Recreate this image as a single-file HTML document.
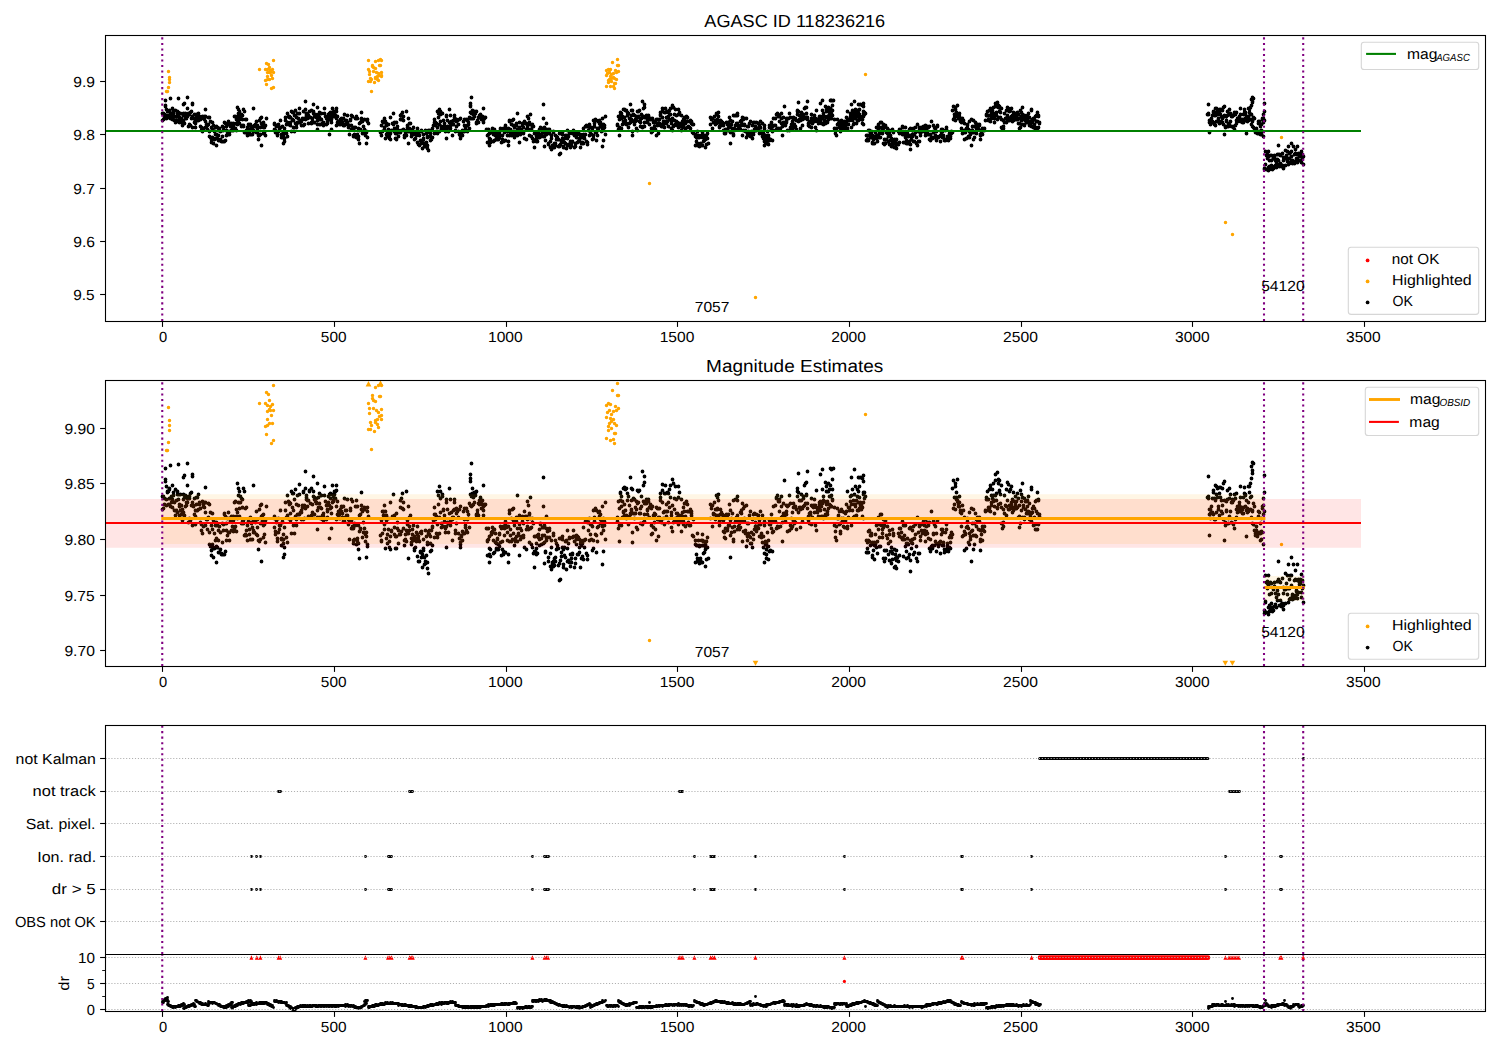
<!DOCTYPE html>
<html lang="en"><head><meta charset="utf-8"><title>AGASC ID 118236216</title>
<style>html,body{margin:0;padding:0;background:#fff;width:1500px;height:1050px;overflow:hidden}svg{display:block;position:absolute;left:0;top:0;font-family:"Liberation Sans",sans-serif}</style></head>
<body>
<svg width="1500" height="1050" viewBox="0 0 1500 1050" font-family="'Liberation Sans', sans-serif" fill="#000" shape-rendering="auto" text-rendering="geometricPrecision">
<defs>
<clipPath id="c1"><rect x="105.5" y="35.5" width="1380.0" height="286.0"/></clipPath>
<clipPath id="c2"><rect x="105.5" y="380.5" width="1380.0" height="286.0"/></clipPath>
<clipPath id="c3"><rect x="105.5" y="725.5" width="1380.0" height="286.0"/></clipPath>
</defs>
<rect width="1500" height="1050" fill="#fff"/>
<g id="ax1">
<path d="M162.5 113.5h.01M162.5 120.5h.01M163.5 113.5h.01M163.5 119.5h.01M164.5 117.5h.01M164.5 114.5h.01M165.5 105.5h.01M165.5 100.5h.01M165.5 106.5h.01M166.5 118.5h.01M166.5 109.5h.01M166.5 115.5h.01M167.5 111.5h.01M168.5 111.5h.01M168.5 117.5h.01M169.5 110.5h.01M169.5 115.5h.01M170.5 98.5h.01M170.5 114.5h.01M170.5 118.5h.01M171.5 113.5h.01M171.5 116.5h.01M172.5 119.5h.01M172.5 108.5h.01M172.5 115.5h.01M173.5 111.5h.01M173.5 113.5h.01M174.5 120.5h.01M174.5 116.5h.01M175.5 110.5h.01M175.5 122.5h.01M176.5 116.5h.01M176.5 120.5h.01M177.5 111.5h.01M177.5 121.5h.01M177.5 113.5h.01M178.5 112.5h.01M178.5 98.5h.01M178.5 115.5h.01M179.5 117.5h.01M179.5 118.5h.01M179.5 122.5h.01M180.5 113.5h.01M180.5 120.5h.01M181.5 122.5h.01M181.5 118.5h.01M182.5 120.5h.01M182.5 125.5h.01M183.5 104.5h.01M183.5 121.5h.01M183.5 115.5h.01M183.5 113.5h.01M184.5 114.5h.01M184.5 123.5h.01M184.5 103.5h.01M185.5 118.5h.01M185.5 113.5h.01M186.5 116.5h.01M186.5 118.5h.01M187.5 116.5h.01M187.5 108.5h.01M187.5 97.5h.01M187.5 114.5h.01M188.5 113.5h.01M188.5 126.5h.01M189.5 114.5h.01M189.5 124.5h.01M190.5 125.5h.01M190.5 112.5h.01M191.5 111.5h.01M191.5 118.5h.01M192.5 104.5h.01M192.5 127.5h.01M192.5 103.5h.01M192.5 116.5h.01M193.5 118.5h.01M194.5 122.5h.01M194.5 114.5h.01M195.5 123.5h.01M195.5 120.5h.01M195.5 127.5h.01M196.5 117.5h.01M196.5 114.5h.01M197.5 114.5h.01M197.5 120.5h.01M198.5 113.5h.01M198.5 120.5h.01M199.5 118.5h.01M199.5 116.5h.01M200.5 126.5h.01M200.5 119.5h.01M201.5 130.5h.01M201.5 127.5h.01M202.5 131.5h.01M202.5 116.5h.01M203.5 128.5h.01M203.5 117.5h.01M203.5 118.5h.01M204.5 119.5h.01M204.5 116.5h.01M205.5 127.5h.01M205.5 109.5h.01M205.5 121.5h.01M205.5 116.5h.01M206.5 124.5h.01M207.5 124.5h.01M207.5 125.5h.01M207.5 129.5h.01M208.5 117.5h.01M208.5 124.5h.01M209.5 117.5h.01M209.5 136.5h.01M209.5 131.5h.01M210.5 121.5h.01M210.5 137.5h.01M211.5 139.5h.01M211.5 142.5h.01M211.5 127.5h.01M212.5 122.5h.01M212.5 129.5h.01M212.5 137.5h.01M213.5 143.5h.01M213.5 125.5h.01M213.5 138.5h.01M214.5 131.5h.01M214.5 139.5h.01M215.5 127.5h.01M215.5 134.5h.01M216.5 138.5h.01M216.5 145.5h.01M216.5 126.5h.01M216.5 134.5h.01M217.5 127.5h.01M217.5 138.5h.01M218.5 135.5h.01M218.5 140.5h.01M218.5 130.5h.01M219.5 140.5h.01M219.5 128.5h.01M220.5 139.5h.01M220.5 131.5h.01M221.5 141.5h.01M222.5 136.5h.01M222.5 126.5h.01M223.5 130.5h.01M223.5 141.5h.01M223.5 127.5h.01M224.5 122.5h.01M224.5 141.5h.01M225.5 140.5h.01M225.5 123.5h.01M226.5 126.5h.01M226.5 135.5h.01M226.5 130.5h.01M227.5 132.5h.01M227.5 124.5h.01M228.5 131.5h.01M228.5 121.5h.01M229.5 124.5h.01M229.5 134.5h.01M229.5 131.5h.01M230.5 125.5h.01M230.5 126.5h.01M231.5 130.5h.01M231.5 123.5h.01M232.5 128.5h.01M232.5 125.5h.01M233.5 125.5h.01M233.5 123.5h.01M233.5 130.5h.01M234.5 116.5h.01M234.5 129.5h.01M235.5 116.5h.01M235.5 128.5h.01M236.5 123.5h.01M236.5 130.5h.01M236.5 119.5h.01M237.5 124.5h.01M237.5 107.5h.01M237.5 121.5h.01M238.5 116.5h.01M238.5 109.5h.01M238.5 113.5h.01M239.5 123.5h.01M239.5 111.5h.01M239.5 119.5h.01M240.5 114.5h.01M240.5 116.5h.01M241.5 126.5h.01M241.5 114.5h.01M242.5 125.5h.01M242.5 119.5h.01M242.5 115.5h.01M243.5 109.5h.01M243.5 126.5h.01M243.5 125.5h.01M244.5 132.5h.01M244.5 111.5h.01M245.5 119.5h.01M245.5 132.5h.01M246.5 119.5h.01M246.5 132.5h.01M246.5 130.5h.01M247.5 135.5h.01M247.5 127.5h.01M248.5 125.5h.01M248.5 124.5h.01M249.5 124.5h.01M249.5 132.5h.01M249.5 129.5h.01M250.5 124.5h.01M250.5 134.5h.01M251.5 126.5h.01M252.5 128.5h.01M252.5 134.5h.01M253.5 130.5h.01M253.5 108.5h.01M253.5 126.5h.01M253.5 131.5h.01M254.5 131.5h.01M254.5 125.5h.01M255.5 126.5h.01M255.5 124.5h.01M256.5 132.5h.01M256.5 121.5h.01M257.5 132.5h.01M257.5 128.5h.01M257.5 125.5h.01M258.5 135.5h.01M258.5 139.5h.01M259.5 135.5h.01M259.5 120.5h.01M260.5 127.5h.01M260.5 134.5h.01M260.5 118.5h.01M261.5 145.5h.01M261.5 123.5h.01M261.5 117.5h.01M262.5 123.5h.01M262.5 125.5h.01M263.5 127.5h.01M263.5 133.5h.01M263.5 122.5h.01M264.5 132.5h.01M264.5 127.5h.01M265.5 135.5h.01M265.5 125.5h.01M266.5 118.5h.01M274.5 123.5h.01M274.5 129.5h.01M274.5 124.5h.01M275.5 130.5h.01M275.5 132.5h.01M276.5 125.5h.01M276.5 126.5h.01M277.5 135.5h.01M277.5 134.5h.01M278.5 131.5h.01M278.5 124.5h.01M279.5 129.5h.01M279.5 127.5h.01M280.5 127.5h.01M280.5 120.5h.01M281.5 137.5h.01M281.5 134.5h.01M282.5 126.5h.01M283.5 136.5h.01M283.5 143.5h.01M283.5 132.5h.01M283.5 134.5h.01M284.5 128.5h.01M284.5 141.5h.01M284.5 138.5h.01M285.5 117.5h.01M285.5 120.5h.01M286.5 133.5h.01M286.5 124.5h.01M287.5 136.5h.01M287.5 122.5h.01M287.5 113.5h.01M288.5 124.5h.01M288.5 116.5h.01M289.5 116.5h.01M289.5 117.5h.01M290.5 117.5h.01M290.5 122.5h.01M290.5 125.5h.01M291.5 131.5h.01M291.5 111.5h.01M292.5 112.5h.01M292.5 119.5h.01M293.5 120.5h.01M293.5 112.5h.01M293.5 127.5h.01M294.5 115.5h.01M294.5 131.5h.01M295.5 123.5h.01M295.5 110.5h.01M296.5 127.5h.01M296.5 117.5h.01M296.5 124.5h.01M297.5 122.5h.01M297.5 113.5h.01M298.5 118.5h.01M298.5 122.5h.01M299.5 108.5h.01M299.5 113.5h.01M299.5 122.5h.01M300.5 121.5h.01M301.5 120.5h.01M301.5 121.5h.01M301.5 125.5h.01M302.5 118.5h.01M302.5 119.5h.01M303.5 125.5h.01M303.5 111.5h.01M304.5 118.5h.01M304.5 124.5h.01M305.5 119.5h.01M305.5 101.5h.01M305.5 109.5h.01M306.5 113.5h.01M306.5 114.5h.01M306.5 115.5h.01M307.5 118.5h.01M307.5 116.5h.01M308.5 123.5h.01M308.5 115.5h.01M309.5 111.5h.01M310.5 117.5h.01M311.5 122.5h.01M311.5 110.5h.01M311.5 123.5h.01M312.5 118.5h.01M312.5 121.5h.01M313.5 113.5h.01M313.5 104.5h.01M313.5 111.5h.01M314.5 122.5h.01M314.5 114.5h.01M314.5 115.5h.01M315.5 114.5h.01M315.5 116.5h.01M316.5 117.5h.01M316.5 115.5h.01M317.5 129.5h.01M317.5 124.5h.01M317.5 107.5h.01M317.5 120.5h.01M318.5 119.5h.01M318.5 114.5h.01M319.5 112.5h.01M319.5 124.5h.01M319.5 117.5h.01M320.5 124.5h.01M320.5 119.5h.01M321.5 113.5h.01M321.5 119.5h.01M322.5 124.5h.01M322.5 123.5h.01M323.5 123.5h.01M323.5 125.5h.01M323.5 122.5h.01M324.5 108.5h.01M324.5 124.5h.01M324.5 113.5h.01M325.5 116.5h.01M326.5 118.5h.01M326.5 124.5h.01M327.5 123.5h.01M327.5 120.5h.01M327.5 121.5h.01M328.5 114.5h.01M328.5 116.5h.01M329.5 118.5h.01M329.5 134.5h.01M329.5 113.5h.01M330.5 119.5h.01M330.5 115.5h.01M330.5 112.5h.01M331.5 119.5h.01M331.5 129.5h.01M331.5 122.5h.01M332.5 116.5h.01M332.5 108.5h.01M332.5 112.5h.01M333.5 114.5h.01M333.5 116.5h.01M333.5 115.5h.01M334.5 112.5h.01M334.5 111.5h.01M335.5 111.5h.01M335.5 115.5h.01M336.5 111.5h.01M336.5 108.5h.01M336.5 118.5h.01M336.5 125.5h.01M337.5 122.5h.01M337.5 116.5h.01M338.5 123.5h.01M338.5 121.5h.01M339.5 122.5h.01M339.5 124.5h.01M340.5 124.5h.01M340.5 119.5h.01M341.5 120.5h.01M341.5 119.5h.01M341.5 118.5h.01M342.5 123.5h.01M342.5 122.5h.01M343.5 125.5h.01M343.5 124.5h.01M343.5 118.5h.01M344.5 114.5h.01M344.5 125.5h.01M345.5 124.5h.01M345.5 120.5h.01M346.5 123.5h.01M346.5 120.5h.01M347.5 115.5h.01M347.5 122.5h.01M347.5 123.5h.01M348.5 125.5h.01M348.5 127.5h.01M349.5 134.5h.01M349.5 125.5h.01M350.5 120.5h.01M350.5 119.5h.01M351.5 129.5h.01M351.5 125.5h.01M351.5 115.5h.01M352.5 116.5h.01M352.5 128.5h.01M353.5 129.5h.01M353.5 135.5h.01M353.5 136.5h.01M354.5 127.5h.01M354.5 134.5h.01M355.5 118.5h.01M355.5 127.5h.01M356.5 137.5h.01M356.5 116.5h.01M357.5 134.5h.01M357.5 118.5h.01M357.5 135.5h.01M358.5 139.5h.01M358.5 128.5h.01M358.5 136.5h.01M359.5 123.5h.01M359.5 143.5h.01M359.5 130.5h.01M360.5 122.5h.01M360.5 129.5h.01M361.5 112.5h.01M361.5 118.5h.01M361.5 119.5h.01M362.5 133.5h.01M362.5 121.5h.01M363.5 131.5h.01M363.5 126.5h.01M364.5 119.5h.01M364.5 129.5h.01M365.5 132.5h.01M365.5 135.5h.01M366.5 131.5h.01M366.5 143.5h.01M366.5 132.5h.01M367.5 137.5h.01M367.5 121.5h.01M367.5 119.5h.01M368.5 123.5h.01M380.5 132.5h.01M381.5 125.5h.01M381.5 135.5h.01M382.5 121.5h.01M382.5 131.5h.01M383.5 122.5h.01M383.5 121.5h.01M384.5 127.5h.01M384.5 129.5h.01M384.5 118.5h.01M385.5 138.5h.01M385.5 121.5h.01M386.5 125.5h.01M386.5 123.5h.01M386.5 134.5h.01M387.5 136.5h.01M387.5 132.5h.01M388.5 124.5h.01M388.5 129.5h.01M389.5 138.5h.01M389.5 135.5h.01M390.5 133.5h.01M390.5 117.5h.01M390.5 139.5h.01M391.5 130.5h.01M392.5 123.5h.01M393.5 113.5h.01M393.5 124.5h.01M394.5 128.5h.01M394.5 131.5h.01M394.5 122.5h.01M395.5 133.5h.01M395.5 138.5h.01M396.5 139.5h.01M396.5 133.5h.01M396.5 122.5h.01M397.5 129.5h.01M397.5 126.5h.01M398.5 130.5h.01M398.5 136.5h.01M399.5 132.5h.01M400.5 132.5h.01M400.5 115.5h.01M400.5 119.5h.01M401.5 130.5h.01M401.5 114.5h.01M402.5 119.5h.01M402.5 112.5h.01M403.5 116.5h.01M403.5 129.5h.01M403.5 120.5h.01M404.5 137.5h.01M404.5 135.5h.01M405.5 132.5h.01M405.5 134.5h.01M406.5 135.5h.01M406.5 111.5h.01M406.5 130.5h.01M407.5 127.5h.01M407.5 131.5h.01M407.5 125.5h.01M408.5 118.5h.01M408.5 143.5h.01M408.5 131.5h.01M409.5 123.5h.01M409.5 130.5h.01M409.5 128.5h.01M410.5 123.5h.01M411.5 136.5h.01M411.5 133.5h.01M412.5 129.5h.01M412.5 132.5h.01M413.5 127.5h.01M413.5 134.5h.01M414.5 132.5h.01M414.5 139.5h.01M415.5 138.5h.01M415.5 134.5h.01M416.5 135.5h.01M416.5 131.5h.01M417.5 132.5h.01M417.5 128.5h.01M417.5 142.5h.01M418.5 133.5h.01M418.5 144.5h.01M418.5 134.5h.01M419.5 135.5h.01M419.5 145.5h.01M420.5 140.5h.01M420.5 131.5h.01M421.5 131.5h.01M421.5 143.5h.01M421.5 130.5h.01M422.5 148.5h.01M422.5 141.5h.01M423.5 134.5h.01M423.5 139.5h.01M423.5 138.5h.01M424.5 146.5h.01M424.5 143.5h.01M425.5 144.5h.01M425.5 146.5h.01M425.5 130.5h.01M426.5 133.5h.01M426.5 142.5h.01M427.5 145.5h.01M427.5 148.5h.01M427.5 137.5h.01M427.5 136.5h.01M428.5 131.5h.01M428.5 150.5h.01M428.5 130.5h.01M429.5 132.5h.01M429.5 130.5h.01M430.5 140.5h.01M430.5 136.5h.01M430.5 133.5h.01M431.5 139.5h.01M431.5 130.5h.01M432.5 128.5h.01M432.5 137.5h.01M433.5 125.5h.01M434.5 122.5h.01M434.5 119.5h.01M434.5 133.5h.01M435.5 122.5h.01M435.5 125.5h.01M436.5 123.5h.01M436.5 131.5h.01M437.5 127.5h.01M437.5 111.5h.01M437.5 132.5h.01M437.5 133.5h.01M438.5 113.5h.01M438.5 117.5h.01M439.5 124.5h.01M439.5 109.5h.01M439.5 131.5h.01M440.5 114.5h.01M440.5 121.5h.01M440.5 111.5h.01M441.5 126.5h.01M441.5 128.5h.01M442.5 113.5h.01M443.5 128.5h.01M443.5 120.5h.01M444.5 126.5h.01M444.5 123.5h.01M445.5 129.5h.01M445.5 131.5h.01M446.5 116.5h.01M446.5 138.5h.01M446.5 115.5h.01M446.5 128.5h.01M447.5 120.5h.01M447.5 126.5h.01M448.5 131.5h.01M448.5 127.5h.01M449.5 109.5h.01M449.5 122.5h.01M449.5 126.5h.01M450.5 128.5h.01M450.5 125.5h.01M450.5 115.5h.01M451.5 121.5h.01M452.5 124.5h.01M452.5 135.5h.01M453.5 120.5h.01M453.5 124.5h.01M454.5 117.5h.01M454.5 120.5h.01M454.5 115.5h.01M455.5 130.5h.01M455.5 131.5h.01M456.5 126.5h.01M456.5 119.5h.01M456.5 121.5h.01M457.5 120.5h.01M458.5 124.5h.01M458.5 131.5h.01M459.5 119.5h.01M459.5 134.5h.01M460.5 138.5h.01M460.5 118.5h.01M460.5 136.5h.01M461.5 133.5h.01M461.5 132.5h.01M462.5 130.5h.01M462.5 135.5h.01M463.5 121.5h.01M463.5 131.5h.01M464.5 119.5h.01M464.5 125.5h.01M464.5 131.5h.01M465.5 129.5h.01M465.5 127.5h.01M466.5 119.5h.01M466.5 130.5h.01M467.5 120.5h.01M467.5 125.5h.01M467.5 131.5h.01M468.5 122.5h.01M468.5 124.5h.01M469.5 128.5h.01M469.5 117.5h.01M470.5 118.5h.01M470.5 103.5h.01M470.5 105.5h.01M470.5 106.5h.01M470.5 112.5h.01M471.5 118.5h.01M471.5 97.5h.01M471.5 113.5h.01M472.5 110.5h.01M472.5 112.5h.01M472.5 118.5h.01M473.5 114.5h.01M473.5 118.5h.01M473.5 112.5h.01M474.5 111.5h.01M474.5 116.5h.01M475.5 113.5h.01M475.5 112.5h.01M476.5 111.5h.01M476.5 122.5h.01M476.5 123.5h.01M477.5 120.5h.01M477.5 122.5h.01M478.5 122.5h.01M478.5 117.5h.01M479.5 115.5h.01M479.5 117.5h.01M480.5 116.5h.01M480.5 114.5h.01M481.5 117.5h.01M481.5 119.5h.01M482.5 117.5h.01M482.5 116.5h.01M483.5 122.5h.01M483.5 108.5h.01M483.5 120.5h.01M483.5 118.5h.01M484.5 118.5h.01M484.5 117.5h.01M485.5 117.5h.01M486.5 129.5h.01M487.5 135.5h.01M487.5 142.5h.01M488.5 129.5h.01M488.5 134.5h.01M489.5 141.5h.01M489.5 145.5h.01M489.5 133.5h.01M489.5 138.5h.01M490.5 142.5h.01M490.5 139.5h.01M491.5 131.5h.01M491.5 132.5h.01M492.5 131.5h.01M492.5 128.5h.01M492.5 130.5h.01M493.5 134.5h.01M493.5 141.5h.01M494.5 129.5h.01M494.5 140.5h.01M495.5 135.5h.01M495.5 131.5h.01M496.5 139.5h.01M496.5 136.5h.01M496.5 138.5h.01M497.5 133.5h.01M497.5 134.5h.01M498.5 139.5h.01M498.5 136.5h.01M499.5 132.5h.01M499.5 137.5h.01M499.5 131.5h.01M500.5 128.5h.01M500.5 135.5h.01M501.5 129.5h.01M501.5 142.5h.01M502.5 139.5h.01M502.5 135.5h.01M503.5 141.5h.01M503.5 140.5h.01M503.5 128.5h.01M504.5 129.5h.01M504.5 132.5h.01M505.5 140.5h.01M505.5 125.5h.01M505.5 127.5h.01M506.5 128.5h.01M507.5 135.5h.01M507.5 131.5h.01M508.5 145.5h.01M508.5 128.5h.01M508.5 141.5h.01M509.5 121.5h.01M509.5 135.5h.01M509.5 120.5h.01M510.5 129.5h.01M510.5 132.5h.01M511.5 135.5h.01M511.5 124.5h.01M512.5 120.5h.01M512.5 134.5h.01M513.5 131.5h.01M513.5 125.5h.01M513.5 119.5h.01M514.5 137.5h.01M514.5 127.5h.01M515.5 135.5h.01M515.5 133.5h.01M516.5 125.5h.01M516.5 123.5h.01M516.5 133.5h.01M517.5 135.5h.01M517.5 113.5h.01M517.5 129.5h.01M518.5 132.5h.01M518.5 131.5h.01M519.5 127.5h.01M519.5 142.5h.01M519.5 122.5h.01M520.5 134.5h.01M520.5 129.5h.01M521.5 130.5h.01M521.5 133.5h.01M522.5 125.5h.01M522.5 123.5h.01M523.5 127.5h.01M523.5 132.5h.01M523.5 133.5h.01M524.5 138.5h.01M524.5 121.5h.01M525.5 123.5h.01M526.5 139.5h.01M526.5 123.5h.01M526.5 129.5h.01M527.5 128.5h.01M527.5 116.5h.01M527.5 125.5h.01M528.5 129.5h.01M528.5 118.5h.01M529.5 122.5h.01M529.5 135.5h.01M530.5 124.5h.01M530.5 114.5h.01M530.5 129.5h.01M531.5 136.5h.01M531.5 129.5h.01M532.5 126.5h.01M532.5 124.5h.01M532.5 138.5h.01M533.5 126.5h.01M533.5 141.5h.01M534.5 147.5h.01M534.5 140.5h.01M534.5 133.5h.01M535.5 140.5h.01M535.5 133.5h.01M536.5 136.5h.01M536.5 141.5h.01M536.5 138.5h.01M537.5 132.5h.01M537.5 141.5h.01M538.5 132.5h.01M538.5 133.5h.01M539.5 134.5h.01M539.5 137.5h.01M539.5 129.5h.01M540.5 127.5h.01M541.5 134.5h.01M541.5 136.5h.01M542.5 132.5h.01M542.5 128.5h.01M543.5 136.5h.01M543.5 104.5h.01M543.5 118.5h.01M543.5 129.5h.01M544.5 127.5h.01M544.5 132.5h.01M544.5 146.5h.01M544.5 136.5h.01M545.5 140.5h.01M546.5 134.5h.01M546.5 123.5h.01M546.5 129.5h.01M547.5 133.5h.01M547.5 130.5h.01M548.5 143.5h.01M548.5 144.5h.01M548.5 129.5h.01M549.5 133.5h.01M549.5 130.5h.01M549.5 129.5h.01M550.5 141.5h.01M550.5 147.5h.01M551.5 138.5h.01M551.5 149.5h.01M551.5 135.5h.01M552.5 145.5h.01M552.5 146.5h.01M553.5 147.5h.01M553.5 131.5h.01M553.5 132.5h.01M553.5 145.5h.01M554.5 143.5h.01M554.5 147.5h.01M555.5 145.5h.01M555.5 143.5h.01M555.5 135.5h.01M556.5 139.5h.01M556.5 136.5h.01M557.5 138.5h.01M557.5 137.5h.01M558.5 139.5h.01M558.5 146.5h.01M559.5 154.5h.01M559.5 133.5h.01M559.5 145.5h.01M559.5 146.5h.01M560.5 153.5h.01M560.5 144.5h.01M560.5 133.5h.01M561.5 140.5h.01M561.5 142.5h.01M562.5 134.5h.01M562.5 132.5h.01M562.5 138.5h.01M563.5 147.5h.01M563.5 146.5h.01M563.5 139.5h.01M564.5 138.5h.01M564.5 142.5h.01M565.5 143.5h.01M565.5 135.5h.01M566.5 148.5h.01M566.5 135.5h.01M567.5 145.5h.01M567.5 138.5h.01M567.5 130.5h.01M568.5 144.5h.01M568.5 136.5h.01M569.5 133.5h.01M569.5 145.5h.01M570.5 147.5h.01M570.5 141.5h.01M571.5 145.5h.01M571.5 143.5h.01M572.5 141.5h.01M572.5 133.5h.01M573.5 130.5h.01M573.5 133.5h.01M574.5 133.5h.01M574.5 147.5h.01M574.5 135.5h.01M575.5 143.5h.01M575.5 146.5h.01M576.5 137.5h.01M576.5 134.5h.01M576.5 132.5h.01M577.5 142.5h.01M577.5 133.5h.01M578.5 141.5h.01M578.5 133.5h.01M579.5 138.5h.01M579.5 134.5h.01M579.5 140.5h.01M580.5 147.5h.01M580.5 136.5h.01M580.5 134.5h.01M581.5 137.5h.01M581.5 143.5h.01M582.5 136.5h.01M582.5 142.5h.01M583.5 134.5h.01M583.5 128.5h.01M583.5 143.5h.01M584.5 138.5h.01M584.5 135.5h.01M585.5 134.5h.01M585.5 126.5h.01M586.5 125.5h.01M586.5 141.5h.01M587.5 144.5h.01M587.5 142.5h.01M587.5 126.5h.01M588.5 130.5h.01M588.5 126.5h.01M589.5 135.5h.01M589.5 124.5h.01M590.5 127.5h.01M590.5 132.5h.01M591.5 134.5h.01M591.5 127.5h.01M592.5 128.5h.01M592.5 139.5h.01M593.5 120.5h.01M593.5 135.5h.01M593.5 138.5h.01M594.5 126.5h.01M594.5 123.5h.01M595.5 119.5h.01M595.5 132.5h.01M596.5 120.5h.01M596.5 140.5h.01M596.5 132.5h.01M597.5 135.5h.01M597.5 128.5h.01M598.5 128.5h.01M598.5 121.5h.01M599.5 123.5h.01M599.5 120.5h.01M600.5 125.5h.01M600.5 126.5h.01M600.5 122.5h.01M601.5 125.5h.01M601.5 131.5h.01M602.5 118.5h.01M602.5 146.5h.01M602.5 128.5h.01M603.5 124.5h.01M603.5 126.5h.01M603.5 140.5h.01M603.5 130.5h.01M604.5 127.5h.01M604.5 125.5h.01M605.5 116.5h.01M605.5 134.5h.01M617.5 124.5h.01M617.5 125.5h.01M618.5 116.5h.01M618.5 129.5h.01M619.5 127.5h.01M619.5 135.5h.01M619.5 119.5h.01M620.5 115.5h.01M620.5 112.5h.01M621.5 128.5h.01M621.5 113.5h.01M621.5 118.5h.01M622.5 124.5h.01M622.5 116.5h.01M623.5 109.5h.01M623.5 121.5h.01M624.5 123.5h.01M624.5 109.5h.01M624.5 117.5h.01M625.5 120.5h.01M625.5 110.5h.01M626.5 124.5h.01M626.5 123.5h.01M626.5 110.5h.01M627.5 115.5h.01M627.5 112.5h.01M628.5 113.5h.01M628.5 127.5h.01M629.5 123.5h.01M629.5 118.5h.01M630.5 122.5h.01M630.5 121.5h.01M630.5 104.5h.01M631.5 115.5h.01M631.5 120.5h.01M631.5 110.5h.01M631.5 119.5h.01M632.5 110.5h.01M632.5 135.5h.01M632.5 131.5h.01M633.5 121.5h.01M633.5 114.5h.01M634.5 122.5h.01M634.5 124.5h.01M634.5 115.5h.01M635.5 119.5h.01M635.5 121.5h.01M636.5 116.5h.01M636.5 120.5h.01M636.5 128.5h.01M637.5 111.5h.01M637.5 130.5h.01M637.5 117.5h.01M638.5 116.5h.01M638.5 111.5h.01M639.5 110.5h.01M639.5 121.5h.01M640.5 126.5h.01M640.5 119.5h.01M640.5 122.5h.01M641.5 118.5h.01M641.5 114.5h.01M642.5 101.5h.01M642.5 127.5h.01M643.5 108.5h.01M643.5 126.5h.01M643.5 116.5h.01M644.5 122.5h.01M644.5 107.5h.01M644.5 117.5h.01M644.5 104.5h.01M644.5 126.5h.01M645.5 117.5h.01M646.5 117.5h.01M646.5 115.5h.01M647.5 122.5h.01M647.5 120.5h.01M647.5 119.5h.01M648.5 115.5h.01M648.5 116.5h.01M649.5 124.5h.01M649.5 119.5h.01M650.5 118.5h.01M651.5 119.5h.01M651.5 128.5h.01M651.5 132.5h.01M652.5 118.5h.01M652.5 131.5h.01M653.5 128.5h.01M653.5 122.5h.01M654.5 126.5h.01M654.5 121.5h.01M654.5 122.5h.01M655.5 122.5h.01M655.5 129.5h.01M656.5 119.5h.01M656.5 135.5h.01M657.5 119.5h.01M657.5 125.5h.01M658.5 133.5h.01M658.5 124.5h.01M658.5 123.5h.01M659.5 119.5h.01M659.5 123.5h.01M660.5 115.5h.01M660.5 112.5h.01M660.5 114.5h.01M660.5 125.5h.01M661.5 126.5h.01M661.5 124.5h.01M662.5 111.5h.01M662.5 108.5h.01M662.5 117.5h.01M663.5 121.5h.01M663.5 124.5h.01M664.5 112.5h.01M664.5 127.5h.01M664.5 121.5h.01M665.5 112.5h.01M665.5 108.5h.01M666.5 123.5h.01M666.5 121.5h.01M666.5 117.5h.01M667.5 111.5h.01M667.5 121.5h.01M668.5 112.5h.01M668.5 116.5h.01M668.5 126.5h.01M669.5 110.5h.01M669.5 119.5h.01M670.5 108.5h.01M670.5 114.5h.01M671.5 123.5h.01M671.5 128.5h.01M671.5 121.5h.01M672.5 130.5h.01M672.5 105.5h.01M672.5 118.5h.01M673.5 107.5h.01M673.5 126.5h.01M674.5 120.5h.01M674.5 125.5h.01M674.5 114.5h.01M675.5 124.5h.01M675.5 109.5h.01M676.5 115.5h.01M676.5 121.5h.01M677.5 123.5h.01M677.5 125.5h.01M677.5 122.5h.01M678.5 114.5h.01M678.5 109.5h.01M678.5 127.5h.01M679.5 125.5h.01M679.5 112.5h.01M679.5 123.5h.01M680.5 125.5h.01M680.5 126.5h.01M681.5 130.5h.01M681.5 115.5h.01M681.5 123.5h.01M682.5 123.5h.01M682.5 121.5h.01M683.5 119.5h.01M683.5 126.5h.01M683.5 127.5h.01M684.5 117.5h.01M684.5 120.5h.01M685.5 123.5h.01M685.5 128.5h.01M686.5 117.5h.01M686.5 116.5h.01M687.5 121.5h.01M687.5 117.5h.01M687.5 127.5h.01M688.5 126.5h.01M689.5 127.5h.01M689.5 121.5h.01M690.5 128.5h.01M690.5 120.5h.01M691.5 123.5h.01M691.5 121.5h.01M691.5 122.5h.01M692.5 132.5h.01M692.5 124.5h.01M693.5 124.5h.01M693.5 133.5h.01M695.5 145.5h.01M695.5 134.5h.01M695.5 136.5h.01M696.5 141.5h.01M696.5 137.5h.01M697.5 131.5h.01M697.5 143.5h.01M697.5 145.5h.01M697.5 137.5h.01M698.5 135.5h.01M699.5 137.5h.01M699.5 146.5h.01M699.5 144.5h.01M700.5 144.5h.01M700.5 143.5h.01M701.5 145.5h.01M701.5 135.5h.01M702.5 135.5h.01M702.5 132.5h.01M702.5 145.5h.01M702.5 137.5h.01M703.5 135.5h.01M703.5 141.5h.01M704.5 135.5h.01M704.5 140.5h.01M705.5 139.5h.01M705.5 147.5h.01M705.5 137.5h.01M705.5 136.5h.01M706.5 135.5h.01M706.5 144.5h.01M707.5 138.5h.01M707.5 133.5h.01M708.5 143.5h.01M710.5 117.5h.01M710.5 124.5h.01M711.5 118.5h.01M711.5 119.5h.01M712.5 128.5h.01M712.5 118.5h.01M713.5 122.5h.01M714.5 122.5h.01M714.5 116.5h.01M715.5 120.5h.01M715.5 124.5h.01M716.5 123.5h.01M716.5 113.5h.01M717.5 120.5h.01M717.5 114.5h.01M717.5 119.5h.01M718.5 122.5h.01M718.5 112.5h.01M718.5 116.5h.01M719.5 126.5h.01M719.5 127.5h.01M720.5 122.5h.01M720.5 120.5h.01M720.5 125.5h.01M721.5 125.5h.01M721.5 121.5h.01M722.5 122.5h.01M722.5 124.5h.01M723.5 130.5h.01M723.5 125.5h.01M723.5 123.5h.01M724.5 133.5h.01M724.5 131.5h.01M725.5 133.5h.01M725.5 129.5h.01M726.5 122.5h.01M727.5 130.5h.01M727.5 124.5h.01M727.5 129.5h.01M728.5 122.5h.01M728.5 127.5h.01M729.5 127.5h.01M729.5 117.5h.01M730.5 120.5h.01M730.5 143.5h.01M730.5 132.5h.01M730.5 125.5h.01M731.5 124.5h.01M731.5 131.5h.01M732.5 121.5h.01M732.5 128.5h.01M733.5 115.5h.01M733.5 134.5h.01M733.5 135.5h.01M734.5 130.5h.01M734.5 128.5h.01M735.5 115.5h.01M735.5 125.5h.01M736.5 123.5h.01M736.5 115.5h.01M737.5 115.5h.01M737.5 129.5h.01M737.5 113.5h.01M737.5 123.5h.01M738.5 128.5h.01M738.5 125.5h.01M739.5 127.5h.01M739.5 129.5h.01M740.5 121.5h.01M740.5 129.5h.01M741.5 122.5h.01M741.5 120.5h.01M741.5 125.5h.01M742.5 117.5h.01M742.5 135.5h.01M743.5 130.5h.01M743.5 119.5h.01M744.5 125.5h.01M744.5 118.5h.01M744.5 124.5h.01M745.5 130.5h.01M745.5 131.5h.01M746.5 118.5h.01M746.5 137.5h.01M747.5 133.5h.01M747.5 135.5h.01M747.5 126.5h.01M748.5 126.5h.01M748.5 131.5h.01M749.5 123.5h.01M749.5 132.5h.01M750.5 133.5h.01M750.5 136.5h.01M750.5 121.5h.01M751.5 136.5h.01M751.5 131.5h.01M752.5 138.5h.01M752.5 125.5h.01M753.5 134.5h.01M753.5 132.5h.01M753.5 122.5h.01M754.5 129.5h.01M754.5 122.5h.01M755.5 128.5h.01M755.5 126.5h.01M756.5 130.5h.01M756.5 122.5h.01M756.5 128.5h.01M757.5 129.5h.01M757.5 128.5h.01M758.5 123.5h.01M758.5 129.5h.01M759.5 133.5h.01M759.5 127.5h.01M759.5 125.5h.01M760.5 127.5h.01M760.5 121.5h.01M761.5 131.5h.01M761.5 133.5h.01M762.5 123.5h.01M762.5 136.5h.01M763.5 138.5h.01M763.5 133.5h.01M764.5 128.5h.01M764.5 141.5h.01M764.5 145.5h.01M764.5 125.5h.01M765.5 135.5h.01M765.5 136.5h.01M766.5 143.5h.01M766.5 136.5h.01M766.5 141.5h.01M766.5 139.5h.01M767.5 137.5h.01M767.5 131.5h.01M768.5 144.5h.01M768.5 135.5h.01M768.5 137.5h.01M769.5 140.5h.01M769.5 127.5h.01M769.5 125.5h.01M770.5 139.5h.01M770.5 127.5h.01M771.5 122.5h.01M771.5 129.5h.01M772.5 140.5h.01M772.5 126.5h.01M772.5 125.5h.01M772.5 131.5h.01M773.5 130.5h.01M773.5 118.5h.01M774.5 125.5h.01M775.5 118.5h.01M775.5 125.5h.01M776.5 114.5h.01M776.5 129.5h.01M777.5 128.5h.01M777.5 113.5h.01M778.5 116.5h.01M778.5 128.5h.01M779.5 116.5h.01M779.5 121.5h.01M779.5 115.5h.01M780.5 128.5h.01M781.5 118.5h.01M781.5 123.5h.01M781.5 113.5h.01M782.5 123.5h.01M782.5 135.5h.01M782.5 126.5h.01M783.5 117.5h.01M783.5 122.5h.01M784.5 124.5h.01M784.5 122.5h.01M784.5 106.5h.01M784.5 123.5h.01M785.5 125.5h.01M785.5 124.5h.01M786.5 121.5h.01M786.5 118.5h.01M786.5 122.5h.01M787.5 118.5h.01M787.5 130.5h.01M788.5 118.5h.01M789.5 130.5h.01M789.5 113.5h.01M790.5 117.5h.01M790.5 127.5h.01M791.5 124.5h.01M791.5 129.5h.01M791.5 128.5h.01M792.5 128.5h.01M792.5 121.5h.01M793.5 126.5h.01M793.5 119.5h.01M793.5 117.5h.01M794.5 127.5h.01M794.5 124.5h.01M795.5 126.5h.01M795.5 118.5h.01M796.5 129.5h.01M796.5 120.5h.01M797.5 114.5h.01M797.5 111.5h.01M797.5 110.5h.01M798.5 121.5h.01M798.5 102.5h.01M798.5 111.5h.01M799.5 119.5h.01M799.5 115.5h.01M800.5 119.5h.01M800.5 128.5h.01M800.5 120.5h.01M801.5 112.5h.01M801.5 116.5h.01M802.5 119.5h.01M802.5 125.5h.01M803.5 114.5h.01M803.5 118.5h.01M804.5 118.5h.01M804.5 108.5h.01M805.5 107.5h.01M805.5 117.5h.01M806.5 107.5h.01M806.5 113.5h.01M807.5 101.5h.01M807.5 119.5h.01M807.5 117.5h.01M808.5 123.5h.01M808.5 125.5h.01M809.5 122.5h.01M809.5 126.5h.01M810.5 122.5h.01M810.5 121.5h.01M811.5 127.5h.01M811.5 118.5h.01M811.5 114.5h.01M812.5 118.5h.01M812.5 123.5h.01M813.5 119.5h.01M813.5 118.5h.01M814.5 121.5h.01M814.5 118.5h.01M814.5 115.5h.01M815.5 127.5h.01M815.5 118.5h.01M816.5 119.5h.01M816.5 130.5h.01M816.5 110.5h.01M817.5 120.5h.01M817.5 121.5h.01M817.5 119.5h.01M818.5 120.5h.01M818.5 123.5h.01M819.5 119.5h.01M819.5 117.5h.01M819.5 116.5h.01M820.5 103.5h.01M820.5 120.5h.01M820.5 116.5h.01M821.5 118.5h.01M821.5 123.5h.01M822.5 117.5h.01M822.5 100.5h.01M822.5 110.5h.01M822.5 123.5h.01M823.5 113.5h.01M823.5 124.5h.01M823.5 115.5h.01M824.5 116.5h.01M824.5 120.5h.01M825.5 123.5h.01M825.5 106.5h.01M825.5 122.5h.01M826.5 109.5h.01M826.5 117.5h.01M826.5 111.5h.01M827.5 121.5h.01M827.5 122.5h.01M827.5 116.5h.01M828.5 111.5h.01M828.5 107.5h.01M828.5 119.5h.01M829.5 114.5h.01M829.5 110.5h.01M829.5 117.5h.01M830.5 108.5h.01M830.5 100.5h.01M830.5 118.5h.01M830.5 113.5h.01M831.5 118.5h.01M831.5 100.5h.01M831.5 113.5h.01M832.5 105.5h.01M832.5 115.5h.01M832.5 110.5h.01M833.5 100.5h.01M834.5 119.5h.01M834.5 128.5h.01M835.5 133.5h.01M835.5 130.5h.01M836.5 128.5h.01M836.5 135.5h.01M837.5 119.5h.01M837.5 124.5h.01M838.5 124.5h.01M838.5 123.5h.01M839.5 127.5h.01M839.5 121.5h.01M840.5 130.5h.01M840.5 131.5h.01M840.5 127.5h.01M841.5 120.5h.01M841.5 124.5h.01M842.5 125.5h.01M842.5 121.5h.01M843.5 128.5h.01M843.5 124.5h.01M844.5 128.5h.01M844.5 121.5h.01M845.5 125.5h.01M845.5 122.5h.01M846.5 121.5h.01M846.5 117.5h.01M847.5 129.5h.01M847.5 111.5h.01M847.5 128.5h.01M848.5 119.5h.01M848.5 124.5h.01M849.5 120.5h.01M849.5 119.5h.01M850.5 113.5h.01M850.5 116.5h.01M851.5 127.5h.01M851.5 104.5h.01M851.5 117.5h.01M851.5 113.5h.01M852.5 110.5h.01M852.5 120.5h.01M853.5 115.5h.01M853.5 124.5h.01M854.5 112.5h.01M854.5 101.5h.01M854.5 117.5h.01M854.5 123.5h.01M855.5 118.5h.01M855.5 109.5h.01M855.5 117.5h.01M856.5 123.5h.01M856.5 115.5h.01M857.5 120.5h.01M857.5 113.5h.01M857.5 110.5h.01M858.5 120.5h.01M858.5 116.5h.01M858.5 104.5h.01M858.5 111.5h.01M859.5 114.5h.01M859.5 109.5h.01M859.5 119.5h.01M860.5 117.5h.01M860.5 104.5h.01M860.5 118.5h.01M860.5 116.5h.01M861.5 118.5h.01M861.5 119.5h.01M862.5 119.5h.01M862.5 105.5h.01M862.5 123.5h.01M863.5 116.5h.01M863.5 103.5h.01M863.5 106.5h.01M863.5 111.5h.01M863.5 113.5h.01M863.5 124.5h.01M864.5 114.5h.01M864.5 112.5h.01M865.5 113.5h.01M866.5 140.5h.01M866.5 135.5h.01M867.5 135.5h.01M867.5 139.5h.01M868.5 140.5h.01M868.5 130.5h.01M868.5 135.5h.01M869.5 130.5h.01M869.5 135.5h.01M870.5 137.5h.01M870.5 132.5h.01M871.5 131.5h.01M871.5 132.5h.01M872.5 142.5h.01M872.5 143.5h.01M872.5 135.5h.01M873.5 139.5h.01M873.5 136.5h.01M873.5 137.5h.01M874.5 143.5h.01M874.5 136.5h.01M874.5 137.5h.01M875.5 132.5h.01M875.5 136.5h.01M876.5 138.5h.01M876.5 127.5h.01M877.5 141.5h.01M877.5 135.5h.01M878.5 129.5h.01M878.5 124.5h.01M879.5 127.5h.01M879.5 133.5h.01M879.5 137.5h.01M880.5 137.5h.01M880.5 122.5h.01M881.5 122.5h.01M881.5 127.5h.01M882.5 133.5h.01M882.5 129.5h.01M882.5 131.5h.01M883.5 124.5h.01M883.5 143.5h.01M883.5 128.5h.01M884.5 144.5h.01M884.5 127.5h.01M884.5 139.5h.01M885.5 125.5h.01M885.5 143.5h.01M885.5 126.5h.01M886.5 139.5h.01M886.5 132.5h.01M887.5 133.5h.01M887.5 128.5h.01M888.5 136.5h.01M888.5 141.5h.01M889.5 144.5h.01M889.5 130.5h.01M889.5 132.5h.01M890.5 140.5h.01M890.5 135.5h.01M891.5 146.5h.01M891.5 138.5h.01M891.5 140.5h.01M892.5 144.5h.01M892.5 141.5h.01M892.5 129.5h.01M893.5 131.5h.01M893.5 132.5h.01M894.5 147.5h.01M894.5 139.5h.01M895.5 143.5h.01M895.5 147.5h.01M895.5 141.5h.01M896.5 139.5h.01M896.5 144.5h.01M896.5 148.5h.01M897.5 143.5h.01M898.5 131.5h.01M898.5 144.5h.01M899.5 142.5h.01M899.5 133.5h.01M899.5 129.5h.01M900.5 129.5h.01M901.5 133.5h.01M901.5 131.5h.01M902.5 134.5h.01M902.5 126.5h.01M903.5 127.5h.01M903.5 134.5h.01M903.5 142.5h.01M904.5 134.5h.01M904.5 132.5h.01M905.5 127.5h.01M905.5 137.5h.01M906.5 140.5h.01M906.5 143.5h.01M906.5 136.5h.01M907.5 133.5h.01M907.5 136.5h.01M908.5 136.5h.01M908.5 143.5h.01M909.5 129.5h.01M909.5 141.5h.01M910.5 128.5h.01M910.5 135.5h.01M910.5 149.5h.01M910.5 144.5h.01M911.5 136.5h.01M911.5 139.5h.01M912.5 136.5h.01M912.5 130.5h.01M912.5 134.5h.01M913.5 141.5h.01M913.5 128.5h.01M914.5 134.5h.01M914.5 141.5h.01M915.5 132.5h.01M915.5 127.5h.01M916.5 143.5h.01M916.5 137.5h.01M917.5 145.5h.01M917.5 124.5h.01M918.5 141.5h.01M918.5 131.5h.01M919.5 127.5h.01M919.5 141.5h.01M919.5 128.5h.01M920.5 133.5h.01M920.5 135.5h.01M921.5 127.5h.01M921.5 130.5h.01M922.5 130.5h.01M922.5 131.5h.01M923.5 126.5h.01M924.5 130.5h.01M924.5 131.5h.01M924.5 128.5h.01M925.5 132.5h.01M925.5 135.5h.01M925.5 125.5h.01M926.5 128.5h.01M926.5 130.5h.01M927.5 126.5h.01M927.5 131.5h.01M928.5 134.5h.01M928.5 127.5h.01M929.5 139.5h.01M929.5 126.5h.01M930.5 140.5h.01M930.5 134.5h.01M930.5 139.5h.01M931.5 121.5h.01M931.5 137.5h.01M932.5 138.5h.01M932.5 137.5h.01M933.5 125.5h.01M933.5 132.5h.01M933.5 131.5h.01M934.5 127.5h.01M934.5 137.5h.01M935.5 128.5h.01M935.5 135.5h.01M936.5 131.5h.01M936.5 136.5h.01M936.5 140.5h.01M937.5 125.5h.01M937.5 126.5h.01M938.5 137.5h.01M939.5 136.5h.01M940.5 135.5h.01M940.5 141.5h.01M941.5 132.5h.01M941.5 129.5h.01M942.5 129.5h.01M942.5 131.5h.01M942.5 137.5h.01M943.5 137.5h.01M943.5 135.5h.01M944.5 140.5h.01M944.5 139.5h.01M945.5 130.5h.01M945.5 140.5h.01M946.5 127.5h.01M946.5 139.5h.01M946.5 129.5h.01M947.5 136.5h.01M947.5 137.5h.01M948.5 140.5h.01M948.5 138.5h.01M949.5 133.5h.01M949.5 138.5h.01M950.5 138.5h.01M950.5 136.5h.01M950.5 132.5h.01M951.5 131.5h.01M951.5 133.5h.01M952.5 132.5h.01M952.5 110.5h.01M953.5 106.5h.01M953.5 119.5h.01M954.5 117.5h.01M954.5 114.5h.01M955.5 120.5h.01M955.5 109.5h.01M955.5 107.5h.01M956.5 112.5h.01M956.5 115.5h.01M956.5 114.5h.01M957.5 116.5h.01M957.5 105.5h.01M958.5 117.5h.01M958.5 118.5h.01M959.5 113.5h.01M959.5 118.5h.01M959.5 116.5h.01M960.5 121.5h.01M960.5 120.5h.01M961.5 128.5h.01M961.5 122.5h.01M962.5 118.5h.01M962.5 133.5h.01M963.5 120.5h.01M963.5 132.5h.01M964.5 130.5h.01M964.5 139.5h.01M964.5 123.5h.01M965.5 132.5h.01M965.5 131.5h.01M966.5 138.5h.01M966.5 128.5h.01M967.5 128.5h.01M967.5 124.5h.01M967.5 125.5h.01M968.5 136.5h.01M968.5 129.5h.01M969.5 131.5h.01M969.5 137.5h.01M969.5 121.5h.01M970.5 134.5h.01M970.5 133.5h.01M971.5 119.5h.01M971.5 145.5h.01M971.5 130.5h.01M972.5 130.5h.01M972.5 126.5h.01M973.5 139.5h.01M973.5 120.5h.01M973.5 132.5h.01M974.5 137.5h.01M974.5 126.5h.01M975.5 132.5h.01M975.5 122.5h.01M976.5 124.5h.01M976.5 133.5h.01M976.5 128.5h.01M977.5 124.5h.01M977.5 125.5h.01M978.5 129.5h.01M978.5 126.5h.01M979.5 125.5h.01M979.5 124.5h.01M980.5 130.5h.01M980.5 134.5h.01M980.5 139.5h.01M980.5 135.5h.01M981.5 130.5h.01M981.5 132.5h.01M982.5 134.5h.01M982.5 129.5h.01M982.5 128.5h.01M983.5 130.5h.01M984.5 130.5h.01M984.5 128.5h.01M985.5 120.5h.01M986.5 114.5h.01M986.5 115.5h.01M987.5 111.5h.01M987.5 115.5h.01M988.5 119.5h.01M988.5 120.5h.01M988.5 115.5h.01M989.5 110.5h.01M989.5 119.5h.01M990.5 121.5h.01M990.5 108.5h.01M990.5 110.5h.01M991.5 118.5h.01M991.5 116.5h.01M991.5 113.5h.01M992.5 110.5h.01M992.5 115.5h.01M993.5 113.5h.01M993.5 107.5h.01M993.5 116.5h.01M994.5 118.5h.01M994.5 115.5h.01M994.5 122.5h.01M995.5 106.5h.01M995.5 103.5h.01M995.5 113.5h.01M996.5 112.5h.01M996.5 115.5h.01M997.5 119.5h.01M997.5 102.5h.01M998.5 105.5h.01M998.5 107.5h.01M998.5 117.5h.01M999.5 106.5h.01M999.5 111.5h.01M1000.5 117.5h.01M1000.5 112.5h.01M1001.5 108.5h.01M1001.5 119.5h.01M1001.5 127.5h.01M1002.5 129.5h.01M1003.5 120.5h.01M1003.5 128.5h.01M1003.5 126.5h.01M1004.5 113.5h.01M1004.5 122.5h.01M1005.5 118.5h.01M1006.5 122.5h.01M1006.5 110.5h.01M1006.5 118.5h.01M1007.5 115.5h.01M1007.5 107.5h.01M1007.5 116.5h.01M1008.5 120.5h.01M1008.5 108.5h.01M1009.5 120.5h.01M1009.5 111.5h.01M1009.5 118.5h.01M1010.5 110.5h.01M1010.5 119.5h.01M1011.5 108.5h.01M1011.5 116.5h.01M1011.5 119.5h.01M1011.5 118.5h.01M1012.5 115.5h.01M1012.5 121.5h.01M1013.5 120.5h.01M1013.5 112.5h.01M1014.5 119.5h.01M1014.5 116.5h.01M1015.5 119.5h.01M1015.5 113.5h.01M1015.5 117.5h.01M1016.5 119.5h.01M1016.5 116.5h.01M1017.5 119.5h.01M1017.5 112.5h.01M1018.5 114.5h.01M1018.5 123.5h.01M1019.5 123.5h.01M1019.5 128.5h.01M1019.5 118.5h.01M1020.5 127.5h.01M1020.5 110.5h.01M1021.5 116.5h.01M1021.5 120.5h.01M1021.5 112.5h.01M1022.5 107.5h.01M1022.5 114.5h.01M1022.5 124.5h.01M1023.5 118.5h.01M1023.5 119.5h.01M1024.5 115.5h.01M1024.5 124.5h.01M1024.5 125.5h.01M1025.5 120.5h.01M1025.5 116.5h.01M1026.5 122.5h.01M1026.5 116.5h.01M1027.5 115.5h.01M1027.5 118.5h.01M1028.5 121.5h.01M1028.5 122.5h.01M1028.5 113.5h.01M1029.5 117.5h.01M1029.5 125.5h.01M1030.5 121.5h.01M1030.5 123.5h.01M1031.5 122.5h.01M1031.5 109.5h.01M1031.5 110.5h.01M1031.5 126.5h.01M1032.5 121.5h.01M1032.5 119.5h.01M1033.5 127.5h.01M1033.5 118.5h.01M1034.5 119.5h.01M1034.5 124.5h.01M1035.5 127.5h.01M1035.5 129.5h.01M1035.5 116.5h.01M1036.5 121.5h.01M1036.5 115.5h.01M1037.5 129.5h.01M1037.5 112.5h.01M1037.5 121.5h.01M1038.5 127.5h.01M1038.5 116.5h.01M1038.5 115.5h.01M1039.5 122.5h.01M1039.5 123.5h.01M1207.5 114.5h.01M1208.5 114.5h.01M1208.5 104.5h.01M1208.5 113.5h.01M1209.5 120.5h.01M1209.5 122.5h.01M1209.5 132.5h.01M1210.5 120.5h.01M1210.5 124.5h.01M1210.5 122.5h.01M1211.5 122.5h.01M1211.5 118.5h.01M1212.5 115.5h.01M1212.5 121.5h.01M1213.5 111.5h.01M1213.5 122.5h.01M1213.5 112.5h.01M1214.5 124.5h.01M1214.5 115.5h.01M1215.5 108.5h.01M1215.5 115.5h.01M1215.5 125.5h.01M1216.5 112.5h.01M1216.5 108.5h.01M1216.5 121.5h.01M1217.5 110.5h.01M1217.5 114.5h.01M1218.5 120.5h.01M1218.5 118.5h.01M1219.5 112.5h.01M1219.5 109.5h.01M1219.5 123.5h.01M1220.5 109.5h.01M1220.5 114.5h.01M1221.5 121.5h.01M1221.5 116.5h.01M1222.5 110.5h.01M1222.5 122.5h.01M1222.5 118.5h.01M1223.5 124.5h.01M1223.5 107.5h.01M1224.5 116.5h.01M1224.5 106.5h.01M1224.5 134.5h.01M1224.5 115.5h.01M1225.5 127.5h.01M1225.5 126.5h.01M1226.5 116.5h.01M1226.5 121.5h.01M1226.5 120.5h.01M1227.5 115.5h.01M1227.5 111.5h.01M1228.5 126.5h.01M1228.5 124.5h.01M1229.5 114.5h.01M1229.5 109.5h.01M1229.5 123.5h.01M1230.5 121.5h.01M1230.5 113.5h.01M1231.5 126.5h.01M1231.5 116.5h.01M1232.5 116.5h.01M1232.5 115.5h.01M1233.5 115.5h.01M1233.5 127.5h.01M1233.5 126.5h.01M1234.5 129.5h.01M1234.5 112.5h.01M1235.5 114.5h.01M1235.5 125.5h.01M1236.5 112.5h.01M1236.5 120.5h.01M1236.5 123.5h.01M1237.5 121.5h.01M1237.5 118.5h.01M1238.5 120.5h.01M1238.5 119.5h.01M1239.5 118.5h.01M1239.5 116.5h.01M1240.5 114.5h.01M1240.5 108.5h.01M1240.5 121.5h.01M1241.5 119.5h.01M1241.5 120.5h.01M1242.5 122.5h.01M1242.5 119.5h.01M1243.5 119.5h.01M1243.5 122.5h.01M1243.5 114.5h.01M1244.5 112.5h.01M1244.5 109.5h.01M1245.5 118.5h.01M1245.5 112.5h.01M1245.5 113.5h.01M1246.5 120.5h.01M1246.5 133.5h.01M1246.5 116.5h.01M1247.5 121.5h.01M1247.5 119.5h.01M1248.5 120.5h.01M1248.5 108.5h.01M1248.5 116.5h.01M1249.5 112.5h.01M1249.5 109.5h.01M1250.5 107.5h.01M1250.5 114.5h.01M1250.5 119.5h.01M1251.5 99.5h.01M1251.5 124.5h.01M1251.5 105.5h.01M1251.5 114.5h.01M1252.5 97.5h.01M1252.5 102.5h.01M1252.5 120.5h.01M1252.5 101.5h.01M1252.5 121.5h.01M1252.5 126.5h.01M1253.5 98.5h.01M1253.5 127.5h.01M1253.5 117.5h.01M1254.5 130.5h.01M1254.5 118.5h.01M1255.5 132.5h.01M1255.5 131.5h.01M1256.5 132.5h.01M1256.5 130.5h.01M1256.5 128.5h.01M1257.5 131.5h.01M1257.5 133.5h.01M1258.5 121.5h.01M1258.5 123.5h.01M1259.5 131.5h.01M1259.5 121.5h.01M1260.5 134.5h.01M1260.5 131.5h.01M1260.5 126.5h.01M1261.5 124.5h.01M1261.5 134.5h.01M1261.5 130.5h.01M1262.5 118.5h.01M1262.5 131.5h.01M1262.5 119.5h.01M1263.5 118.5h.01M1263.5 114.5h.01M1263.5 136.5h.01M1263.5 122.5h.01M1264.5 103.5h.01M1264.5 111.5h.01M1264.5 120.5h.01M1264.5 169.5h.01M1264.5 168.5h.01M1265.5 164.5h.01M1265.5 151.5h.01M1266.5 155.5h.01M1266.5 169.5h.01M1267.5 155.5h.01M1267.5 154.5h.01M1267.5 158.5h.01M1268.5 156.5h.01M1268.5 170.5h.01M1268.5 151.5h.01M1268.5 167.5h.01M1269.5 160.5h.01M1269.5 166.5h.01M1269.5 169.5h.01M1270.5 167.5h.01M1270.5 168.5h.01M1270.5 155.5h.01M1271.5 165.5h.01M1271.5 155.5h.01M1271.5 160.5h.01M1272.5 167.5h.01M1272.5 169.5h.01M1273.5 158.5h.01M1273.5 168.5h.01M1274.5 157.5h.01M1274.5 155.5h.01M1274.5 166.5h.01M1275.5 165.5h.01M1275.5 160.5h.01M1276.5 167.5h.01M1276.5 162.5h.01M1277.5 159.5h.01M1277.5 164.5h.01M1277.5 154.5h.01M1278.5 145.5h.01M1278.5 160.5h.01M1278.5 154.5h.01M1279.5 154.5h.01M1279.5 166.5h.01M1280.5 155.5h.01M1280.5 163.5h.01M1281.5 166.5h.01M1281.5 165.5h.01M1282.5 165.5h.01M1282.5 153.5h.01M1283.5 168.5h.01M1283.5 157.5h.01M1283.5 166.5h.01M1283.5 160.5h.01M1284.5 158.5h.01M1285.5 165.5h.01M1285.5 150.5h.01M1285.5 158.5h.01M1286.5 155.5h.01M1286.5 158.5h.01M1287.5 151.5h.01M1287.5 161.5h.01M1288.5 158.5h.01M1288.5 146.5h.01M1288.5 164.5h.01M1289.5 153.5h.01M1289.5 158.5h.01M1289.5 163.5h.01M1290.5 162.5h.01M1290.5 152.5h.01M1291.5 143.5h.01M1291.5 151.5h.01M1291.5 156.5h.01M1292.5 161.5h.01M1292.5 160.5h.01M1292.5 163.5h.01M1293.5 162.5h.01M1293.5 146.5h.01M1293.5 161.5h.01M1294.5 154.5h.01M1294.5 163.5h.01M1295.5 153.5h.01M1295.5 149.5h.01M1295.5 161.5h.01M1296.5 159.5h.01M1296.5 158.5h.01M1297.5 154.5h.01M1297.5 146.5h.01M1297.5 162.5h.01M1297.5 161.5h.01M1298.5 160.5h.01M1298.5 153.5h.01M1299.5 156.5h.01M1299.5 155.5h.01M1300.5 155.5h.01M1300.5 154.5h.01M1301.5 162.5h.01M1301.5 151.5h.01M1301.5 160.5h.01M1302.5 158.5h.01M1302.5 154.5h.01M1303.5 156.5h.01M1303.5 164.5h.01" stroke="#000" stroke-width="3.8" stroke-linecap="round" fill="none" clip-path="url(#c1)"/>
<path d="M168.5 71.5h.01M169.5 77.5h.01M169.5 79.5h.01M169.5 82.5h.01M168.5 87.5h.01M166.5 91.5h.01M167.5 91.5h.01M273.5 60.5h.01M266.5 63.5h.01M268.5 64.5h.01M269.5 67.5h.01M259.5 69.5h.01M265.5 69.5h.01M267.5 69.5h.01M272.5 69.5h.01M270.5 70.5h.01M269.5 72.5h.01M273.5 72.5h.01M267.5 72.5h.01M270.5 72.5h.01M271.5 75.5h.01M267.5 76.5h.01M272.5 78.5h.01M269.5 79.5h.01M267.5 79.5h.01M265.5 80.5h.01M266.5 84.5h.01M273.5 87.5h.01M271.5 88.5h.01M375.5 61.5h.01M378.5 60.5h.01M381.5 60.5h.01M372.5 65.5h.01M380.5 65.5h.01M379.5 65.5h.01M373.5 67.5h.01M375.5 68.5h.01M372.5 66.5h.01M368.5 69.5h.01M369.5 71.5h.01M373.5 71.5h.01M381.5 72.5h.01M376.5 72.5h.01M378.5 73.5h.01M369.5 74.5h.01M381.5 75.5h.01M379.5 75.5h.01M381.5 76.5h.01M377.5 76.5h.01M375.5 77.5h.01M370.5 78.5h.01M375.5 78.5h.01M377.5 79.5h.01M371.5 79.5h.01M378.5 80.5h.01M368.5 81.5h.01M370.5 81.5h.01M374.5 82.5h.01M371.5 91.5h.01M617.5 59.5h.01M612.5 62.5h.01M617.5 65.5h.01M618.5 65.5h.01M608.5 69.5h.01M606.5 70.5h.01M610.5 69.5h.01M615.5 70.5h.01M618.5 71.5h.01M616.5 72.5h.01M609.5 72.5h.01M607.5 73.5h.01M613.5 73.5h.01M611.5 74.5h.01M606.5 75.5h.01M610.5 76.5h.01M613.5 77.5h.01M611.5 78.5h.01M614.5 78.5h.01M609.5 79.5h.01M616.5 79.5h.01M608.5 80.5h.01M611.5 81.5h.01M608.5 82.5h.01M614.5 83.5h.01M615.5 83.5h.01M606.5 86.5h.01M610.5 86.5h.01M613.5 86.5h.01M614.5 88.5h.01M865.5 74.5h.01M649.5 183.5h.01M1281.5 137.5h.01M368.5 60.5h.01M380.5 59.5h.01M755.5 297.5h.01M1225.5 222.5h.01M1232.5 234.5h.01" stroke="#ffa500" stroke-width="3.5" stroke-linecap="round" fill="none" clip-path="url(#c1)"/>
<line x1="105.5" y1="131" x2="1361" y2="131" stroke="#008000" stroke-width="2"/>
<line x1="162.25" y1="321.0" x2="162.25" y2="35.5" stroke="#800080" stroke-width="2.08" stroke-dasharray="2.0833 3.4375"/>
<line x1="1264.0" y1="321.0" x2="1264.0" y2="35.5" stroke="#800080" stroke-width="2.08" stroke-dasharray="2.0833 3.4375"/>
<line x1="1303.2" y1="321.0" x2="1303.2" y2="35.5" stroke="#800080" stroke-width="2.08" stroke-dasharray="2.0833 3.4375"/>
<text x="694.75" y="312.00" font-size="14.7" textLength="34.65" lengthAdjust="spacingAndGlyphs">7057</text>
<text x="1261.16" y="291.40" font-size="14.7" textLength="43.41" lengthAdjust="spacingAndGlyphs">54120</text>
<rect x="105.5" y="35.5" width="1380.0" height="286.0" fill="none" stroke="#000" stroke-width="1.1"/>
<line x1="162.5" y1="321.5" x2="162.5" y2="326.9" stroke="#000" stroke-width="1.1"/>
<text x="158.91" y="341.70" font-size="14.7" textLength="8.17" lengthAdjust="spacingAndGlyphs">0</text>
<line x1="334.5" y1="321.5" x2="334.5" y2="326.9" stroke="#000" stroke-width="1.1"/>
<text x="320.83" y="341.70" font-size="14.7" textLength="25.72" lengthAdjust="spacingAndGlyphs">500</text>
<line x1="506.5" y1="321.5" x2="506.5" y2="326.9" stroke="#000" stroke-width="1.1"/>
<text x="487.97" y="341.70" font-size="14.7" textLength="34.71" lengthAdjust="spacingAndGlyphs">1000</text>
<line x1="677.5" y1="321.5" x2="677.5" y2="326.9" stroke="#000" stroke-width="1.1"/>
<text x="659.67" y="341.70" font-size="14.7" textLength="34.71" lengthAdjust="spacingAndGlyphs">1500</text>
<line x1="849.5" y1="321.5" x2="849.5" y2="326.9" stroke="#000" stroke-width="1.1"/>
<text x="831.20" y="341.70" font-size="14.7" textLength="34.84" lengthAdjust="spacingAndGlyphs">2000</text>
<line x1="1021.5" y1="321.5" x2="1021.5" y2="326.9" stroke="#000" stroke-width="1.1"/>
<text x="1003.10" y="341.70" font-size="14.7" textLength="34.84" lengthAdjust="spacingAndGlyphs">2500</text>
<line x1="1192.5" y1="321.5" x2="1192.5" y2="326.9" stroke="#000" stroke-width="1.1"/>
<text x="1175.02" y="341.70" font-size="14.7" textLength="34.60" lengthAdjust="spacingAndGlyphs">3000</text>
<line x1="1364.5" y1="321.5" x2="1364.5" y2="326.9" stroke="#000" stroke-width="1.1"/>
<text x="1346.02" y="341.70" font-size="14.7" textLength="34.60" lengthAdjust="spacingAndGlyphs">3500</text>
<line x1="105.5" y1="294.5" x2="100.1" y2="294.5" stroke="#000" stroke-width="1.1"/>
<text x="73.25" y="299.50" font-size="14.7" textLength="21.38" lengthAdjust="spacingAndGlyphs">9.5</text>
<line x1="105.5" y1="241.5" x2="100.1" y2="241.5" stroke="#000" stroke-width="1.1"/>
<text x="73.24" y="246.50" font-size="14.7" textLength="21.76" lengthAdjust="spacingAndGlyphs">9.6</text>
<line x1="105.5" y1="188.5" x2="100.1" y2="188.5" stroke="#000" stroke-width="1.1"/>
<text x="73.24" y="193.50" font-size="14.7" textLength="21.55" lengthAdjust="spacingAndGlyphs">9.7</text>
<line x1="105.5" y1="134.5" x2="100.1" y2="134.5" stroke="#000" stroke-width="1.1"/>
<text x="73.24" y="139.50" font-size="14.7" textLength="21.68" lengthAdjust="spacingAndGlyphs">9.8</text>
<line x1="105.5" y1="81.5" x2="100.1" y2="81.5" stroke="#000" stroke-width="1.1"/>
<text x="73.24" y="86.50" font-size="14.7" textLength="21.69" lengthAdjust="spacingAndGlyphs">9.9</text>
<text x="704.35" y="27.00" font-size="17.6" textLength="180.83" lengthAdjust="spacingAndGlyphs">AGASC ID 118236216</text>
<rect x="1361.3" y="42.3" width="117.40" height="27.20" rx="2.8" ry="2.8" fill="#fff" fill-opacity="0.8" stroke="#ccc" stroke-opacity="0.8" stroke-width="1.1"/>
<line x1="1366.1" y1="53.9" x2="1396.0" y2="53.9" stroke="#008000" stroke-width="2.08"/>
<text x="1407.09" y="58.80" font-size="14.7" textLength="30.41" lengthAdjust="spacingAndGlyphs">mag</text>
<text x="1436.15" y="60.90" font-size="10.3" textLength="33.75" lengthAdjust="spacingAndGlyphs" font-style="italic">AGASC</text>
<rect x="1348.3" y="247.3" width="130.40" height="67.10" rx="2.8" ry="2.8" fill="#fff" fill-opacity="0.8" stroke="#ccc" stroke-opacity="0.8" stroke-width="1.1"/>
<circle cx="1367.6" cy="260.4" r="1.9" fill="#ff0000"/>
<circle cx="1367.6" cy="281.4" r="1.9" fill="#ffa500"/>
<circle cx="1367.6" cy="302.4" r="1.9" fill="#000"/>
<text x="1391.87" y="263.90" font-size="14.7" textLength="47.53" lengthAdjust="spacingAndGlyphs">not OK</text>
<text x="1391.94" y="284.80" font-size="14.7" textLength="79.80" lengthAdjust="spacingAndGlyphs">Highlighted</text>
<text x="1392.59" y="305.80" font-size="14.7" textLength="20.39" lengthAdjust="spacingAndGlyphs">OK</text>
</g>
<g id="ax2">
<path d="M162.5 496.5h.01M162.5 509.5h.01M163.5 496.5h.01M163.5 508.5h.01M164.5 504.5h.01M164.5 498.5h.01M165.5 479.5h.01M165.5 468.5h.01M165.5 481.5h.01M166.5 505.5h.01M166.5 486.5h.01M166.5 499.5h.01M167.5 491.5h.01M167.5 492.5h.01M168.5 491.5h.01M168.5 504.5h.01M169.5 488.5h.01M169.5 489.5h.01M169.5 498.5h.01M170.5 465.5h.01M170.5 498.5h.01M170.5 506.5h.01M171.5 496.5h.01M171.5 502.5h.01M172.5 507.5h.01M172.5 485.5h.01M172.5 499.5h.01M173.5 492.5h.01M173.5 495.5h.01M174.5 510.5h.01M174.5 502.5h.01M175.5 489.5h.01M175.5 515.5h.01M176.5 500.5h.01M176.5 510.5h.01M177.5 491.5h.01M177.5 512.5h.01M177.5 494.5h.01M178.5 494.5h.01M178.5 464.5h.01M178.5 499.5h.01M179.5 504.5h.01M179.5 506.5h.01M179.5 515.5h.01M180.5 494.5h.01M180.5 510.5h.01M181.5 514.5h.01M181.5 505.5h.01M182.5 509.5h.01M182.5 520.5h.01M183.5 477.5h.01M183.5 512.5h.01M183.5 499.5h.01M183.5 494.5h.01M184.5 497.5h.01M184.5 515.5h.01M184.5 475.5h.01M185.5 506.5h.01M185.5 495.5h.01M186.5 502.5h.01M186.5 505.5h.01M187.5 502.5h.01M187.5 485.5h.01M187.5 463.5h.01M187.5 498.5h.01M188.5 496.5h.01M188.5 522.5h.01M189.5 496.5h.01M189.5 518.5h.01M189.5 498.5h.01M190.5 520.5h.01M190.5 493.5h.01M191.5 492.5h.01M191.5 505.5h.01M192.5 476.5h.01M192.5 525.5h.01M192.5 474.5h.01M192.5 502.5h.01M193.5 505.5h.01M193.5 506.5h.01M194.5 514.5h.01M194.5 498.5h.01M195.5 516.5h.01M195.5 510.5h.01M195.5 524.5h.01M196.5 504.5h.01M196.5 497.5h.01M197.5 497.5h.01M197.5 510.5h.01M198.5 494.5h.01M198.5 509.5h.01M199.5 504.5h.01M199.5 502.5h.01M200.5 522.5h.01M200.5 508.5h.01M201.5 530.5h.01M201.5 524.5h.01M202.5 533.5h.01M202.5 501.5h.01M203.5 526.5h.01M203.5 504.5h.01M203.5 506.5h.01M204.5 507.5h.01M204.5 502.5h.01M205.5 525.5h.01M205.5 487.5h.01M205.5 512.5h.01M205.5 502.5h.01M206.5 519.5h.01M207.5 518.5h.01M207.5 519.5h.01M207.5 529.5h.01M208.5 503.5h.01M208.5 517.5h.01M209.5 504.5h.01M209.5 544.5h.01M209.5 532.5h.01M210.5 512.5h.01M210.5 546.5h.01M211.5 550.5h.01M211.5 555.5h.01M211.5 525.5h.01M212.5 513.5h.01M212.5 529.5h.01M212.5 544.5h.01M213.5 557.5h.01M213.5 520.5h.01M213.5 547.5h.01M214.5 533.5h.01M214.5 548.5h.01M215.5 525.5h.01M215.5 540.5h.01M216.5 546.5h.01M216.5 562.5h.01M216.5 522.5h.01M216.5 538.5h.01M217.5 525.5h.01M217.5 547.5h.01M218.5 540.5h.01M218.5 552.5h.01M218.5 530.5h.01M219.5 552.5h.01M219.5 526.5h.01M220.5 549.5h.01M220.5 532.5h.01M221.5 553.5h.01M221.5 554.5h.01M222.5 542.5h.01M222.5 523.5h.01M223.5 530.5h.01M223.5 554.5h.01M223.5 524.5h.01M224.5 514.5h.01M224.5 554.5h.01M224.5 513.5h.01M225.5 551.5h.01M225.5 516.5h.01M226.5 523.5h.01M226.5 540.5h.01M226.5 530.5h.01M227.5 535.5h.01M227.5 518.5h.01M228.5 532.5h.01M228.5 512.5h.01M229.5 518.5h.01M229.5 540.5h.01M229.5 532.5h.01M230.5 521.5h.01M231.5 530.5h.01M231.5 516.5h.01M232.5 526.5h.01M232.5 521.5h.01M233.5 520.5h.01M233.5 516.5h.01M233.5 531.5h.01M234.5 502.5h.01M234.5 528.5h.01M235.5 501.5h.01M235.5 526.5h.01M236.5 516.5h.01M236.5 531.5h.01M236.5 509.5h.01M237.5 518.5h.01M237.5 483.5h.01M237.5 512.5h.01M238.5 502.5h.01M238.5 488.5h.01M238.5 495.5h.01M239.5 516.5h.01M239.5 491.5h.01M239.5 508.5h.01M240.5 496.5h.01M240.5 502.5h.01M241.5 523.5h.01M241.5 498.5h.01M242.5 521.5h.01M242.5 507.5h.01M242.5 499.5h.01M243.5 488.5h.01M243.5 523.5h.01M243.5 520.5h.01M244.5 535.5h.01M244.5 491.5h.01M245.5 508.5h.01M245.5 534.5h.01M246.5 507.5h.01M246.5 535.5h.01M246.5 530.5h.01M247.5 540.5h.01M247.5 525.5h.01M248.5 521.5h.01M248.5 519.5h.01M249.5 518.5h.01M249.5 534.5h.01M249.5 529.5h.01M250.5 517.5h.01M250.5 539.5h.01M251.5 523.5h.01M251.5 522.5h.01M252.5 527.5h.01M252.5 539.5h.01M253.5 530.5h.01M253.5 485.5h.01M253.5 521.5h.01M253.5 532.5h.01M254.5 532.5h.01M254.5 520.5h.01M255.5 522.5h.01M255.5 519.5h.01M256.5 534.5h.01M256.5 511.5h.01M257.5 535.5h.01M257.5 527.5h.01M257.5 519.5h.01M258.5 540.5h.01M258.5 549.5h.01M259.5 541.5h.01M259.5 509.5h.01M260.5 523.5h.01M260.5 539.5h.01M260.5 505.5h.01M261.5 561.5h.01M261.5 516.5h.01M261.5 504.5h.01M262.5 515.5h.01M262.5 520.5h.01M263.5 525.5h.01M263.5 537.5h.01M263.5 514.5h.01M264.5 534.5h.01M264.5 524.5h.01M265.5 542.5h.01M265.5 520.5h.01M266.5 506.5h.01M274.5 516.5h.01M274.5 527.5h.01M274.5 518.5h.01M275.5 531.5h.01M275.5 534.5h.01M276.5 520.5h.01M276.5 522.5h.01M277.5 541.5h.01M277.5 538.5h.01M278.5 532.5h.01M278.5 518.5h.01M279.5 529.5h.01M279.5 525.5h.01M280.5 525.5h.01M280.5 510.5h.01M281.5 545.5h.01M281.5 538.5h.01M281.5 539.5h.01M282.5 522.5h.01M282.5 521.5h.01M283.5 543.5h.01M283.5 557.5h.01M283.5 534.5h.01M283.5 539.5h.01M284.5 527.5h.01M284.5 554.5h.01M284.5 547.5h.01M285.5 502.5h.01M285.5 510.5h.01M286.5 537.5h.01M286.5 517.5h.01M287.5 542.5h.01M287.5 515.5h.01M287.5 495.5h.01M288.5 518.5h.01M288.5 501.5h.01M289.5 502.5h.01M289.5 504.5h.01M290.5 503.5h.01M290.5 513.5h.01M290.5 520.5h.01M291.5 533.5h.01M291.5 491.5h.01M292.5 493.5h.01M292.5 507.5h.01M293.5 510.5h.01M293.5 493.5h.01M293.5 525.5h.01M294.5 499.5h.01M294.5 533.5h.01M295.5 516.5h.01M295.5 489.5h.01M296.5 525.5h.01M296.5 504.5h.01M296.5 519.5h.01M297.5 514.5h.01M297.5 495.5h.01M298.5 505.5h.01M298.5 514.5h.01M299.5 484.5h.01M299.5 494.5h.01M299.5 514.5h.01M300.5 512.5h.01M301.5 510.5h.01M301.5 512.5h.01M301.5 519.5h.01M302.5 505.5h.01M302.5 507.5h.01M303.5 519.5h.01M303.5 492.5h.01M303.5 491.5h.01M304.5 505.5h.01M304.5 518.5h.01M305.5 508.5h.01M305.5 471.5h.01M305.5 488.5h.01M306.5 495.5h.01M306.5 497.5h.01M306.5 499.5h.01M307.5 506.5h.01M307.5 500.5h.01M308.5 516.5h.01M308.5 500.5h.01M309.5 490.5h.01M309.5 491.5h.01M310.5 503.5h.01M311.5 515.5h.01M311.5 488.5h.01M311.5 517.5h.01M312.5 504.5h.01M312.5 512.5h.01M313.5 496.5h.01M313.5 476.5h.01M313.5 491.5h.01M314.5 514.5h.01M314.5 497.5h.01M314.5 499.5h.01M315.5 498.5h.01M315.5 501.5h.01M316.5 502.5h.01M316.5 498.5h.01M316.5 503.5h.01M317.5 529.5h.01M317.5 517.5h.01M317.5 483.5h.01M317.5 510.5h.01M318.5 507.5h.01M318.5 497.5h.01M319.5 493.5h.01M319.5 517.5h.01M319.5 503.5h.01M320.5 518.5h.01M320.5 507.5h.01M321.5 495.5h.01M321.5 508.5h.01M322.5 519.5h.01M322.5 515.5h.01M323.5 516.5h.01M323.5 520.5h.01M323.5 513.5h.01M324.5 486.5h.01M324.5 518.5h.01M324.5 495.5h.01M325.5 501.5h.01M326.5 505.5h.01M326.5 519.5h.01M327.5 517.5h.01M327.5 509.5h.01M327.5 511.5h.01M328.5 496.5h.01M328.5 502.5h.01M329.5 505.5h.01M329.5 538.5h.01M329.5 494.5h.01M330.5 508.5h.01M330.5 498.5h.01M330.5 493.5h.01M331.5 507.5h.01M331.5 528.5h.01M331.5 513.5h.01M332.5 502.5h.01M332.5 485.5h.01M332.5 494.5h.01M333.5 496.5h.01M333.5 501.5h.01M333.5 500.5h.01M334.5 494.5h.01M334.5 491.5h.01M335.5 491.5h.01M335.5 498.5h.01M336.5 490.5h.01M336.5 485.5h.01M336.5 506.5h.01M336.5 519.5h.01M337.5 514.5h.01M337.5 501.5h.01M338.5 516.5h.01M338.5 511.5h.01M339.5 514.5h.01M339.5 518.5h.01M340.5 518.5h.01M340.5 509.5h.01M341.5 511.5h.01M341.5 507.5h.01M341.5 506.5h.01M342.5 517.5h.01M342.5 513.5h.01M343.5 521.5h.01M343.5 518.5h.01M343.5 506.5h.01M344.5 498.5h.01M344.5 521.5h.01M345.5 517.5h.01M345.5 510.5h.01M346.5 515.5h.01M346.5 510.5h.01M347.5 499.5h.01M347.5 515.5h.01M347.5 516.5h.01M348.5 519.5h.01M348.5 524.5h.01M349.5 539.5h.01M349.5 521.5h.01M350.5 510.5h.01M350.5 508.5h.01M351.5 528.5h.01M351.5 520.5h.01M351.5 499.5h.01M352.5 501.5h.01M352.5 526.5h.01M353.5 528.5h.01M353.5 540.5h.01M353.5 543.5h.01M354.5 523.5h.01M354.5 539.5h.01M355.5 506.5h.01M355.5 525.5h.01M356.5 544.5h.01M356.5 500.5h.01M357.5 538.5h.01M357.5 506.5h.01M357.5 541.5h.01M358.5 549.5h.01M358.5 525.5h.01M358.5 543.5h.01M359.5 515.5h.01M359.5 558.5h.01M359.5 531.5h.01M360.5 514.5h.01M360.5 528.5h.01M360.5 529.5h.01M361.5 492.5h.01M361.5 505.5h.01M361.5 509.5h.01M362.5 537.5h.01M362.5 511.5h.01M363.5 532.5h.01M363.5 522.5h.01M364.5 507.5h.01M364.5 509.5h.01M364.5 528.5h.01M365.5 534.5h.01M365.5 541.5h.01M366.5 532.5h.01M366.5 557.5h.01M366.5 536.5h.01M367.5 546.5h.01M367.5 544.5h.01M367.5 511.5h.01M367.5 507.5h.01M368.5 516.5h.01M380.5 535.5h.01M381.5 520.5h.01M381.5 540.5h.01M381.5 541.5h.01M382.5 511.5h.01M382.5 533.5h.01M383.5 515.5h.01M383.5 511.5h.01M384.5 524.5h.01M384.5 529.5h.01M384.5 505.5h.01M385.5 548.5h.01M385.5 511.5h.01M386.5 520.5h.01M386.5 515.5h.01M386.5 538.5h.01M387.5 543.5h.01M387.5 534.5h.01M388.5 518.5h.01M388.5 529.5h.01M389.5 547.5h.01M389.5 541.5h.01M390.5 536.5h.01M390.5 502.5h.01M390.5 549.5h.01M391.5 530.5h.01M391.5 531.5h.01M392.5 517.5h.01M392.5 516.5h.01M393.5 494.5h.01M393.5 517.5h.01M394.5 527.5h.01M394.5 534.5h.01M394.5 515.5h.01M395.5 536.5h.01M395.5 548.5h.01M396.5 548.5h.01M396.5 536.5h.01M396.5 513.5h.01M397.5 528.5h.01M397.5 522.5h.01M398.5 530.5h.01M398.5 543.5h.01M399.5 534.5h.01M400.5 534.5h.01M400.5 500.5h.01M400.5 507.5h.01M401.5 531.5h.01M401.5 498.5h.01M402.5 508.5h.01M402.5 493.5h.01M403.5 502.5h.01M403.5 528.5h.01M403.5 509.5h.01M404.5 545.5h.01M404.5 540.5h.01M405.5 534.5h.01M405.5 539.5h.01M406.5 541.5h.01M406.5 491.5h.01M406.5 530.5h.01M407.5 524.5h.01M407.5 533.5h.01M407.5 520.5h.01M408.5 506.5h.01M408.5 558.5h.01M408.5 533.5h.01M409.5 517.5h.01M409.5 530.5h.01M409.5 526.5h.01M410.5 515.5h.01M411.5 542.5h.01M411.5 538.5h.01M411.5 544.5h.01M412.5 529.5h.01M412.5 534.5h.01M413.5 525.5h.01M413.5 540.5h.01M414.5 536.5h.01M414.5 550.5h.01M414.5 548.5h.01M415.5 547.5h.01M415.5 538.5h.01M416.5 541.5h.01M416.5 532.5h.01M417.5 534.5h.01M417.5 526.5h.01M417.5 556.5h.01M418.5 536.5h.01M418.5 561.5h.01M418.5 539.5h.01M419.5 541.5h.01M419.5 561.5h.01M420.5 551.5h.01M420.5 552.5h.01M420.5 532.5h.01M421.5 533.5h.01M421.5 557.5h.01M421.5 531.5h.01M422.5 567.5h.01M422.5 554.5h.01M423.5 539.5h.01M423.5 550.5h.01M423.5 548.5h.01M424.5 564.5h.01M424.5 557.5h.01M425.5 561.5h.01M425.5 563.5h.01M425.5 530.5h.01M426.5 536.5h.01M426.5 555.5h.01M427.5 562.5h.01M427.5 568.5h.01M427.5 544.5h.01M427.5 542.5h.01M428.5 533.5h.01M428.5 573.5h.01M428.5 531.5h.01M429.5 534.5h.01M429.5 530.5h.01M430.5 551.5h.01M430.5 543.5h.01M430.5 536.5h.01M431.5 550.5h.01M431.5 530.5h.01M432.5 527.5h.01M432.5 526.5h.01M432.5 545.5h.01M433.5 520.5h.01M434.5 514.5h.01M434.5 507.5h.01M434.5 537.5h.01M435.5 514.5h.01M435.5 519.5h.01M436.5 516.5h.01M436.5 533.5h.01M437.5 524.5h.01M437.5 491.5h.01M437.5 535.5h.01M437.5 537.5h.01M438.5 495.5h.01M438.5 504.5h.01M439.5 517.5h.01M439.5 486.5h.01M439.5 533.5h.01M440.5 498.5h.01M440.5 512.5h.01M440.5 491.5h.01M441.5 523.5h.01M441.5 527.5h.01M442.5 496.5h.01M442.5 494.5h.01M443.5 526.5h.01M443.5 510.5h.01M443.5 509.5h.01M444.5 521.5h.01M444.5 515.5h.01M445.5 528.5h.01M445.5 532.5h.01M446.5 502.5h.01M446.5 547.5h.01M446.5 499.5h.01M446.5 526.5h.01M447.5 509.5h.01M447.5 522.5h.01M448.5 532.5h.01M448.5 523.5h.01M449.5 488.5h.01M449.5 513.5h.01M449.5 522.5h.01M450.5 525.5h.01M450.5 521.5h.01M450.5 499.5h.01M451.5 512.5h.01M452.5 517.5h.01M452.5 540.5h.01M452.5 519.5h.01M453.5 510.5h.01M453.5 517.5h.01M454.5 502.5h.01M454.5 509.5h.01M454.5 499.5h.01M455.5 530.5h.01M455.5 533.5h.01M456.5 523.5h.01M456.5 508.5h.01M456.5 513.5h.01M457.5 510.5h.01M457.5 511.5h.01M458.5 517.5h.01M458.5 533.5h.01M459.5 509.5h.01M459.5 538.5h.01M460.5 547.5h.01M460.5 506.5h.01M460.5 542.5h.01M460.5 544.5h.01M461.5 536.5h.01M461.5 535.5h.01M462.5 531.5h.01M462.5 540.5h.01M463.5 511.5h.01M463.5 533.5h.01M464.5 508.5h.01M464.5 519.5h.01M464.5 533.5h.01M465.5 527.5h.01M465.5 525.5h.01M466.5 508.5h.01M466.5 530.5h.01M467.5 511.5h.01M467.5 519.5h.01M467.5 532.5h.01M468.5 514.5h.01M468.5 518.5h.01M469.5 527.5h.01M469.5 503.5h.01M470.5 505.5h.01M470.5 474.5h.01M470.5 478.5h.01M470.5 481.5h.01M470.5 494.5h.01M471.5 506.5h.01M471.5 463.5h.01M471.5 496.5h.01M472.5 488.5h.01M472.5 493.5h.01M472.5 505.5h.01M473.5 497.5h.01M473.5 504.5h.01M473.5 493.5h.01M474.5 492.5h.01M474.5 502.5h.01M475.5 495.5h.01M475.5 493.5h.01M476.5 491.5h.01M476.5 514.5h.01M476.5 515.5h.01M477.5 510.5h.01M477.5 513.5h.01M478.5 515.5h.01M478.5 503.5h.01M479.5 500.5h.01M479.5 504.5h.01M480.5 502.5h.01M480.5 497.5h.01M481.5 503.5h.01M481.5 508.5h.01M482.5 504.5h.01M482.5 500.5h.01M483.5 515.5h.01M483.5 485.5h.01M483.5 510.5h.01M483.5 506.5h.01M484.5 505.5h.01M484.5 504.5h.01M485.5 504.5h.01M486.5 528.5h.01M487.5 540.5h.01M487.5 541.5h.01M487.5 555.5h.01M488.5 528.5h.01M488.5 539.5h.01M489.5 554.5h.01M489.5 562.5h.01M489.5 536.5h.01M489.5 548.5h.01M490.5 556.5h.01M490.5 549.5h.01M491.5 532.5h.01M491.5 534.5h.01M492.5 532.5h.01M492.5 527.5h.01M492.5 531.5h.01M493.5 540.5h.01M493.5 553.5h.01M494.5 529.5h.01M494.5 552.5h.01M495.5 542.5h.01M495.5 533.5h.01M496.5 549.5h.01M496.5 543.5h.01M496.5 548.5h.01M497.5 538.5h.01M497.5 539.5h.01M498.5 549.5h.01M498.5 544.5h.01M499.5 534.5h.01M499.5 546.5h.01M499.5 533.5h.01M500.5 526.5h.01M500.5 542.5h.01M501.5 528.5h.01M501.5 555.5h.01M502.5 549.5h.01M502.5 541.5h.01M503.5 554.5h.01M503.5 551.5h.01M503.5 526.5h.01M504.5 528.5h.01M504.5 535.5h.01M505.5 552.5h.01M505.5 521.5h.01M505.5 524.5h.01M506.5 527.5h.01M507.5 540.5h.01M507.5 532.5h.01M508.5 562.5h.01M508.5 526.5h.01M508.5 554.5h.01M509.5 513.5h.01M509.5 541.5h.01M509.5 510.5h.01M510.5 529.5h.01M510.5 535.5h.01M511.5 541.5h.01M511.5 518.5h.01M512.5 509.5h.01M512.5 539.5h.01M513.5 533.5h.01M513.5 520.5h.01M513.5 508.5h.01M514.5 545.5h.01M514.5 525.5h.01M515.5 541.5h.01M515.5 538.5h.01M516.5 521.5h.01M516.5 517.5h.01M516.5 536.5h.01M517.5 541.5h.01M517.5 495.5h.01M517.5 528.5h.01M518.5 535.5h.01M518.5 533.5h.01M519.5 524.5h.01M519.5 555.5h.01M519.5 515.5h.01M520.5 539.5h.01M520.5 528.5h.01M521.5 530.5h.01M521.5 536.5h.01M522.5 521.5h.01M522.5 516.5h.01M523.5 523.5h.01M523.5 535.5h.01M523.5 537.5h.01M524.5 547.5h.01M524.5 511.5h.01M525.5 516.5h.01M525.5 517.5h.01M526.5 549.5h.01M526.5 516.5h.01M526.5 529.5h.01M527.5 526.5h.01M527.5 501.5h.01M527.5 519.5h.01M528.5 529.5h.01M528.5 505.5h.01M529.5 513.5h.01M529.5 514.5h.01M529.5 542.5h.01M530.5 518.5h.01M530.5 497.5h.01M530.5 528.5h.01M531.5 544.5h.01M531.5 527.5h.01M532.5 522.5h.01M532.5 518.5h.01M532.5 547.5h.01M533.5 523.5h.01M533.5 553.5h.01M534.5 567.5h.01M534.5 551.5h.01M534.5 536.5h.01M535.5 551.5h.01M535.5 536.5h.01M536.5 543.5h.01M536.5 554.5h.01M536.5 548.5h.01M537.5 535.5h.01M537.5 553.5h.01M538.5 534.5h.01M538.5 537.5h.01M539.5 539.5h.01M539.5 545.5h.01M539.5 529.5h.01M540.5 523.5h.01M540.5 524.5h.01M541.5 538.5h.01M541.5 544.5h.01M542.5 535.5h.01M542.5 527.5h.01M543.5 543.5h.01M543.5 477.5h.01M543.5 506.5h.01M543.5 527.5h.01M544.5 525.5h.01M544.5 535.5h.01M544.5 563.5h.01M544.5 542.5h.01M545.5 551.5h.01M545.5 552.5h.01M546.5 538.5h.01M546.5 516.5h.01M546.5 528.5h.01M546.5 540.5h.01M547.5 537.5h.01M547.5 531.5h.01M548.5 557.5h.01M548.5 561.5h.01M548.5 529.5h.01M549.5 537.5h.01M549.5 530.5h.01M549.5 528.5h.01M550.5 553.5h.01M550.5 566.5h.01M551.5 547.5h.01M551.5 569.5h.01M551.5 540.5h.01M552.5 562.5h.01M552.5 563.5h.01M553.5 566.5h.01M553.5 533.5h.01M553.5 535.5h.01M553.5 561.5h.01M554.5 558.5h.01M554.5 565.5h.01M555.5 561.5h.01M555.5 557.5h.01M555.5 540.5h.01M556.5 549.5h.01M556.5 543.5h.01M557.5 548.5h.01M557.5 545.5h.01M558.5 548.5h.01M558.5 565.5h.01M559.5 580.5h.01M559.5 538.5h.01M559.5 563.5h.01M560.5 579.5h.01M560.5 560.5h.01M560.5 538.5h.01M561.5 552.5h.01M561.5 556.5h.01M562.5 539.5h.01M562.5 536.5h.01M562.5 547.5h.01M563.5 567.5h.01M563.5 564.5h.01M563.5 549.5h.01M564.5 547.5h.01M564.5 555.5h.01M565.5 557.5h.01M565.5 541.5h.01M566.5 569.5h.01M566.5 540.5h.01M567.5 561.5h.01M567.5 548.5h.01M567.5 530.5h.01M568.5 560.5h.01M568.5 543.5h.01M569.5 537.5h.01M569.5 562.5h.01M569.5 538.5h.01M570.5 566.5h.01M570.5 554.5h.01M571.5 562.5h.01M571.5 558.5h.01M572.5 554.5h.01M572.5 537.5h.01M572.5 553.5h.01M573.5 530.5h.01M573.5 536.5h.01M574.5 536.5h.01M574.5 567.5h.01M574.5 541.5h.01M575.5 558.5h.01M575.5 563.5h.01M576.5 544.5h.01M576.5 539.5h.01M576.5 535.5h.01M577.5 554.5h.01M577.5 536.5h.01M578.5 554.5h.01M578.5 537.5h.01M579.5 547.5h.01M579.5 539.5h.01M579.5 552.5h.01M580.5 567.5h.01M580.5 543.5h.01M580.5 540.5h.01M581.5 545.5h.01M581.5 558.5h.01M582.5 543.5h.01M582.5 556.5h.01M583.5 540.5h.01M583.5 527.5h.01M583.5 559.5h.01M584.5 547.5h.01M584.5 540.5h.01M585.5 539.5h.01M585.5 521.5h.01M586.5 520.5h.01M586.5 553.5h.01M587.5 559.5h.01M587.5 555.5h.01M587.5 522.5h.01M588.5 530.5h.01M588.5 522.5h.01M589.5 540.5h.01M589.5 518.5h.01M590.5 524.5h.01M590.5 534.5h.01M591.5 539.5h.01M591.5 524.5h.01M592.5 526.5h.01M592.5 550.5h.01M593.5 510.5h.01M593.5 540.5h.01M593.5 548.5h.01M594.5 521.5h.01M594.5 517.5h.01M595.5 508.5h.01M595.5 534.5h.01M596.5 510.5h.01M596.5 552.5h.01M596.5 535.5h.01M597.5 541.5h.01M597.5 527.5h.01M598.5 526.5h.01M598.5 512.5h.01M599.5 516.5h.01M599.5 511.5h.01M600.5 519.5h.01M600.5 523.5h.01M600.5 514.5h.01M601.5 521.5h.01M601.5 533.5h.01M602.5 506.5h.01M602.5 564.5h.01M602.5 526.5h.01M603.5 518.5h.01M603.5 523.5h.01M603.5 551.5h.01M603.5 530.5h.01M604.5 525.5h.01M604.5 521.5h.01M605.5 502.5h.01M605.5 539.5h.01M617.5 517.5h.01M617.5 521.5h.01M618.5 501.5h.01M618.5 528.5h.01M619.5 525.5h.01M619.5 541.5h.01M619.5 508.5h.01M620.5 500.5h.01M620.5 493.5h.01M620.5 492.5h.01M621.5 525.5h.01M621.5 496.5h.01M621.5 506.5h.01M622.5 517.5h.01M622.5 501.5h.01M623.5 488.5h.01M623.5 512.5h.01M623.5 511.5h.01M624.5 515.5h.01M624.5 487.5h.01M624.5 504.5h.01M625.5 510.5h.01M625.5 489.5h.01M626.5 518.5h.01M626.5 515.5h.01M626.5 488.5h.01M627.5 500.5h.01M627.5 493.5h.01M628.5 496.5h.01M628.5 524.5h.01M629.5 516.5h.01M629.5 505.5h.01M630.5 514.5h.01M630.5 513.5h.01M630.5 477.5h.01M631.5 500.5h.01M631.5 510.5h.01M631.5 488.5h.01M631.5 509.5h.01M632.5 489.5h.01M632.5 542.5h.01M632.5 532.5h.01M633.5 513.5h.01M633.5 498.5h.01M634.5 513.5h.01M634.5 518.5h.01M634.5 499.5h.01M635.5 507.5h.01M635.5 513.5h.01M636.5 501.5h.01M636.5 509.5h.01M636.5 527.5h.01M637.5 490.5h.01M637.5 529.5h.01M637.5 503.5h.01M638.5 502.5h.01M638.5 491.5h.01M639.5 490.5h.01M639.5 513.5h.01M640.5 523.5h.01M640.5 508.5h.01M640.5 513.5h.01M641.5 506.5h.01M641.5 496.5h.01M642.5 471.5h.01M642.5 524.5h.01M642.5 523.5h.01M643.5 485.5h.01M643.5 522.5h.01M643.5 501.5h.01M644.5 514.5h.01M644.5 482.5h.01M644.5 503.5h.01M644.5 476.5h.01M644.5 521.5h.01M645.5 503.5h.01M646.5 503.5h.01M646.5 499.5h.01M647.5 514.5h.01M647.5 510.5h.01M647.5 509.5h.01M648.5 499.5h.01M648.5 501.5h.01M649.5 517.5h.01M649.5 507.5h.01M650.5 504.5h.01M650.5 505.5h.01M651.5 508.5h.01M651.5 525.5h.01M651.5 534.5h.01M652.5 506.5h.01M652.5 533.5h.01M653.5 527.5h.01M653.5 515.5h.01M654.5 522.5h.01M654.5 513.5h.01M654.5 515.5h.01M655.5 514.5h.01M655.5 529.5h.01M656.5 507.5h.01M656.5 540.5h.01M657.5 508.5h.01M657.5 519.5h.01M658.5 536.5h.01M658.5 517.5h.01M659.5 508.5h.01M659.5 517.5h.01M660.5 500.5h.01M660.5 493.5h.01M660.5 497.5h.01M660.5 521.5h.01M661.5 522.5h.01M661.5 519.5h.01M662.5 490.5h.01M662.5 484.5h.01M662.5 502.5h.01M663.5 512.5h.01M663.5 518.5h.01M664.5 493.5h.01M664.5 524.5h.01M664.5 511.5h.01M665.5 493.5h.01M665.5 485.5h.01M666.5 516.5h.01M666.5 511.5h.01M666.5 504.5h.01M667.5 492.5h.01M667.5 511.5h.01M668.5 493.5h.01M668.5 502.5h.01M668.5 522.5h.01M669.5 489.5h.01M669.5 507.5h.01M670.5 485.5h.01M670.5 497.5h.01M671.5 515.5h.01M671.5 527.5h.01M671.5 512.5h.01M672.5 531.5h.01M672.5 479.5h.01M672.5 505.5h.01M673.5 483.5h.01M673.5 522.5h.01M674.5 509.5h.01M674.5 520.5h.01M674.5 498.5h.01M675.5 518.5h.01M675.5 486.5h.01M676.5 499.5h.01M676.5 513.5h.01M677.5 517.5h.01M677.5 521.5h.01M677.5 513.5h.01M678.5 497.5h.01M678.5 486.5h.01M678.5 524.5h.01M679.5 520.5h.01M679.5 492.5h.01M679.5 515.5h.01M680.5 520.5h.01M680.5 521.5h.01M681.5 531.5h.01M681.5 499.5h.01M681.5 515.5h.01M682.5 516.5h.01M682.5 512.5h.01M683.5 507.5h.01M683.5 521.5h.01M683.5 524.5h.01M684.5 503.5h.01M684.5 511.5h.01M685.5 516.5h.01M685.5 526.5h.01M686.5 503.5h.01M686.5 501.5h.01M687.5 511.5h.01M687.5 504.5h.01M687.5 523.5h.01M688.5 523.5h.01M688.5 522.5h.01M689.5 525.5h.01M689.5 511.5h.01M690.5 525.5h.01M690.5 509.5h.01M691.5 515.5h.01M691.5 511.5h.01M691.5 513.5h.01M692.5 535.5h.01M692.5 518.5h.01M693.5 519.5h.01M693.5 536.5h.01M695.5 562.5h.01M695.5 540.5h.01M695.5 544.5h.01M696.5 554.5h.01M696.5 545.5h.01M697.5 533.5h.01M697.5 558.5h.01M697.5 561.5h.01M697.5 545.5h.01M698.5 540.5h.01M699.5 546.5h.01M699.5 563.5h.01M699.5 559.5h.01M699.5 545.5h.01M700.5 560.5h.01M700.5 558.5h.01M701.5 562.5h.01M701.5 540.5h.01M702.5 540.5h.01M702.5 534.5h.01M702.5 562.5h.01M702.5 545.5h.01M703.5 541.5h.01M703.5 553.5h.01M704.5 541.5h.01M704.5 552.5h.01M705.5 549.5h.01M705.5 566.5h.01M705.5 546.5h.01M705.5 544.5h.01M706.5 541.5h.01M706.5 559.5h.01M707.5 547.5h.01M707.5 537.5h.01M708.5 558.5h.01M710.5 504.5h.01M710.5 518.5h.01M711.5 505.5h.01M711.5 508.5h.01M712.5 526.5h.01M712.5 505.5h.01M713.5 514.5h.01M713.5 513.5h.01M714.5 514.5h.01M714.5 502.5h.01M715.5 509.5h.01M715.5 519.5h.01M716.5 515.5h.01M716.5 495.5h.01M717.5 509.5h.01M717.5 497.5h.01M717.5 508.5h.01M718.5 515.5h.01M718.5 494.5h.01M718.5 500.5h.01M719.5 521.5h.01M719.5 525.5h.01M720.5 514.5h.01M720.5 509.5h.01M720.5 519.5h.01M721.5 519.5h.01M721.5 512.5h.01M722.5 514.5h.01M722.5 518.5h.01M723.5 531.5h.01M723.5 520.5h.01M723.5 515.5h.01M724.5 537.5h.01M724.5 532.5h.01M725.5 538.5h.01M725.5 528.5h.01M726.5 515.5h.01M726.5 514.5h.01M727.5 530.5h.01M727.5 517.5h.01M727.5 528.5h.01M728.5 514.5h.01M728.5 525.5h.01M729.5 525.5h.01M729.5 504.5h.01M730.5 510.5h.01M730.5 557.5h.01M730.5 535.5h.01M730.5 520.5h.01M731.5 518.5h.01M731.5 532.5h.01M732.5 513.5h.01M732.5 527.5h.01M733.5 500.5h.01M733.5 539.5h.01M733.5 541.5h.01M734.5 531.5h.01M734.5 526.5h.01M735.5 499.5h.01M735.5 521.5h.01M736.5 517.5h.01M736.5 499.5h.01M737.5 500.5h.01M737.5 529.5h.01M737.5 496.5h.01M737.5 515.5h.01M738.5 526.5h.01M738.5 521.5h.01M739.5 523.5h.01M739.5 529.5h.01M740.5 512.5h.01M740.5 527.5h.01M741.5 513.5h.01M741.5 510.5h.01M741.5 520.5h.01M742.5 503.5h.01M742.5 541.5h.01M743.5 531.5h.01M743.5 508.5h.01M744.5 521.5h.01M744.5 506.5h.01M744.5 518.5h.01M745.5 530.5h.01M745.5 533.5h.01M746.5 505.5h.01M746.5 546.5h.01M747.5 536.5h.01M747.5 540.5h.01M747.5 523.5h.01M748.5 523.5h.01M748.5 533.5h.01M749.5 515.5h.01M749.5 536.5h.01M750.5 537.5h.01M750.5 543.5h.01M750.5 511.5h.01M751.5 543.5h.01M751.5 532.5h.01M752.5 547.5h.01M752.5 519.5h.01M753.5 539.5h.01M753.5 534.5h.01M753.5 514.5h.01M754.5 529.5h.01M754.5 513.5h.01M755.5 526.5h.01M755.5 522.5h.01M756.5 531.5h.01M756.5 514.5h.01M756.5 526.5h.01M757.5 527.5h.01M757.5 526.5h.01M758.5 515.5h.01M758.5 528.5h.01M759.5 536.5h.01M759.5 524.5h.01M759.5 520.5h.01M760.5 524.5h.01M760.5 511.5h.01M761.5 533.5h.01M761.5 537.5h.01M762.5 515.5h.01M762.5 542.5h.01M763.5 547.5h.01M763.5 536.5h.01M764.5 525.5h.01M764.5 553.5h.01M764.5 562.5h.01M764.5 521.5h.01M765.5 541.5h.01M765.5 544.5h.01M766.5 558.5h.01M766.5 543.5h.01M766.5 554.5h.01M766.5 549.5h.01M767.5 546.5h.01M767.5 532.5h.01M768.5 559.5h.01M768.5 540.5h.01M768.5 546.5h.01M769.5 551.5h.01M769.5 524.5h.01M769.5 520.5h.01M770.5 550.5h.01M770.5 524.5h.01M771.5 514.5h.01M771.5 528.5h.01M772.5 551.5h.01M772.5 521.5h.01M772.5 532.5h.01M773.5 531.5h.01M773.5 506.5h.01M774.5 521.5h.01M774.5 520.5h.01M775.5 505.5h.01M775.5 521.5h.01M776.5 497.5h.01M776.5 528.5h.01M776.5 498.5h.01M777.5 526.5h.01M777.5 495.5h.01M778.5 501.5h.01M778.5 527.5h.01M779.5 501.5h.01M779.5 511.5h.01M779.5 499.5h.01M780.5 526.5h.01M781.5 506.5h.01M781.5 517.5h.01M781.5 496.5h.01M782.5 516.5h.01M782.5 541.5h.01M782.5 522.5h.01M783.5 503.5h.01M783.5 513.5h.01M784.5 518.5h.01M784.5 513.5h.01M784.5 480.5h.01M784.5 516.5h.01M785.5 521.5h.01M785.5 519.5h.01M786.5 511.5h.01M786.5 505.5h.01M786.5 514.5h.01M787.5 506.5h.01M787.5 531.5h.01M788.5 505.5h.01M789.5 530.5h.01M789.5 495.5h.01M790.5 503.5h.01M790.5 525.5h.01M791.5 518.5h.01M791.5 528.5h.01M791.5 527.5h.01M792.5 526.5h.01M792.5 512.5h.01M793.5 521.5h.01M793.5 507.5h.01M793.5 503.5h.01M794.5 523.5h.01M794.5 519.5h.01M795.5 522.5h.01M795.5 506.5h.01M796.5 529.5h.01M796.5 509.5h.01M797.5 496.5h.01M797.5 491.5h.01M797.5 488.5h.01M798.5 512.5h.01M798.5 473.5h.01M798.5 492.5h.01M799.5 507.5h.01M799.5 500.5h.01M800.5 507.5h.01M800.5 527.5h.01M800.5 509.5h.01M801.5 494.5h.01M801.5 500.5h.01M802.5 508.5h.01M802.5 521.5h.01M803.5 498.5h.01M803.5 496.5h.01M803.5 506.5h.01M804.5 505.5h.01M804.5 485.5h.01M805.5 483.5h.01M805.5 503.5h.01M806.5 482.5h.01M806.5 495.5h.01M806.5 494.5h.01M807.5 471.5h.01M807.5 508.5h.01M807.5 503.5h.01M808.5 516.5h.01M808.5 520.5h.01M809.5 513.5h.01M809.5 523.5h.01M810.5 514.5h.01M810.5 512.5h.01M811.5 524.5h.01M811.5 505.5h.01M811.5 498.5h.01M812.5 506.5h.01M812.5 517.5h.01M813.5 507.5h.01M813.5 505.5h.01M814.5 512.5h.01M814.5 505.5h.01M814.5 499.5h.01M815.5 525.5h.01M815.5 505.5h.01M816.5 507.5h.01M816.5 530.5h.01M816.5 490.5h.01M817.5 510.5h.01M817.5 512.5h.01M817.5 508.5h.01M818.5 509.5h.01M818.5 516.5h.01M819.5 507.5h.01M819.5 504.5h.01M819.5 502.5h.01M820.5 474.5h.01M820.5 510.5h.01M820.5 501.5h.01M821.5 506.5h.01M821.5 516.5h.01M822.5 503.5h.01M822.5 469.5h.01M822.5 489.5h.01M822.5 516.5h.01M823.5 496.5h.01M823.5 518.5h.01M823.5 500.5h.01M824.5 501.5h.01M824.5 509.5h.01M825.5 517.5h.01M825.5 482.5h.01M825.5 514.5h.01M826.5 486.5h.01M826.5 504.5h.01M826.5 491.5h.01M827.5 511.5h.01M827.5 514.5h.01M827.5 501.5h.01M828.5 491.5h.01M828.5 483.5h.01M828.5 508.5h.01M829.5 496.5h.01M829.5 489.5h.01M829.5 504.5h.01M830.5 485.5h.01M830.5 468.5h.01M830.5 505.5h.01M830.5 496.5h.01M831.5 506.5h.01M831.5 469.5h.01M831.5 495.5h.01M832.5 479.5h.01M832.5 499.5h.01M832.5 489.5h.01M832.5 500.5h.01M833.5 468.5h.01M834.5 507.5h.01M834.5 525.5h.01M835.5 537.5h.01M835.5 531.5h.01M836.5 526.5h.01M836.5 540.5h.01M837.5 508.5h.01M837.5 518.5h.01M838.5 518.5h.01M838.5 515.5h.01M839.5 524.5h.01M839.5 511.5h.01M840.5 531.5h.01M840.5 533.5h.01M840.5 523.5h.01M841.5 509.5h.01M841.5 518.5h.01M842.5 521.5h.01M842.5 511.5h.01M843.5 526.5h.01M843.5 518.5h.01M844.5 527.5h.01M844.5 512.5h.01M845.5 521.5h.01M845.5 520.5h.01M845.5 513.5h.01M846.5 511.5h.01M846.5 504.5h.01M847.5 528.5h.01M847.5 491.5h.01M847.5 526.5h.01M848.5 507.5h.01M848.5 517.5h.01M849.5 510.5h.01M849.5 507.5h.01M850.5 496.5h.01M850.5 501.5h.01M851.5 525.5h.01M851.5 477.5h.01M851.5 504.5h.01M851.5 495.5h.01M852.5 489.5h.01M852.5 510.5h.01M853.5 500.5h.01M853.5 517.5h.01M854.5 494.5h.01M854.5 469.5h.01M854.5 504.5h.01M854.5 516.5h.01M855.5 506.5h.01M855.5 486.5h.01M855.5 504.5h.01M856.5 515.5h.01M856.5 500.5h.01M857.5 510.5h.01M857.5 496.5h.01M857.5 489.5h.01M858.5 510.5h.01M858.5 502.5h.01M858.5 477.5h.01M858.5 491.5h.01M859.5 497.5h.01M859.5 486.5h.01M859.5 508.5h.01M860.5 504.5h.01M860.5 477.5h.01M860.5 505.5h.01M860.5 502.5h.01M861.5 505.5h.01M861.5 509.5h.01M862.5 507.5h.01M862.5 478.5h.01M862.5 516.5h.01M863.5 502.5h.01M863.5 475.5h.01M863.5 481.5h.01M863.5 492.5h.01M863.5 494.5h.01M863.5 518.5h.01M864.5 498.5h.01M864.5 492.5h.01M865.5 496.5h.01M866.5 552.5h.01M866.5 540.5h.01M867.5 542.5h.01M867.5 548.5h.01M868.5 552.5h.01M868.5 531.5h.01M868.5 540.5h.01M869.5 530.5h.01M869.5 541.5h.01M870.5 545.5h.01M870.5 535.5h.01M871.5 533.5h.01M871.5 535.5h.01M872.5 555.5h.01M872.5 557.5h.01M872.5 542.5h.01M873.5 550.5h.01M873.5 543.5h.01M873.5 544.5h.01M874.5 559.5h.01M874.5 542.5h.01M874.5 545.5h.01M875.5 534.5h.01M875.5 544.5h.01M875.5 543.5h.01M876.5 547.5h.01M876.5 525.5h.01M877.5 553.5h.01M877.5 541.5h.01M878.5 529.5h.01M878.5 517.5h.01M879.5 524.5h.01M879.5 537.5h.01M879.5 546.5h.01M880.5 546.5h.01M880.5 514.5h.01M881.5 514.5h.01M881.5 525.5h.01M882.5 537.5h.01M882.5 529.5h.01M882.5 533.5h.01M883.5 519.5h.01M883.5 558.5h.01M883.5 527.5h.01M884.5 561.5h.01M884.5 525.5h.01M884.5 550.5h.01M885.5 520.5h.01M885.5 558.5h.01M885.5 521.5h.01M886.5 550.5h.01M886.5 535.5h.01M887.5 538.5h.01M887.5 526.5h.01M888.5 543.5h.01M888.5 554.5h.01M889.5 560.5h.01M889.5 530.5h.01M889.5 534.5h.01M890.5 551.5h.01M890.5 541.5h.01M891.5 563.5h.01M891.5 547.5h.01M891.5 551.5h.01M892.5 559.5h.01M892.5 553.5h.01M892.5 529.5h.01M893.5 533.5h.01M893.5 535.5h.01M894.5 567.5h.01M894.5 549.5h.01M895.5 558.5h.01M895.5 566.5h.01M895.5 554.5h.01M896.5 550.5h.01M896.5 560.5h.01M896.5 568.5h.01M896.5 559.5h.01M897.5 557.5h.01M898.5 533.5h.01M898.5 561.5h.01M899.5 555.5h.01M899.5 536.5h.01M899.5 528.5h.01M900.5 528.5h.01M901.5 537.5h.01M901.5 532.5h.01M902.5 539.5h.01M902.5 521.5h.01M903.5 525.5h.01M903.5 539.5h.01M903.5 556.5h.01M904.5 539.5h.01M904.5 535.5h.01M905.5 525.5h.01M905.5 546.5h.01M906.5 551.5h.01M906.5 558.5h.01M906.5 543.5h.01M907.5 538.5h.01M907.5 543.5h.01M908.5 544.5h.01M908.5 557.5h.01M909.5 528.5h.01M909.5 554.5h.01M910.5 527.5h.01M910.5 540.5h.01M910.5 571.5h.01M910.5 560.5h.01M911.5 542.5h.01M911.5 548.5h.01M912.5 543.5h.01M912.5 530.5h.01M912.5 539.5h.01M913.5 554.5h.01M913.5 526.5h.01M914.5 538.5h.01M914.5 552.5h.01M915.5 534.5h.01M915.5 524.5h.01M916.5 558.5h.01M916.5 546.5h.01M917.5 561.5h.01M917.5 517.5h.01M918.5 553.5h.01M918.5 532.5h.01M919.5 524.5h.01M919.5 553.5h.01M919.5 526.5h.01M920.5 536.5h.01M920.5 540.5h.01M921.5 524.5h.01M921.5 530.5h.01M922.5 531.5h.01M922.5 533.5h.01M923.5 521.5h.01M924.5 530.5h.01M924.5 533.5h.01M924.5 525.5h.01M925.5 534.5h.01M925.5 541.5h.01M925.5 519.5h.01M926.5 526.5h.01M926.5 531.5h.01M927.5 522.5h.01M927.5 533.5h.01M928.5 538.5h.01M928.5 525.5h.01M929.5 548.5h.01M929.5 522.5h.01M930.5 551.5h.01M930.5 539.5h.01M930.5 550.5h.01M931.5 511.5h.01M931.5 546.5h.01M932.5 548.5h.01M932.5 545.5h.01M933.5 521.5h.01M933.5 534.5h.01M933.5 533.5h.01M934.5 524.5h.01M934.5 545.5h.01M935.5 526.5h.01M935.5 541.5h.01M936.5 533.5h.01M936.5 543.5h.01M936.5 551.5h.01M937.5 520.5h.01M937.5 521.5h.01M938.5 545.5h.01M938.5 546.5h.01M939.5 543.5h.01M939.5 542.5h.01M940.5 541.5h.01M940.5 553.5h.01M941.5 534.5h.01M941.5 529.5h.01M942.5 529.5h.01M942.5 532.5h.01M942.5 545.5h.01M943.5 545.5h.01M943.5 542.5h.01M944.5 552.5h.01M944.5 549.5h.01M945.5 532.5h.01M945.5 551.5h.01M946.5 524.5h.01M946.5 549.5h.01M946.5 529.5h.01M947.5 543.5h.01M947.5 546.5h.01M948.5 551.5h.01M948.5 547.5h.01M949.5 537.5h.01M949.5 547.5h.01M950.5 548.5h.01M950.5 542.5h.01M950.5 535.5h.01M951.5 532.5h.01M951.5 537.5h.01M952.5 534.5h.01M952.5 488.5h.01M953.5 480.5h.01M953.5 508.5h.01M954.5 504.5h.01M954.5 497.5h.01M955.5 509.5h.01M955.5 486.5h.01M955.5 483.5h.01M956.5 492.5h.01M956.5 499.5h.01M956.5 497.5h.01M957.5 501.5h.01M957.5 479.5h.01M957.5 500.5h.01M958.5 503.5h.01M958.5 506.5h.01M959.5 496.5h.01M959.5 506.5h.01M959.5 502.5h.01M960.5 512.5h.01M960.5 510.5h.01M961.5 526.5h.01M961.5 513.5h.01M962.5 505.5h.01M962.5 536.5h.01M963.5 510.5h.01M963.5 535.5h.01M964.5 531.5h.01M964.5 550.5h.01M964.5 517.5h.01M965.5 534.5h.01M965.5 533.5h.01M966.5 548.5h.01M966.5 527.5h.01M967.5 526.5h.01M967.5 518.5h.01M967.5 521.5h.01M968.5 542.5h.01M968.5 528.5h.01M969.5 533.5h.01M969.5 544.5h.01M969.5 512.5h.01M970.5 539.5h.01M970.5 536.5h.01M971.5 508.5h.01M971.5 561.5h.01M971.5 531.5h.01M972.5 530.5h.01M972.5 523.5h.01M973.5 549.5h.01M973.5 509.5h.01M973.5 535.5h.01M974.5 544.5h.01M974.5 523.5h.01M975.5 535.5h.01M975.5 513.5h.01M976.5 519.5h.01M976.5 536.5h.01M976.5 526.5h.01M977.5 517.5h.01M977.5 520.5h.01M978.5 529.5h.01M978.5 521.5h.01M979.5 521.5h.01M979.5 517.5h.01M980.5 530.5h.01M980.5 539.5h.01M980.5 550.5h.01M980.5 541.5h.01M981.5 530.5h.01M981.5 534.5h.01M982.5 540.5h.01M982.5 528.5h.01M982.5 526.5h.01M983.5 530.5h.01M984.5 531.5h.01M984.5 526.5h.01M985.5 511.5h.01M985.5 510.5h.01M986.5 497.5h.01M986.5 499.5h.01M987.5 491.5h.01M987.5 499.5h.01M988.5 507.5h.01M988.5 510.5h.01M988.5 499.5h.01M989.5 489.5h.01M989.5 508.5h.01M990.5 511.5h.01M990.5 485.5h.01M990.5 488.5h.01M991.5 505.5h.01M991.5 502.5h.01M991.5 495.5h.01M992.5 489.5h.01M992.5 498.5h.01M993.5 495.5h.01M993.5 483.5h.01M993.5 501.5h.01M994.5 506.5h.01M994.5 500.5h.01M994.5 513.5h.01M995.5 480.5h.01M995.5 474.5h.01M995.5 495.5h.01M996.5 493.5h.01M996.5 500.5h.01M997.5 508.5h.01M997.5 472.5h.01M997.5 507.5h.01M998.5 479.5h.01M998.5 483.5h.01M998.5 504.5h.01M999.5 480.5h.01M999.5 490.5h.01M999.5 491.5h.01M1000.5 503.5h.01M1000.5 494.5h.01M1001.5 485.5h.01M1001.5 507.5h.01M1001.5 523.5h.01M1002.5 528.5h.01M1003.5 509.5h.01M1003.5 526.5h.01M1003.5 522.5h.01M1004.5 495.5h.01M1004.5 513.5h.01M1005.5 505.5h.01M1006.5 515.5h.01M1006.5 489.5h.01M1006.5 506.5h.01M1007.5 500.5h.01M1007.5 482.5h.01M1008.5 509.5h.01M1008.5 484.5h.01M1009.5 509.5h.01M1009.5 491.5h.01M1009.5 505.5h.01M1010.5 489.5h.01M1010.5 508.5h.01M1011.5 486.5h.01M1011.5 502.5h.01M1011.5 507.5h.01M1011.5 505.5h.01M1012.5 499.5h.01M1012.5 512.5h.01M1013.5 510.5h.01M1013.5 492.5h.01M1014.5 507.5h.01M1014.5 501.5h.01M1015.5 508.5h.01M1015.5 496.5h.01M1015.5 504.5h.01M1016.5 508.5h.01M1016.5 501.5h.01M1017.5 507.5h.01M1017.5 493.5h.01M1018.5 498.5h.01M1018.5 517.5h.01M1019.5 516.5h.01M1019.5 527.5h.01M1019.5 505.5h.01M1020.5 523.5h.01M1020.5 490.5h.01M1021.5 501.5h.01M1021.5 510.5h.01M1021.5 494.5h.01M1022.5 483.5h.01M1022.5 497.5h.01M1022.5 517.5h.01M1023.5 505.5h.01M1023.5 507.5h.01M1024.5 498.5h.01M1024.5 517.5h.01M1024.5 519.5h.01M1025.5 509.5h.01M1025.5 501.5h.01M1026.5 513.5h.01M1026.5 501.5h.01M1027.5 500.5h.01M1027.5 506.5h.01M1028.5 511.5h.01M1028.5 513.5h.01M1028.5 496.5h.01M1029.5 503.5h.01M1029.5 519.5h.01M1030.5 512.5h.01M1030.5 516.5h.01M1031.5 513.5h.01M1031.5 487.5h.01M1031.5 489.5h.01M1031.5 521.5h.01M1032.5 512.5h.01M1032.5 508.5h.01M1033.5 525.5h.01M1033.5 506.5h.01M1034.5 508.5h.01M1034.5 517.5h.01M1035.5 524.5h.01M1035.5 529.5h.01M1035.5 501.5h.01M1036.5 511.5h.01M1036.5 500.5h.01M1037.5 529.5h.01M1037.5 492.5h.01M1037.5 513.5h.01M1038.5 524.5h.01M1038.5 500.5h.01M1038.5 499.5h.01M1039.5 514.5h.01M1039.5 516.5h.01M1207.5 497.5h.01M1208.5 498.5h.01M1208.5 476.5h.01M1208.5 496.5h.01M1209.5 509.5h.01M1209.5 514.5h.01M1209.5 535.5h.01M1210.5 509.5h.01M1210.5 518.5h.01M1210.5 513.5h.01M1211.5 513.5h.01M1211.5 506.5h.01M1212.5 498.5h.01M1212.5 512.5h.01M1213.5 490.5h.01M1213.5 514.5h.01M1213.5 492.5h.01M1214.5 519.5h.01M1214.5 498.5h.01M1215.5 485.5h.01M1215.5 500.5h.01M1215.5 519.5h.01M1216.5 494.5h.01M1216.5 486.5h.01M1216.5 512.5h.01M1217.5 488.5h.01M1217.5 497.5h.01M1218.5 509.5h.01M1218.5 506.5h.01M1219.5 493.5h.01M1219.5 487.5h.01M1219.5 515.5h.01M1220.5 487.5h.01M1220.5 497.5h.01M1221.5 511.5h.01M1221.5 500.5h.01M1222.5 488.5h.01M1222.5 513.5h.01M1222.5 505.5h.01M1223.5 519.5h.01M1223.5 483.5h.01M1224.5 500.5h.01M1224.5 481.5h.01M1224.5 540.5h.01M1225.5 525.5h.01M1225.5 522.5h.01M1226.5 501.5h.01M1226.5 511.5h.01M1226.5 510.5h.01M1227.5 499.5h.01M1227.5 490.5h.01M1228.5 523.5h.01M1228.5 518.5h.01M1229.5 498.5h.01M1229.5 488.5h.01M1229.5 516.5h.01M1230.5 511.5h.01M1230.5 494.5h.01M1231.5 522.5h.01M1231.5 502.5h.01M1232.5 502.5h.01M1232.5 499.5h.01M1233.5 500.5h.01M1233.5 524.5h.01M1233.5 523.5h.01M1234.5 528.5h.01M1234.5 494.5h.01M1235.5 498.5h.01M1235.5 519.5h.01M1236.5 493.5h.01M1236.5 509.5h.01M1236.5 517.5h.01M1237.5 512.5h.01M1237.5 506.5h.01M1238.5 510.5h.01M1238.5 508.5h.01M1239.5 505.5h.01M1239.5 502.5h.01M1240.5 497.5h.01M1240.5 486.5h.01M1240.5 511.5h.01M1241.5 507.5h.01M1241.5 510.5h.01M1242.5 513.5h.01M1242.5 509.5h.01M1243.5 507.5h.01M1243.5 513.5h.01M1243.5 497.5h.01M1244.5 493.5h.01M1244.5 487.5h.01M1245.5 506.5h.01M1245.5 494.5h.01M1245.5 495.5h.01M1246.5 510.5h.01M1246.5 536.5h.01M1246.5 500.5h.01M1247.5 512.5h.01M1247.5 508.5h.01M1248.5 511.5h.01M1248.5 486.5h.01M1248.5 502.5h.01M1249.5 492.5h.01M1249.5 486.5h.01M1250.5 483.5h.01M1250.5 497.5h.01M1250.5 509.5h.01M1251.5 466.5h.01M1251.5 517.5h.01M1251.5 478.5h.01M1251.5 496.5h.01M1252.5 462.5h.01M1252.5 473.5h.01M1252.5 510.5h.01M1252.5 470.5h.01M1252.5 511.5h.01M1252.5 523.5h.01M1253.5 463.5h.01M1253.5 524.5h.01M1253.5 503.5h.01M1254.5 530.5h.01M1254.5 506.5h.01M1255.5 535.5h.01M1255.5 533.5h.01M1256.5 534.5h.01M1256.5 530.5h.01M1256.5 526.5h.01M1257.5 534.5h.01M1257.5 536.5h.01M1258.5 511.5h.01M1258.5 516.5h.01M1259.5 532.5h.01M1259.5 512.5h.01M1260.5 540.5h.01M1260.5 533.5h.01M1260.5 523.5h.01M1261.5 518.5h.01M1261.5 539.5h.01M1261.5 531.5h.01M1262.5 506.5h.01M1262.5 532.5h.01M1262.5 508.5h.01M1263.5 505.5h.01M1263.5 498.5h.01M1263.5 544.5h.01M1263.5 514.5h.01M1264.5 475.5h.01M1264.5 492.5h.01M1264.5 511.5h.01M1264.5 613.5h.01M1264.5 610.5h.01M1265.5 602.5h.01M1265.5 575.5h.01M1265.5 601.5h.01M1266.5 582.5h.01M1266.5 612.5h.01M1267.5 581.5h.01M1267.5 583.5h.01M1267.5 588.5h.01M1268.5 585.5h.01M1268.5 614.5h.01M1268.5 575.5h.01M1268.5 607.5h.01M1269.5 594.5h.01M1269.5 605.5h.01M1269.5 611.5h.01M1270.5 607.5h.01M1270.5 610.5h.01M1270.5 582.5h.01M1271.5 603.5h.01M1271.5 583.5h.01M1271.5 593.5h.01M1272.5 607.5h.01M1272.5 611.5h.01M1273.5 588.5h.01M1273.5 589.5h.01M1273.5 610.5h.01M1274.5 586.5h.01M1274.5 582.5h.01M1274.5 606.5h.01M1275.5 604.5h.01M1275.5 593.5h.01M1276.5 607.5h.01M1276.5 597.5h.01M1277.5 590.5h.01M1277.5 600.5h.01M1277.5 581.5h.01M1278.5 561.5h.01M1278.5 594.5h.01M1278.5 579.5h.01M1279.5 581.5h.01M1279.5 605.5h.01M1280.5 582.5h.01M1280.5 600.5h.01M1281.5 606.5h.01M1281.5 604.5h.01M1282.5 603.5h.01M1282.5 578.5h.01M1283.5 609.5h.01M1283.5 587.5h.01M1283.5 605.5h.01M1283.5 593.5h.01M1284.5 589.5h.01M1285.5 603.5h.01M1285.5 573.5h.01M1285.5 589.5h.01M1286.5 583.5h.01M1286.5 588.5h.01M1287.5 575.5h.01M1287.5 594.5h.01M1288.5 588.5h.01M1288.5 564.5h.01M1288.5 602.5h.01M1289.5 579.5h.01M1289.5 588.5h.01M1289.5 599.5h.01M1290.5 598.5h.01M1290.5 575.5h.01M1291.5 557.5h.01M1291.5 575.5h.01M1291.5 585.5h.01M1292.5 595.5h.01M1292.5 594.5h.01M1292.5 599.5h.01M1293.5 598.5h.01M1293.5 564.5h.01M1293.5 595.5h.01M1294.5 580.5h.01M1294.5 598.5h.01M1295.5 579.5h.01M1295.5 570.5h.01M1295.5 595.5h.01M1296.5 591.5h.01M1296.5 590.5h.01M1297.5 580.5h.01M1297.5 564.5h.01M1297.5 598.5h.01M1297.5 594.5h.01M1298.5 592.5h.01M1298.5 579.5h.01M1299.5 584.5h.01M1299.5 582.5h.01M1300.5 583.5h.01M1300.5 579.5h.01M1301.5 597.5h.01M1301.5 574.5h.01M1301.5 592.5h.01M1302.5 588.5h.01M1302.5 580.5h.01M1303.5 585.5h.01M1303.5 602.5h.01" stroke="#000" stroke-width="3.8" stroke-linecap="round" fill="none" clip-path="url(#c2)"/>
<path d="M168.5 407.5h.01M169.5 420.5h.01M169.5 425.5h.01M169.5 430.5h.01M168.5 442.5h.01M166.5 450.5h.01M167.5 450.5h.01M273.5 385.5h.01M266.5 392.5h.01M268.5 394.5h.01M269.5 400.5h.01M259.5 403.5h.01M265.5 403.5h.01M267.5 405.5h.01M272.5 404.5h.01M270.5 406.5h.01M269.5 409.5h.01M273.5 410.5h.01M267.5 411.5h.01M270.5 410.5h.01M271.5 415.5h.01M267.5 419.5h.01M272.5 423.5h.01M269.5 423.5h.01M267.5 425.5h.01M265.5 426.5h.01M266.5 434.5h.01M273.5 440.5h.01M271.5 443.5h.01M375.5 387.5h.01M378.5 385.5h.01M381.5 385.5h.01M372.5 395.5h.01M380.5 396.5h.01M379.5 396.5h.01M373.5 400.5h.01M375.5 401.5h.01M372.5 398.5h.01M368.5 403.5h.01M369.5 408.5h.01M373.5 408.5h.01M381.5 409.5h.01M376.5 410.5h.01M378.5 412.5h.01M369.5 413.5h.01M381.5 415.5h.01M379.5 416.5h.01M381.5 419.5h.01M377.5 419.5h.01M375.5 420.5h.01M370.5 422.5h.01M375.5 422.5h.01M377.5 424.5h.01M371.5 425.5h.01M378.5 427.5h.01M368.5 429.5h.01M370.5 429.5h.01M374.5 431.5h.01M371.5 449.5h.01M617.5 383.5h.01M612.5 390.5h.01M617.5 395.5h.01M618.5 395.5h.01M608.5 403.5h.01M606.5 405.5h.01M610.5 404.5h.01M615.5 406.5h.01M618.5 408.5h.01M616.5 410.5h.01M609.5 410.5h.01M607.5 412.5h.01M613.5 411.5h.01M611.5 414.5h.01M606.5 417.5h.01M610.5 418.5h.01M613.5 419.5h.01M611.5 421.5h.01M614.5 423.5h.01M609.5 423.5h.01M616.5 425.5h.01M608.5 426.5h.01M611.5 428.5h.01M608.5 430.5h.01M614.5 433.5h.01M615.5 433.5h.01M606.5 438.5h.01M610.5 440.5h.01M613.5 439.5h.01M614.5 443.5h.01M865.5 414.5h.01M649.5 640.5h.01M1281.5 544.5h.01" stroke="#ffa500" stroke-width="3.5" stroke-linecap="round" fill="none" clip-path="url(#c2)"/>
<path d="M365.6 386.5L371.4 386.5L368.5 380.9Z" fill="#ffa500"/>
<path d="M377.6 385.9L383.4 385.9L380.5 380.3Z" fill="#ffa500"/>
<path d="M752.7 660.8L758.3 660.8L755.5 665.8Z" fill="#ffa500"/>
<path d="M1222.5 660.8L1228.1 660.8L1225.3 665.8Z" fill="#ffa500"/>
<path d="M1229.6 660.8L1235.2 660.8L1232.4 665.8Z" fill="#ffa500"/>
<rect x="105.5" y="499.0" width="1255.5" height="48.8" fill="#ff0000" fill-opacity="0.1"/>
<rect x="162.3" y="494.2" width="1102.3" height="49.8" fill="#ffa500" fill-opacity="0.1"/>
<rect x="1264.6" y="576.0" width="39.8" height="24.9" fill="#ffa500" fill-opacity="0.1"/>
<line x1="161.3" y1="518.5" x2="1265.4" y2="518.5" stroke="#ffa500" stroke-width="3"/>
<line x1="1264.2" y1="587.5" x2="1304.8" y2="587.5" stroke="#ffa500" stroke-width="3"/>
<line x1="105.5" y1="523" x2="1361" y2="523" stroke="#ff0000" stroke-width="2"/>
<line x1="162.25" y1="666.0" x2="162.25" y2="380.5" stroke="#800080" stroke-width="2.08" stroke-dasharray="2.0833 3.4375"/>
<line x1="1264.0" y1="666.0" x2="1264.0" y2="380.5" stroke="#800080" stroke-width="2.08" stroke-dasharray="2.0833 3.4375"/>
<line x1="1303.2" y1="666.0" x2="1303.2" y2="380.5" stroke="#800080" stroke-width="2.08" stroke-dasharray="2.0833 3.4375"/>
<text x="694.75" y="656.70" font-size="14.7" textLength="34.65" lengthAdjust="spacingAndGlyphs">7057</text>
<text x="1261.16" y="636.70" font-size="14.7" textLength="43.41" lengthAdjust="spacingAndGlyphs">54120</text>
<rect x="105.5" y="380.5" width="1380.0" height="286.0" fill="none" stroke="#000" stroke-width="1.1"/>
<line x1="162.5" y1="666.5" x2="162.5" y2="671.9" stroke="#000" stroke-width="1.1"/>
<text x="158.91" y="686.70" font-size="14.7" textLength="8.17" lengthAdjust="spacingAndGlyphs">0</text>
<line x1="334.5" y1="666.5" x2="334.5" y2="671.9" stroke="#000" stroke-width="1.1"/>
<text x="320.83" y="686.70" font-size="14.7" textLength="25.72" lengthAdjust="spacingAndGlyphs">500</text>
<line x1="506.5" y1="666.5" x2="506.5" y2="671.9" stroke="#000" stroke-width="1.1"/>
<text x="487.97" y="686.70" font-size="14.7" textLength="34.71" lengthAdjust="spacingAndGlyphs">1000</text>
<line x1="677.5" y1="666.5" x2="677.5" y2="671.9" stroke="#000" stroke-width="1.1"/>
<text x="659.67" y="686.70" font-size="14.7" textLength="34.71" lengthAdjust="spacingAndGlyphs">1500</text>
<line x1="849.5" y1="666.5" x2="849.5" y2="671.9" stroke="#000" stroke-width="1.1"/>
<text x="831.20" y="686.70" font-size="14.7" textLength="34.84" lengthAdjust="spacingAndGlyphs">2000</text>
<line x1="1021.5" y1="666.5" x2="1021.5" y2="671.9" stroke="#000" stroke-width="1.1"/>
<text x="1003.10" y="686.70" font-size="14.7" textLength="34.84" lengthAdjust="spacingAndGlyphs">2500</text>
<line x1="1192.5" y1="666.5" x2="1192.5" y2="671.9" stroke="#000" stroke-width="1.1"/>
<text x="1175.02" y="686.70" font-size="14.7" textLength="34.60" lengthAdjust="spacingAndGlyphs">3000</text>
<line x1="1364.5" y1="666.5" x2="1364.5" y2="671.9" stroke="#000" stroke-width="1.1"/>
<text x="1346.02" y="686.70" font-size="14.7" textLength="34.60" lengthAdjust="spacingAndGlyphs">3500</text>
<line x1="105.5" y1="650.5" x2="100.1" y2="650.5" stroke="#000" stroke-width="1.1"/>
<text x="64.40" y="655.50" font-size="14.7" textLength="30.48" lengthAdjust="spacingAndGlyphs">9.70</text>
<line x1="105.5" y1="595.5" x2="100.1" y2="595.5" stroke="#000" stroke-width="1.1"/>
<text x="64.41" y="600.50" font-size="14.7" textLength="30.23" lengthAdjust="spacingAndGlyphs">9.75</text>
<line x1="105.5" y1="539.5" x2="100.1" y2="539.5" stroke="#000" stroke-width="1.1"/>
<text x="64.40" y="544.50" font-size="14.7" textLength="30.48" lengthAdjust="spacingAndGlyphs">9.80</text>
<line x1="105.5" y1="483.5" x2="100.1" y2="483.5" stroke="#000" stroke-width="1.1"/>
<text x="64.41" y="488.50" font-size="14.7" textLength="30.23" lengthAdjust="spacingAndGlyphs">9.85</text>
<line x1="105.5" y1="428.5" x2="100.1" y2="428.5" stroke="#000" stroke-width="1.1"/>
<text x="64.40" y="433.50" font-size="14.7" textLength="30.48" lengthAdjust="spacingAndGlyphs">9.90</text>
<text x="706.14" y="372.00" font-size="17.6" textLength="177.14" lengthAdjust="spacingAndGlyphs">Magnitude Estimates</text>
<rect x="1365.3" y="387.3" width="113.40" height="48.20" rx="2.8" ry="2.8" fill="#fff" fill-opacity="0.8" stroke="#ccc" stroke-opacity="0.8" stroke-width="1.1"/>
<line x1="1369.0" y1="399.5" x2="1400.0" y2="399.5" stroke="#ffa500" stroke-width="2.9"/>
<line x1="1369.0" y1="421.9" x2="1398.9" y2="421.9" stroke="#ff0000" stroke-width="2.08"/>
<text x="1410.09" y="403.80" font-size="14.7" textLength="30.41" lengthAdjust="spacingAndGlyphs">mag</text>
<text x="1439.44" y="405.90" font-size="10.3" textLength="30.85" lengthAdjust="spacingAndGlyphs" font-style="italic">OBSID</text>
<text x="1409.39" y="426.70" font-size="14.7" textLength="30.41" lengthAdjust="spacingAndGlyphs">mag</text>
<rect x="1348.3" y="613.3" width="130.40" height="46.00" rx="2.8" ry="2.8" fill="#fff" fill-opacity="0.8" stroke="#ccc" stroke-opacity="0.8" stroke-width="1.1"/>
<circle cx="1367.6" cy="626.4" r="1.9" fill="#ffa500"/>
<circle cx="1367.6" cy="647.6" r="1.9" fill="#000"/>
<text x="1391.94" y="629.80" font-size="14.7" textLength="79.80" lengthAdjust="spacingAndGlyphs">Highlighted</text>
<text x="1392.59" y="650.80" font-size="14.7" textLength="20.39" lengthAdjust="spacingAndGlyphs">OK</text>
</g>
<g id="ax3">
<rect x="1038.2" y="757" width="171.2" height="3" rx="1.5" fill="#000"/>
<path d="M1303.5 758.5h.01M278.5 791.5h.01M280.5 791.5h.01M409.5 791.5h.01M411.5 791.5h.01M412.5 791.5h.01M679.5 791.5h.01M681.5 791.5h.01M682.5 791.5h.01M1229.5 791.5h.01M1231.5 791.5h.01M1233.5 791.5h.01M1235.5 791.5h.01M1237.5 791.5h.01M1239.5 791.5h.01M251.5 856.5h.01M256.5 856.5h.01M260.5 856.5h.01M365.5 856.5h.01M388.5 856.5h.01M389.5 856.5h.01M391.5 856.5h.01M532.5 856.5h.01M544.5 856.5h.01M546.5 856.5h.01M548.5 856.5h.01M694.5 856.5h.01M710.5 856.5h.01M712.5 856.5h.01M714.5 856.5h.01M755.5 856.5h.01M844.5 856.5h.01M961.5 856.5h.01M962.5 856.5h.01M1031.5 856.5h.01M1225.5 856.5h.01M1280.5 856.5h.01M1281.5 856.5h.01M251.5 889.5h.01M256.5 889.5h.01M260.5 889.5h.01M365.5 889.5h.01M388.5 889.5h.01M389.5 889.5h.01M391.5 889.5h.01M532.5 889.5h.01M544.5 889.5h.01M546.5 889.5h.01M548.5 889.5h.01M694.5 889.5h.01M710.5 889.5h.01M712.5 889.5h.01M714.5 889.5h.01M755.5 889.5h.01M844.5 889.5h.01M961.5 889.5h.01M962.5 889.5h.01M1031.5 889.5h.01M1225.5 889.5h.01M1280.5 889.5h.01M1281.5 889.5h.01" stroke="#000" stroke-width="2.9" stroke-linecap="round" fill="none" clip-path="url(#c3)"/>
<path d="M162.5 1002.5h.01M162.5 1001.5h.01M163.5 1002.5h.01M163.5 1001.5h.01M163.5 1000.5h.01M164.5 1000.5h.01M164.5 999.5h.01M165.5 1000.5h.01M165.5 999.5h.01M165.5 998.5h.01M166.5 998.5h.01M166.5 999.5h.01M167.5 997.5h.01M167.5 999.5h.01M167.5 1000.5h.01M167.5 1001.5h.01M168.5 1001.5h.01M167.5 1004.5h.01M168.5 1005.5h.01M168.5 1004.5h.01M169.5 1005.5h.01M170.5 1006.5h.01M170.5 1005.5h.01M171.5 1006.5h.01M172.5 1006.5h.01M172.5 1007.5h.01M173.5 1006.5h.01M173.5 1007.5h.01M174.5 1006.5h.01M175.5 1006.5h.01M175.5 1007.5h.01M176.5 1006.5h.01M177.5 1006.5h.01M178.5 1006.5h.01M178.5 1005.5h.01M179.5 1005.5h.01M179.5 1006.5h.01M180.5 1006.5h.01M180.5 1005.5h.01M181.5 1005.5h.01M181.5 1004.5h.01M182.5 1005.5h.01M182.5 1004.5h.01M183.5 1004.5h.01M183.5 1003.5h.01M184.5 1004.5h.01M183.5 1008.5h.01M184.5 1008.5h.01M184.5 1007.5h.01M185.5 1007.5h.01M186.5 1007.5h.01M186.5 1006.5h.01M187.5 1006.5h.01M188.5 1005.5h.01M188.5 1006.5h.01M189.5 1006.5h.01M189.5 1005.5h.01M190.5 1005.5h.01M191.5 1004.5h.01M191.5 1005.5h.01M192.5 1004.5h.01M193.5 1004.5h.01M193.5 1003.5h.01M193.5 1005.5h.01M194.5 1004.5h.01M194.5 1005.5h.01M194.5 1006.5h.01M195.5 1006.5h.01M195.5 1000.5h.01M196.5 1000.5h.01M196.5 1001.5h.01M197.5 1001.5h.01M198.5 1002.5h.01M199.5 1002.5h.01M199.5 1003.5h.01M200.5 1002.5h.01M200.5 1003.5h.01M201.5 1003.5h.01M201.5 1004.5h.01M202.5 1003.5h.01M202.5 1004.5h.01M203.5 1004.5h.01M204.5 1004.5h.01M205.5 1003.5h.01M205.5 1004.5h.01M206.5 1004.5h.01M207.5 1004.5h.01M207.5 1005.5h.01M208.5 1005.5h.01M208.5 1001.5h.01M208.5 1002.5h.01M209.5 1003.5h.01M209.5 1002.5h.01M210.5 1002.5h.01M211.5 1002.5h.01M212.5 1003.5h.01M212.5 1002.5h.01M213.5 1002.5h.01M214.5 1002.5h.01M215.5 1003.5h.01M216.5 1003.5h.01M217.5 1004.5h.01M218.5 1004.5h.01M218.5 1005.5h.01M219.5 1004.5h.01M220.5 1005.5h.01M220.5 1006.5h.01M221.5 1006.5h.01M222.5 1006.5h.01M223.5 1006.5h.01M223.5 1007.5h.01M224.5 1006.5h.01M224.5 1007.5h.01M225.5 1007.5h.01M226.5 1007.5h.01M226.5 1006.5h.01M226.5 1005.5h.01M227.5 1006.5h.01M227.5 1005.5h.01M228.5 1006.5h.01M228.5 1005.5h.01M228.5 1004.5h.01M229.5 1005.5h.01M229.5 1004.5h.01M230.5 1004.5h.01M230.5 1003.5h.01M231.5 1004.5h.01M231.5 1002.5h.01M231.5 1003.5h.01M232.5 1002.5h.01M231.5 1007.5h.01M232.5 1007.5h.01M232.5 1008.5h.01M232.5 1006.5h.01M233.5 1006.5h.01M234.5 1006.5h.01M234.5 1005.5h.01M235.5 1005.5h.01M235.5 1006.5h.01M236.5 1005.5h.01M236.5 1004.5h.01M237.5 1004.5h.01M237.5 1005.5h.01M238.5 1004.5h.01M238.5 1003.5h.01M239.5 1003.5h.01M240.5 1003.5h.01M240.5 1004.5h.01M241.5 1003.5h.01M241.5 1002.5h.01M242.5 1003.5h.01M242.5 1002.5h.01M243.5 1003.5h.01M243.5 1002.5h.01M244.5 1002.5h.01M245.5 1002.5h.01M246.5 1001.5h.01M246.5 1002.5h.01M247.5 1001.5h.01M247.5 1002.5h.01M248.5 1000.5h.01M248.5 1001.5h.01M249.5 1001.5h.01M250.5 1000.5h.01M250.5 1001.5h.01M251.5 1001.5h.01M248.5 1005.5h.01M248.5 1004.5h.01M249.5 1005.5h.01M250.5 1004.5h.01M250.5 1005.5h.01M251.5 1004.5h.01M252.5 1003.5h.01M252.5 1004.5h.01M253.5 1003.5h.01M253.5 1004.5h.01M254.5 1003.5h.01M254.5 1004.5h.01M255.5 1003.5h.01M256.5 1004.5h.01M256.5 1003.5h.01M256.5 1002.5h.01M257.5 1003.5h.01M258.5 1003.5h.01M259.5 1002.5h.01M259.5 1003.5h.01M260.5 1002.5h.01M260.5 1003.5h.01M261.5 1002.5h.01M261.5 1003.5h.01M262.5 1002.5h.01M262.5 1003.5h.01M263.5 1002.5h.01M263.5 1003.5h.01M264.5 1002.5h.01M264.5 1003.5h.01M265.5 1002.5h.01M266.5 1003.5h.01M266.5 1002.5h.01M267.5 1003.5h.01M267.5 1004.5h.01M268.5 1003.5h.01M268.5 1004.5h.01M269.5 1004.5h.01M269.5 1005.5h.01M270.5 1004.5h.01M270.5 1005.5h.01M271.5 1006.5h.01M271.5 1005.5h.01M272.5 1006.5h.01M272.5 1005.5h.01M273.5 1007.5h.01M274.5 1000.5h.01M274.5 1001.5h.01M275.5 1001.5h.01M276.5 1000.5h.01M276.5 1001.5h.01M277.5 1001.5h.01M278.5 1001.5h.01M278.5 1002.5h.01M279.5 1001.5h.01M280.5 1002.5h.01M280.5 1001.5h.01M281.5 1002.5h.01M281.5 1001.5h.01M282.5 1002.5h.01M283.5 1002.5h.01M284.5 1002.5h.01M285.5 1003.5h.01M286.5 1002.5h.01M286.5 1004.5h.01M286.5 1005.5h.01M287.5 1005.5h.01M288.5 1005.5h.01M288.5 1006.5h.01M289.5 1006.5h.01M289.5 1007.5h.01M290.5 1006.5h.01M290.5 1007.5h.01M290.5 1008.5h.01M291.5 1007.5h.01M291.5 1008.5h.01M292.5 1009.5h.01M292.5 1008.5h.01M293.5 1008.5h.01M294.5 1009.5h.01M294.5 1008.5h.01M295.5 1009.5h.01M295.5 1008.5h.01M295.5 1007.5h.01M296.5 1008.5h.01M296.5 1007.5h.01M297.5 1007.5h.01M297.5 1006.5h.01M298.5 1007.5h.01M298.5 1006.5h.01M299.5 1006.5h.01M300.5 1005.5h.01M300.5 1006.5h.01M301.5 1006.5h.01M302.5 1005.5h.01M302.5 1006.5h.01M303.5 1006.5h.01M303.5 1005.5h.01M304.5 1005.5h.01M304.5 1006.5h.01M305.5 1006.5h.01M305.5 1005.5h.01M306.5 1006.5h.01M307.5 1005.5h.01M307.5 1006.5h.01M308.5 1006.5h.01M309.5 1006.5h.01M309.5 1005.5h.01M310.5 1005.5h.01M310.5 1006.5h.01M311.5 1006.5h.01M312.5 1006.5h.01M312.5 1005.5h.01M313.5 1005.5h.01M314.5 1005.5h.01M315.5 1005.5h.01M315.5 1006.5h.01M316.5 1005.5h.01M316.5 1006.5h.01M317.5 1006.5h.01M318.5 1005.5h.01M318.5 1006.5h.01M319.5 1005.5h.01M320.5 1005.5h.01M320.5 1006.5h.01M321.5 1006.5h.01M321.5 1005.5h.01M322.5 1005.5h.01M323.5 1006.5h.01M323.5 1005.5h.01M324.5 1005.5h.01M324.5 1006.5h.01M325.5 1005.5h.01M326.5 1006.5h.01M326.5 1005.5h.01M327.5 1005.5h.01M328.5 1005.5h.01M328.5 1006.5h.01M329.5 1006.5h.01M329.5 1005.5h.01M330.5 1005.5h.01M331.5 1005.5h.01M331.5 1006.5h.01M332.5 1005.5h.01M332.5 1006.5h.01M333.5 1005.5h.01M334.5 1005.5h.01M334.5 1006.5h.01M335.5 1006.5h.01M335.5 1005.5h.01M336.5 1006.5h.01M336.5 1005.5h.01M337.5 1005.5h.01M338.5 1006.5h.01M338.5 1005.5h.01M339.5 1005.5h.01M340.5 1005.5h.01M341.5 1005.5h.01M342.5 1005.5h.01M343.5 1005.5h.01M344.5 1005.5h.01M345.5 1005.5h.01M345.5 1006.5h.01M345.5 1004.5h.01M346.5 1005.5h.01M347.5 1005.5h.01M347.5 1004.5h.01M348.5 1006.5h.01M348.5 1005.5h.01M349.5 1005.5h.01M350.5 1006.5h.01M350.5 1005.5h.01M351.5 1005.5h.01M352.5 1006.5h.01M353.5 1006.5h.01M353.5 1005.5h.01M354.5 1006.5h.01M354.5 1007.5h.01M355.5 1006.5h.01M355.5 1007.5h.01M356.5 1007.5h.01M357.5 1007.5h.01M358.5 1007.5h.01M358.5 1008.5h.01M359.5 1007.5h.01M359.5 1008.5h.01M360.5 1007.5h.01M361.5 1007.5h.01M361.5 1006.5h.01M362.5 1006.5h.01M363.5 1005.5h.01M364.5 1004.5h.01M364.5 1005.5h.01M365.5 1004.5h.01M365.5 1003.5h.01M366.5 1003.5h.01M364.5 1001.5h.01M365.5 1001.5h.01M365.5 1000.5h.01M366.5 1000.5h.01M366.5 1001.5h.01M367.5 1000.5h.01M368.5 1007.5h.01M368.5 1006.5h.01M369.5 1007.5h.01M369.5 1006.5h.01M370.5 1006.5h.01M371.5 1006.5h.01M372.5 1005.5h.01M372.5 1006.5h.01M373.5 1005.5h.01M373.5 1006.5h.01M374.5 1005.5h.01M374.5 1006.5h.01M375.5 1005.5h.01M375.5 1004.5h.01M376.5 1005.5h.01M376.5 1004.5h.01M377.5 1005.5h.01M378.5 1005.5h.01M378.5 1004.5h.01M379.5 1004.5h.01M380.5 1004.5h.01M380.5 1003.5h.01M381.5 1004.5h.01M381.5 1003.5h.01M382.5 1004.5h.01M382.5 1003.5h.01M383.5 1004.5h.01M384.5 1004.5h.01M384.5 1003.5h.01M385.5 1003.5h.01M385.5 1002.5h.01M386.5 1003.5h.01M387.5 1003.5h.01M387.5 1002.5h.01M388.5 1003.5h.01M389.5 1003.5h.01M390.5 1003.5h.01M390.5 1002.5h.01M391.5 1003.5h.01M392.5 1002.5h.01M392.5 1003.5h.01M393.5 1003.5h.01M394.5 1003.5h.01M395.5 1003.5h.01M396.5 1003.5h.01M397.5 1003.5h.01M398.5 1003.5h.01M398.5 1005.5h.01M398.5 1004.5h.01M399.5 1004.5h.01M400.5 1004.5h.01M401.5 1004.5h.01M401.5 1005.5h.01M402.5 1004.5h.01M402.5 1005.5h.01M403.5 1005.5h.01M404.5 1004.5h.01M404.5 1005.5h.01M405.5 1004.5h.01M405.5 1005.5h.01M406.5 1005.5h.01M407.5 1005.5h.01M408.5 1006.5h.01M408.5 1005.5h.01M409.5 1005.5h.01M409.5 1006.5h.01M410.5 1005.5h.01M410.5 1006.5h.01M411.5 1006.5h.01M411.5 1005.5h.01M412.5 1006.5h.01M413.5 1006.5h.01M414.5 1006.5h.01M415.5 1007.5h.01M415.5 1006.5h.01M416.5 1006.5h.01M416.5 1007.5h.01M417.5 1007.5h.01M418.5 1007.5h.01M419.5 1007.5h.01M420.5 1007.5h.01M421.5 1007.5h.01M422.5 1007.5h.01M423.5 1007.5h.01M423.5 1006.5h.01M424.5 1006.5h.01M425.5 1006.5h.01M425.5 1007.5h.01M426.5 1006.5h.01M427.5 1006.5h.01M427.5 1005.5h.01M428.5 1005.5h.01M428.5 1006.5h.01M429.5 1005.5h.01M430.5 1005.5h.01M430.5 1004.5h.01M431.5 1004.5h.01M431.5 1005.5h.01M432.5 1004.5h.01M432.5 1005.5h.01M433.5 1005.5h.01M434.5 1004.5h.01M435.5 1004.5h.01M436.5 1004.5h.01M436.5 1003.5h.01M437.5 1003.5h.01M437.5 1004.5h.01M438.5 1004.5h.01M438.5 1003.5h.01M439.5 1003.5h.01M439.5 1002.5h.01M440.5 1003.5h.01M441.5 1002.5h.01M441.5 1003.5h.01M441.5 1004.5h.01M442.5 1003.5h.01M442.5 1002.5h.01M443.5 1003.5h.01M444.5 1003.5h.01M444.5 1002.5h.01M445.5 1002.5h.01M446.5 1002.5h.01M446.5 1003.5h.01M447.5 1003.5h.01M447.5 1002.5h.01M448.5 1002.5h.01M448.5 1003.5h.01M449.5 1002.5h.01M450.5 1002.5h.01M450.5 1001.5h.01M451.5 1002.5h.01M452.5 1002.5h.01M452.5 1001.5h.01M453.5 1002.5h.01M454.5 1002.5h.01M455.5 1002.5h.01M455.5 1004.5h.01M455.5 1005.5h.01M456.5 1005.5h.01M457.5 1005.5h.01M458.5 1005.5h.01M458.5 1006.5h.01M459.5 1006.5h.01M460.5 1006.5h.01M461.5 1006.5h.01M462.5 1006.5h.01M462.5 1007.5h.01M463.5 1006.5h.01M463.5 1007.5h.01M464.5 1006.5h.01M464.5 1007.5h.01M465.5 1007.5h.01M465.5 1006.5h.01M466.5 1007.5h.01M466.5 1006.5h.01M467.5 1007.5h.01M467.5 1006.5h.01M468.5 1006.5h.01M468.5 1007.5h.01M469.5 1007.5h.01M470.5 1006.5h.01M470.5 1007.5h.01M471.5 1006.5h.01M471.5 1007.5h.01M472.5 1006.5h.01M472.5 1007.5h.01M473.5 1007.5h.01M473.5 1006.5h.01M474.5 1007.5h.01M474.5 1006.5h.01M475.5 1007.5h.01M475.5 1006.5h.01M476.5 1006.5h.01M476.5 1007.5h.01M477.5 1007.5h.01M477.5 1006.5h.01M478.5 1007.5h.01M478.5 1006.5h.01M479.5 1007.5h.01M479.5 1006.5h.01M480.5 1007.5h.01M480.5 1006.5h.01M481.5 1006.5h.01M482.5 1006.5h.01M483.5 1006.5h.01M484.5 1006.5h.01M485.5 1006.5h.01M486.5 1006.5h.01M486.5 1005.5h.01M487.5 1005.5h.01M488.5 1006.5h.01M488.5 1005.5h.01M488.5 1004.5h.01M489.5 1005.5h.01M490.5 1004.5h.01M490.5 1005.5h.01M491.5 1005.5h.01M491.5 1004.5h.01M492.5 1004.5h.01M492.5 1005.5h.01M493.5 1004.5h.01M493.5 1005.5h.01M494.5 1004.5h.01M494.5 1005.5h.01M495.5 1004.5h.01M496.5 1004.5h.01M497.5 1004.5h.01M498.5 1004.5h.01M499.5 1004.5h.01M500.5 1004.5h.01M501.5 1004.5h.01M501.5 1003.5h.01M502.5 1003.5h.01M502.5 1004.5h.01M503.5 1004.5h.01M504.5 1003.5h.01M504.5 1004.5h.01M505.5 1004.5h.01M505.5 1003.5h.01M506.5 1003.5h.01M507.5 1004.5h.01M508.5 1003.5h.01M508.5 1004.5h.01M509.5 1003.5h.01M509.5 1004.5h.01M510.5 1003.5h.01M511.5 1003.5h.01M512.5 1003.5h.01M513.5 1003.5h.01M513.5 1002.5h.01M514.5 1002.5h.01M514.5 1003.5h.01M515.5 1003.5h.01M515.5 1002.5h.01M516.5 1003.5h.01M517.5 1007.5h.01M517.5 1008.5h.01M518.5 1007.5h.01M518.5 1008.5h.01M519.5 1008.5h.01M519.5 1007.5h.01M520.5 1007.5h.01M521.5 1007.5h.01M521.5 1008.5h.01M522.5 1007.5h.01M523.5 1007.5h.01M523.5 1008.5h.01M524.5 1007.5h.01M525.5 1007.5h.01M525.5 1006.5h.01M526.5 1006.5h.01M526.5 1007.5h.01M527.5 1007.5h.01M528.5 1007.5h.01M528.5 1006.5h.01M529.5 1007.5h.01M529.5 1006.5h.01M530.5 1007.5h.01M531.5 1007.5h.01M531.5 1006.5h.01M532.5 1006.5h.01M532.5 1001.5h.01M532.5 1000.5h.01M533.5 1001.5h.01M533.5 1000.5h.01M534.5 1000.5h.01M535.5 1001.5h.01M535.5 1000.5h.01M536.5 1000.5h.01M536.5 1001.5h.01M537.5 1000.5h.01M538.5 1001.5h.01M538.5 1000.5h.01M539.5 999.5h.01M539.5 1000.5h.01M540.5 1000.5h.01M541.5 1000.5h.01M541.5 999.5h.01M542.5 1000.5h.01M542.5 1001.5h.01M543.5 1000.5h.01M544.5 999.5h.01M544.5 1000.5h.01M545.5 1000.5h.01M545.5 999.5h.01M546.5 999.5h.01M546.5 1000.5h.01M547.5 1000.5h.01M548.5 1000.5h.01M549.5 1000.5h.01M549.5 1001.5h.01M550.5 1000.5h.01M550.5 1002.5h.01M550.5 1001.5h.01M551.5 1002.5h.01M551.5 1001.5h.01M552.5 1002.5h.01M552.5 1001.5h.01M553.5 1002.5h.01M554.5 1002.5h.01M554.5 1003.5h.01M555.5 1003.5h.01M556.5 1004.5h.01M556.5 1003.5h.01M557.5 1004.5h.01M558.5 1004.5h.01M558.5 1005.5h.01M559.5 1004.5h.01M560.5 1005.5h.01M561.5 1005.5h.01M562.5 1006.5h.01M562.5 1005.5h.01M563.5 1006.5h.01M563.5 1005.5h.01M564.5 1005.5h.01M564.5 1006.5h.01M565.5 1006.5h.01M566.5 1006.5h.01M566.5 1005.5h.01M567.5 1006.5h.01M568.5 1006.5h.01M569.5 1007.5h.01M570.5 1006.5h.01M571.5 1006.5h.01M571.5 1007.5h.01M572.5 1007.5h.01M572.5 1006.5h.01M573.5 1006.5h.01M574.5 1006.5h.01M575.5 1007.5h.01M576.5 1006.5h.01M576.5 1007.5h.01M577.5 1006.5h.01M577.5 1007.5h.01M578.5 1007.5h.01M578.5 1006.5h.01M579.5 1008.5h.01M579.5 1006.5h.01M579.5 1007.5h.01M580.5 1007.5h.01M581.5 1007.5h.01M582.5 1007.5h.01M582.5 1006.5h.01M583.5 1006.5h.01M584.5 1006.5h.01M585.5 1005.5h.01M585.5 1006.5h.01M586.5 1005.5h.01M587.5 1004.5h.01M587.5 1005.5h.01M588.5 1004.5h.01M589.5 1004.5h.01M589.5 1003.5h.01M590.5 1004.5h.01M590.5 1006.5h.01M590.5 1007.5h.01M591.5 1006.5h.01M592.5 1005.5h.01M592.5 1006.5h.01M593.5 1005.5h.01M594.5 1004.5h.01M594.5 1005.5h.01M595.5 1004.5h.01M596.5 1004.5h.01M596.5 1003.5h.01M597.5 1004.5h.01M597.5 1003.5h.01M598.5 1003.5h.01M599.5 1003.5h.01M599.5 1002.5h.01M600.5 1002.5h.01M601.5 1002.5h.01M602.5 1001.5h.01M602.5 1002.5h.01M602.5 1000.5h.01M603.5 1001.5h.01M604.5 1001.5h.01M605.5 1000.5h.01M606.5 1005.5h.01M607.5 1006.5h.01M607.5 1005.5h.01M608.5 1006.5h.01M609.5 1005.5h.01M610.5 1006.5h.01M610.5 1005.5h.01M611.5 1005.5h.01M612.5 1006.5h.01M613.5 1005.5h.01M613.5 1006.5h.01M614.5 1005.5h.01M615.5 1006.5h.01M615.5 1005.5h.01M616.5 1005.5h.01M617.5 1005.5h.01M618.5 1006.5h.01M618.5 1000.5h.01M618.5 1001.5h.01M619.5 1001.5h.01M619.5 1002.5h.01M620.5 1001.5h.01M620.5 1002.5h.01M621.5 1002.5h.01M621.5 1003.5h.01M622.5 1003.5h.01M623.5 1003.5h.01M623.5 1004.5h.01M624.5 1004.5h.01M625.5 1005.5h.01M625.5 1004.5h.01M626.5 1005.5h.01M626.5 1004.5h.01M627.5 1004.5h.01M627.5 1005.5h.01M628.5 1004.5h.01M629.5 1005.5h.01M629.5 1004.5h.01M629.5 1003.5h.01M630.5 1004.5h.01M631.5 1003.5h.01M632.5 1003.5h.01M633.5 1003.5h.01M633.5 1002.5h.01M634.5 1002.5h.01M635.5 1002.5h.01M636.5 1002.5h.01M636.5 1007.5h.01M637.5 1007.5h.01M638.5 1007.5h.01M639.5 1007.5h.01M639.5 1006.5h.01M640.5 1007.5h.01M640.5 1006.5h.01M641.5 1007.5h.01M641.5 1006.5h.01M642.5 1007.5h.01M642.5 1006.5h.01M643.5 1007.5h.01M643.5 1006.5h.01M644.5 1007.5h.01M645.5 1006.5h.01M646.5 1006.5h.01M646.5 1007.5h.01M647.5 1007.5h.01M647.5 1006.5h.01M648.5 1006.5h.01M648.5 1007.5h.01M649.5 1006.5h.01M649.5 1007.5h.01M650.5 1006.5h.01M650.5 1007.5h.01M651.5 1007.5h.01M651.5 1006.5h.01M652.5 1006.5h.01M652.5 1007.5h.01M653.5 1006.5h.01M654.5 1006.5h.01M655.5 1006.5h.01M656.5 1005.5h.01M656.5 1006.5h.01M657.5 1006.5h.01M658.5 1005.5h.01M659.5 1006.5h.01M659.5 1005.5h.01M660.5 1005.5h.01M661.5 1005.5h.01M662.5 1005.5h.01M662.5 1006.5h.01M663.5 1005.5h.01M664.5 1005.5h.01M665.5 1005.5h.01M665.5 1004.5h.01M666.5 1005.5h.01M666.5 1004.5h.01M667.5 1005.5h.01M668.5 1004.5h.01M668.5 1005.5h.01M669.5 1004.5h.01M669.5 1005.5h.01M670.5 1004.5h.01M671.5 1004.5h.01M672.5 1005.5h.01M673.5 1004.5h.01M674.5 1004.5h.01M674.5 1005.5h.01M675.5 1004.5h.01M676.5 1004.5h.01M677.5 1005.5h.01M677.5 1004.5h.01M678.5 1004.5h.01M678.5 1003.5h.01M679.5 1005.5h.01M679.5 1004.5h.01M680.5 1004.5h.01M681.5 1004.5h.01M681.5 1005.5h.01M682.5 1004.5h.01M683.5 1004.5h.01M683.5 1005.5h.01M684.5 1004.5h.01M685.5 1005.5h.01M685.5 1004.5h.01M686.5 1004.5h.01M686.5 1005.5h.01M687.5 1005.5h.01M688.5 1005.5h.01M688.5 1006.5h.01M689.5 1005.5h.01M689.5 1006.5h.01M690.5 1005.5h.01M691.5 1005.5h.01M691.5 1006.5h.01M692.5 1006.5h.01M693.5 1005.5h.01M694.5 1001.5h.01M694.5 1000.5h.01M695.5 1001.5h.01M696.5 1001.5h.01M696.5 1002.5h.01M697.5 1002.5h.01M698.5 1002.5h.01M699.5 1002.5h.01M699.5 1003.5h.01M700.5 1003.5h.01M700.5 1004.5h.01M701.5 1004.5h.01M701.5 1003.5h.01M702.5 1004.5h.01M702.5 1003.5h.01M703.5 1005.5h.01M703.5 1004.5h.01M704.5 1005.5h.01M704.5 1004.5h.01M705.5 1004.5h.01M706.5 1004.5h.01M707.5 1004.5h.01M708.5 1003.5h.01M709.5 1003.5h.01M710.5 1003.5h.01M710.5 1002.5h.01M711.5 1003.5h.01M711.5 1002.5h.01M712.5 1002.5h.01M713.5 1002.5h.01M713.5 1001.5h.01M714.5 1001.5h.01M715.5 1001.5h.01M715.5 1000.5h.01M716.5 1000.5h.01M716.5 1001.5h.01M717.5 1001.5h.01M718.5 1001.5h.01M719.5 1001.5h.01M720.5 1001.5h.01M720.5 1002.5h.01M721.5 1001.5h.01M721.5 1002.5h.01M722.5 1001.5h.01M722.5 1002.5h.01M723.5 1002.5h.01M724.5 1002.5h.01M724.5 1001.5h.01M725.5 1002.5h.01M726.5 1002.5h.01M726.5 1003.5h.01M727.5 1002.5h.01M727.5 1003.5h.01M728.5 1002.5h.01M728.5 1003.5h.01M729.5 1003.5h.01M730.5 1003.5h.01M731.5 1003.5h.01M732.5 1002.5h.01M732.5 1003.5h.01M733.5 1004.5h.01M733.5 1003.5h.01M734.5 1004.5h.01M734.5 1003.5h.01M735.5 1004.5h.01M735.5 1003.5h.01M736.5 1004.5h.01M737.5 1003.5h.01M737.5 1004.5h.01M738.5 1003.5h.01M738.5 1004.5h.01M739.5 1003.5h.01M739.5 1004.5h.01M740.5 1003.5h.01M740.5 1004.5h.01M741.5 1004.5h.01M742.5 1004.5h.01M743.5 1004.5h.01M744.5 1004.5h.01M745.5 1003.5h.01M746.5 1003.5h.01M747.5 1003.5h.01M747.5 1002.5h.01M748.5 1002.5h.01M749.5 1001.5h.01M749.5 1002.5h.01M750.5 1001.5h.01M750.5 1005.5h.01M750.5 1004.5h.01M751.5 1004.5h.01M752.5 1005.5h.01M752.5 1004.5h.01M753.5 1003.5h.01M753.5 1004.5h.01M754.5 1004.5h.01M755.5 1004.5h.01M756.5 1004.5h.01M756.5 1003.5h.01M757.5 1003.5h.01M758.5 1004.5h.01M759.5 1004.5h.01M760.5 1005.5h.01M760.5 1004.5h.01M761.5 1005.5h.01M762.5 1005.5h.01M763.5 1005.5h.01M763.5 1006.5h.01M764.5 1005.5h.01M765.5 1006.5h.01M765.5 1005.5h.01M766.5 1006.5h.01M766.5 1005.5h.01M766.5 1004.5h.01M767.5 1005.5h.01M767.5 1004.5h.01M768.5 1004.5h.01M769.5 1004.5h.01M770.5 1004.5h.01M771.5 1003.5h.01M772.5 1003.5h.01M773.5 1002.5h.01M774.5 1003.5h.01M774.5 1002.5h.01M775.5 1002.5h.01M775.5 1003.5h.01M776.5 1002.5h.01M777.5 1002.5h.01M778.5 1002.5h.01M779.5 1001.5h.01M779.5 1002.5h.01M780.5 1001.5h.01M781.5 1001.5h.01M782.5 1001.5h.01M782.5 1000.5h.01M783.5 1001.5h.01M783.5 1000.5h.01M784.5 1001.5h.01M784.5 1004.5h.01M784.5 1005.5h.01M785.5 1004.5h.01M786.5 1005.5h.01M786.5 1004.5h.01M787.5 1004.5h.01M787.5 1005.5h.01M788.5 1004.5h.01M788.5 1005.5h.01M789.5 1005.5h.01M790.5 1005.5h.01M791.5 1004.5h.01M791.5 1005.5h.01M792.5 1005.5h.01M792.5 1006.5h.01M793.5 1004.5h.01M793.5 1005.5h.01M794.5 1005.5h.01M795.5 1005.5h.01M795.5 1006.5h.01M796.5 1005.5h.01M796.5 1004.5h.01M796.5 1006.5h.01M797.5 1006.5h.01M797.5 1005.5h.01M798.5 1005.5h.01M798.5 1006.5h.01M799.5 1005.5h.01M799.5 1006.5h.01M800.5 1005.5h.01M801.5 1005.5h.01M802.5 1005.5h.01M803.5 1005.5h.01M804.5 1005.5h.01M804.5 1004.5h.01M805.5 1004.5h.01M806.5 1004.5h.01M806.5 1003.5h.01M807.5 1004.5h.01M808.5 1004.5h.01M809.5 1004.5h.01M809.5 1005.5h.01M810.5 1004.5h.01M810.5 1005.5h.01M811.5 1004.5h.01M811.5 1005.5h.01M812.5 1005.5h.01M813.5 1005.5h.01M813.5 1006.5h.01M814.5 1005.5h.01M815.5 1006.5h.01M816.5 1005.5h.01M816.5 1006.5h.01M817.5 1005.5h.01M818.5 1006.5h.01M819.5 1006.5h.01M820.5 1006.5h.01M820.5 1005.5h.01M821.5 1006.5h.01M822.5 1006.5h.01M823.5 1007.5h.01M823.5 1006.5h.01M824.5 1006.5h.01M824.5 1007.5h.01M825.5 1007.5h.01M825.5 1006.5h.01M826.5 1006.5h.01M826.5 1007.5h.01M827.5 1007.5h.01M827.5 1006.5h.01M828.5 1006.5h.01M829.5 1007.5h.01M830.5 1008.5h.01M830.5 1007.5h.01M831.5 1007.5h.01M831.5 1008.5h.01M832.5 1008.5h.01M832.5 1007.5h.01M833.5 1007.5h.01M833.5 1008.5h.01M834.5 1007.5h.01M834.5 1004.5h.01M834.5 1003.5h.01M835.5 1003.5h.01M835.5 1004.5h.01M836.5 1004.5h.01M836.5 1003.5h.01M837.5 1003.5h.01M838.5 1003.5h.01M839.5 1004.5h.01M840.5 1003.5h.01M840.5 1004.5h.01M841.5 1003.5h.01M842.5 1003.5h.01M842.5 1004.5h.01M843.5 1003.5h.01M844.5 1003.5h.01M845.5 1004.5h.01M846.5 1003.5h.01M846.5 1006.5h.01M846.5 1005.5h.01M847.5 1005.5h.01M847.5 1006.5h.01M848.5 1006.5h.01M848.5 1005.5h.01M849.5 1005.5h.01M850.5 1005.5h.01M850.5 1004.5h.01M851.5 1004.5h.01M851.5 1005.5h.01M852.5 1004.5h.01M852.5 1003.5h.01M853.5 1004.5h.01M853.5 1003.5h.01M854.5 1004.5h.01M854.5 1003.5h.01M855.5 1003.5h.01M856.5 1003.5h.01M856.5 1002.5h.01M857.5 1003.5h.01M857.5 1002.5h.01M858.5 1002.5h.01M858.5 1003.5h.01M859.5 1002.5h.01M860.5 1002.5h.01M861.5 1002.5h.01M862.5 1001.5h.01M863.5 1001.5h.01M864.5 1001.5h.01M864.5 1000.5h.01M865.5 1001.5h.01M866.5 1001.5h.01M867.5 1001.5h.01M867.5 1002.5h.01M868.5 1002.5h.01M869.5 1002.5h.01M869.5 1003.5h.01M870.5 1002.5h.01M870.5 1003.5h.01M871.5 1003.5h.01M872.5 1004.5h.01M872.5 1003.5h.01M873.5 1003.5h.01M873.5 1004.5h.01M874.5 1005.5h.01M875.5 1005.5h.01M875.5 1004.5h.01M876.5 1005.5h.01M877.5 1005.5h.01M877.5 1000.5h.01M877.5 1001.5h.01M878.5 1001.5h.01M878.5 1002.5h.01M879.5 1002.5h.01M880.5 1002.5h.01M880.5 1003.5h.01M881.5 1003.5h.01M882.5 1003.5h.01M882.5 1004.5h.01M883.5 1004.5h.01M884.5 1004.5h.01M884.5 1005.5h.01M885.5 1005.5h.01M885.5 1006.5h.01M886.5 1005.5h.01M886.5 1006.5h.01M887.5 1006.5h.01M887.5 1007.5h.01M888.5 1006.5h.01M888.5 1005.5h.01M889.5 1006.5h.01M890.5 1006.5h.01M890.5 1005.5h.01M891.5 1006.5h.01M892.5 1006.5h.01M893.5 1006.5h.01M894.5 1006.5h.01M894.5 1005.5h.01M895.5 1006.5h.01M896.5 1006.5h.01M897.5 1006.5h.01M898.5 1006.5h.01M899.5 1006.5h.01M900.5 1006.5h.01M901.5 1006.5h.01M902.5 1006.5h.01M903.5 1006.5h.01M904.5 1005.5h.01M904.5 1006.5h.01M905.5 1006.5h.01M906.5 1006.5h.01M907.5 1006.5h.01M907.5 1005.5h.01M908.5 1006.5h.01M909.5 1006.5h.01M909.5 1007.5h.01M910.5 1006.5h.01M911.5 1006.5h.01M912.5 1007.5h.01M912.5 1006.5h.01M913.5 1006.5h.01M914.5 1006.5h.01M915.5 1006.5h.01M916.5 1006.5h.01M917.5 1006.5h.01M918.5 1006.5h.01M919.5 1006.5h.01M920.5 1006.5h.01M921.5 1007.5h.01M921.5 1006.5h.01M922.5 1007.5h.01M922.5 1006.5h.01M923.5 1006.5h.01M924.5 1006.5h.01M925.5 1005.5h.01M926.5 1006.5h.01M926.5 1005.5h.01M926.5 1004.5h.01M927.5 1005.5h.01M927.5 1004.5h.01M928.5 1004.5h.01M928.5 1005.5h.01M929.5 1005.5h.01M929.5 1004.5h.01M930.5 1004.5h.01M930.5 1005.5h.01M931.5 1004.5h.01M932.5 1003.5h.01M932.5 1004.5h.01M933.5 1003.5h.01M933.5 1004.5h.01M934.5 1003.5h.01M935.5 1003.5h.01M936.5 1003.5h.01M936.5 1004.5h.01M937.5 1003.5h.01M937.5 1004.5h.01M938.5 1003.5h.01M938.5 1002.5h.01M939.5 1003.5h.01M939.5 1002.5h.01M940.5 1002.5h.01M940.5 1003.5h.01M941.5 1003.5h.01M941.5 1002.5h.01M942.5 1002.5h.01M943.5 1002.5h.01M943.5 1001.5h.01M944.5 1002.5h.01M945.5 1002.5h.01M945.5 1001.5h.01M946.5 1001.5h.01M947.5 1001.5h.01M947.5 1000.5h.01M948.5 1001.5h.01M948.5 1000.5h.01M949.5 1001.5h.01M949.5 1000.5h.01M950.5 1000.5h.01M950.5 1001.5h.01M951.5 1001.5h.01M951.5 1002.5h.01M952.5 1002.5h.01M953.5 1002.5h.01M953.5 1003.5h.01M954.5 1003.5h.01M954.5 1004.5h.01M955.5 1004.5h.01M955.5 1003.5h.01M956.5 1004.5h.01M957.5 1004.5h.01M957.5 1005.5h.01M958.5 1004.5h.01M958.5 1005.5h.01M959.5 1005.5h.01M960.5 1005.5h.01M961.5 1001.5h.01M961.5 1002.5h.01M962.5 1002.5h.01M963.5 1003.5h.01M963.5 1002.5h.01M964.5 1003.5h.01M965.5 1003.5h.01M966.5 1003.5h.01M967.5 1003.5h.01M967.5 1004.5h.01M968.5 1004.5h.01M969.5 1004.5h.01M970.5 1004.5h.01M971.5 1005.5h.01M971.5 1004.5h.01M972.5 1004.5h.01M973.5 1004.5h.01M973.5 1005.5h.01M974.5 1005.5h.01M974.5 1004.5h.01M974.5 1003.5h.01M975.5 1004.5h.01M976.5 1004.5h.01M977.5 1004.5h.01M977.5 1003.5h.01M978.5 1004.5h.01M979.5 1004.5h.01M980.5 1003.5h.01M980.5 1004.5h.01M981.5 1003.5h.01M981.5 1004.5h.01M982.5 1004.5h.01M982.5 1003.5h.01M983.5 1004.5h.01M983.5 1003.5h.01M984.5 1003.5h.01M984.5 1004.5h.01M985.5 1003.5h.01M986.5 1003.5h.01M986.5 1008.5h.01M986.5 1007.5h.01M987.5 1007.5h.01M987.5 1008.5h.01M988.5 1007.5h.01M989.5 1008.5h.01M989.5 1007.5h.01M990.5 1007.5h.01M991.5 1007.5h.01M991.5 1006.5h.01M992.5 1007.5h.01M992.5 1006.5h.01M993.5 1006.5h.01M994.5 1007.5h.01M994.5 1006.5h.01M995.5 1007.5h.01M995.5 1006.5h.01M996.5 1006.5h.01M996.5 1005.5h.01M997.5 1006.5h.01M998.5 1006.5h.01M998.5 1005.5h.01M999.5 1005.5h.01M999.5 1006.5h.01M1000.5 1006.5h.01M1000.5 1005.5h.01M1001.5 1006.5h.01M1001.5 1005.5h.01M1002.5 1005.5h.01M1003.5 1005.5h.01M1003.5 1006.5h.01M1004.5 1005.5h.01M1005.5 1005.5h.01M1006.5 1004.5h.01M1006.5 1005.5h.01M1007.5 1005.5h.01M1007.5 1004.5h.01M1008.5 1005.5h.01M1008.5 1004.5h.01M1009.5 1005.5h.01M1009.5 1004.5h.01M1010.5 1004.5h.01M1010.5 1005.5h.01M1011.5 1004.5h.01M1011.5 1005.5h.01M1012.5 1005.5h.01M1012.5 1004.5h.01M1013.5 1004.5h.01M1013.5 1005.5h.01M1014.5 1005.5h.01M1015.5 1005.5h.01M1016.5 1004.5h.01M1016.5 1005.5h.01M1017.5 1005.5h.01M1018.5 1006.5h.01M1018.5 1005.5h.01M1019.5 1005.5h.01M1020.5 1005.5h.01M1021.5 1006.5h.01M1021.5 1005.5h.01M1022.5 1005.5h.01M1023.5 1005.5h.01M1023.5 1004.5h.01M1024.5 1005.5h.01M1025.5 1005.5h.01M1026.5 1005.5h.01M1026.5 1004.5h.01M1027.5 1005.5h.01M1028.5 1005.5h.01M1029.5 1005.5h.01M1030.5 1004.5h.01M1030.5 1000.5h.01M1030.5 1001.5h.01M1031.5 1001.5h.01M1032.5 1001.5h.01M1032.5 1002.5h.01M1033.5 1002.5h.01M1034.5 1002.5h.01M1035.5 1004.5h.01M1035.5 1002.5h.01M1035.5 1003.5h.01M1036.5 1003.5h.01M1036.5 1004.5h.01M1037.5 1003.5h.01M1037.5 1004.5h.01M1038.5 1004.5h.01M1038.5 1005.5h.01M1039.5 1004.5h.01M1039.5 1005.5h.01M1040.5 1004.5h.01M1208.5 1008.5h.01M1208.5 1007.5h.01M1208.5 1006.5h.01M1209.5 1006.5h.01M1209.5 1007.5h.01M1210.5 1006.5h.01M1211.5 1006.5h.01M1212.5 1006.5h.01M1212.5 1005.5h.01M1212.5 1004.5h.01M1213.5 1005.5h.01M1213.5 1004.5h.01M1214.5 1004.5h.01M1214.5 1005.5h.01M1215.5 1005.5h.01M1216.5 1005.5h.01M1216.5 1004.5h.01M1217.5 1004.5h.01M1218.5 1005.5h.01M1218.5 1004.5h.01M1219.5 1005.5h.01M1220.5 1005.5h.01M1221.5 1004.5h.01M1221.5 1005.5h.01M1222.5 1004.5h.01M1222.5 1005.5h.01M1223.5 1005.5h.01M1224.5 1005.5h.01M1225.5 1005.5h.01M1226.5 1004.5h.01M1226.5 1005.5h.01M1227.5 1005.5h.01M1228.5 1004.5h.01M1228.5 1005.5h.01M1229.5 1005.5h.01M1230.5 1005.5h.01M1231.5 1004.5h.01M1231.5 1005.5h.01M1232.5 1005.5h.01M1233.5 1004.5h.01M1233.5 1005.5h.01M1234.5 1006.5h.01M1234.5 1005.5h.01M1234.5 1004.5h.01M1235.5 1005.5h.01M1236.5 1005.5h.01M1237.5 1005.5h.01M1238.5 1005.5h.01M1238.5 1006.5h.01M1239.5 1005.5h.01M1240.5 1005.5h.01M1240.5 1006.5h.01M1241.5 1005.5h.01M1242.5 1006.5h.01M1242.5 1005.5h.01M1243.5 1005.5h.01M1244.5 1006.5h.01M1245.5 1006.5h.01M1245.5 1005.5h.01M1246.5 1005.5h.01M1247.5 1006.5h.01M1247.5 1005.5h.01M1248.5 1005.5h.01M1249.5 1006.5h.01M1249.5 1005.5h.01M1250.5 1005.5h.01M1251.5 1005.5h.01M1252.5 1006.5h.01M1252.5 1005.5h.01M1253.5 1005.5h.01M1253.5 1006.5h.01M1254.5 1006.5h.01M1255.5 1005.5h.01M1255.5 1006.5h.01M1256.5 1005.5h.01M1256.5 1006.5h.01M1257.5 1006.5h.01M1257.5 1005.5h.01M1258.5 1006.5h.01M1259.5 1006.5h.01M1259.5 1007.5h.01M1260.5 1006.5h.01M1260.5 1007.5h.01M1261.5 1007.5h.01M1262.5 1007.5h.01M1262.5 1006.5h.01M1263.5 1006.5h.01M1263.5 1005.5h.01M1264.5 1005.5h.01M1264.5 1004.5h.01M1265.5 1005.5h.01M1265.5 1004.5h.01M1266.5 1003.5h.01M1266.5 1004.5h.01M1267.5 1004.5h.01M1267.5 1005.5h.01M1268.5 1005.5h.01M1268.5 1006.5h.01M1269.5 1006.5h.01M1270.5 1006.5h.01M1271.5 1007.5h.01M1271.5 1006.5h.01M1271.5 1005.5h.01M1272.5 1006.5h.01M1272.5 1005.5h.01M1273.5 1005.5h.01M1273.5 1006.5h.01M1274.5 1006.5h.01M1274.5 1005.5h.01M1275.5 1006.5h.01M1275.5 1005.5h.01M1276.5 1005.5h.01M1277.5 1005.5h.01M1277.5 1004.5h.01M1278.5 1004.5h.01M1278.5 1005.5h.01M1279.5 1004.5h.01M1280.5 1004.5h.01M1281.5 1004.5h.01M1282.5 1004.5h.01M1282.5 1003.5h.01M1283.5 1003.5h.01M1283.5 1004.5h.01M1284.5 1005.5h.01M1284.5 1004.5h.01M1285.5 1004.5h.01M1286.5 1004.5h.01M1286.5 1005.5h.01M1287.5 1005.5h.01M1287.5 1006.5h.01M1288.5 1006.5h.01M1288.5 1007.5h.01M1289.5 1007.5h.01M1290.5 1007.5h.01M1290.5 1008.5h.01M1290.5 1006.5h.01M1291.5 1007.5h.01M1291.5 1006.5h.01M1292.5 1006.5h.01M1293.5 1006.5h.01M1293.5 1005.5h.01M1293.5 1004.5h.01M1294.5 1005.5h.01M1295.5 1004.5h.01M1296.5 1004.5h.01M1297.5 1004.5h.01M1298.5 1004.5h.01M1298.5 1005.5h.01M1298.5 1006.5h.01M1299.5 1007.5h.01M1299.5 1006.5h.01M1300.5 1006.5h.01M1301.5 1006.5h.01M1301.5 1005.5h.01M1302.5 1005.5h.01M1302.5 1006.5h.01M1303.5 1005.5h.01M755.5 996.5h.01M649.5 1002.5h.01M865.5 1006.5h.01M1225.5 1001.5h.01M1232.5 998.5h.01M1265.5 1000.5h.01M1284.5 1000.5h.01M1264.5 1003.5h.01" stroke="#000" stroke-width="2.9" stroke-linecap="round" fill="none" clip-path="url(#c3)"/>
<path d="M249.4 959.7L253.4 959.7L251.4 955.2ZM254.8 959.7L258.8 959.7L256.8 955.2ZM258.4 959.7L262.4 959.7L260.4 955.2ZM276.6 959.7L280.6 959.7L278.6 955.2ZM278.2 959.7L282.2 959.7L280.2 955.2ZM363.4 959.7L367.4 959.7L365.4 955.2ZM386.0 959.7L390.0 959.7L388.0 955.2ZM387.8 959.7L391.8 959.7L389.8 955.2ZM389.6 959.7L393.6 959.7L391.6 955.2ZM407.6 959.7L411.6 959.7L409.6 955.2ZM409.2 959.7L413.2 959.7L411.2 955.2ZM410.8 959.7L414.8 959.7L412.8 955.2ZM530.4 959.7L534.4 959.7L532.4 955.2ZM542.6 959.7L546.6 959.7L544.6 955.2ZM544.4 959.7L548.4 959.7L546.4 955.2ZM546.0 959.7L550.0 959.7L548.0 955.2ZM677.2 959.7L681.2 959.7L679.2 955.2ZM679.0 959.7L683.0 959.7L681.0 955.2ZM680.8 959.7L684.8 959.7L682.8 955.2ZM692.4 959.7L696.4 959.7L694.4 955.2ZM708.6 959.7L712.6 959.7L710.6 955.2ZM710.6 959.7L714.6 959.7L712.6 955.2ZM712.6 959.7L716.6 959.7L714.6 955.2ZM753.4 959.7L757.4 959.7L755.4 955.2ZM842.4 959.7L846.4 959.7L844.4 955.2ZM959.6 959.7L963.6 959.7L961.6 955.2ZM960.6 959.7L964.6 959.7L962.6 955.2ZM1029.6 959.7L1033.6 959.7L1031.6 955.2ZM1223.4 959.7L1227.4 959.7L1225.4 955.2ZM1227.0 959.7L1231.0 959.7L1229.0 955.2ZM1229.0 959.7L1233.0 959.7L1231.0 955.2ZM1231.0 959.7L1235.0 959.7L1233.0 955.2ZM1233.0 959.7L1237.0 959.7L1235.0 955.2ZM1235.0 959.7L1239.0 959.7L1237.0 955.2ZM1237.0 959.7L1241.0 959.7L1239.0 955.2ZM1278.2 959.7L1282.2 959.7L1280.2 955.2ZM1279.4 959.7L1283.4 959.7L1281.4 955.2ZM1301.2 959.7L1305.2 959.7L1303.2 955.2Z" fill="#ff0000" clip-path="url(#c3)"/>
<rect x="1037.8" y="955.3" width="172.4" height="4.6" rx="2" fill="#ff0000"/>
<circle cx="844.4" cy="981.4" r="1.6" fill="#ff0000"/>
<line x1="105.5" y1="758.50" x2="1485.5" y2="758.50" stroke="#b0b0b0" stroke-width="1.1" stroke-dasharray="1.1111 1.8333"/>
<line x1="105.5" y1="791.50" x2="1485.5" y2="791.50" stroke="#b0b0b0" stroke-width="1.1" stroke-dasharray="1.1111 1.8333"/>
<line x1="105.5" y1="823.50" x2="1485.5" y2="823.50" stroke="#b0b0b0" stroke-width="1.1" stroke-dasharray="1.1111 1.8333"/>
<line x1="105.5" y1="856.50" x2="1485.5" y2="856.50" stroke="#b0b0b0" stroke-width="1.1" stroke-dasharray="1.1111 1.8333"/>
<line x1="105.5" y1="889.50" x2="1485.5" y2="889.50" stroke="#b0b0b0" stroke-width="1.1" stroke-dasharray="1.1111 1.8333"/>
<line x1="105.5" y1="921.50" x2="1485.5" y2="921.50" stroke="#b0b0b0" stroke-width="1.1" stroke-dasharray="1.1111 1.8333"/>
<line x1="105.5" y1="1009.50" x2="1485.5" y2="1009.50" stroke="#b0b0b0" stroke-width="1.1" stroke-dasharray="1.1111 1.8333"/>
<line x1="105.5" y1="983.50" x2="1485.5" y2="983.50" stroke="#b0b0b0" stroke-width="1.1" stroke-dasharray="1.1111 1.8333"/>
<line x1="105.5" y1="957.50" x2="1485.5" y2="957.50" stroke="#b0b0b0" stroke-width="1.1" stroke-dasharray="1.1111 1.8333"/>
<line x1="162.25" y1="954.0" x2="162.25" y2="725.5" stroke="#800080" stroke-width="2.08" stroke-dasharray="2.0833 3.4375"/>
<line x1="1264.0" y1="954.0" x2="1264.0" y2="725.5" stroke="#800080" stroke-width="2.08" stroke-dasharray="2.0833 3.4375"/>
<line x1="1303.2" y1="954.0" x2="1303.2" y2="725.5" stroke="#800080" stroke-width="2.08" stroke-dasharray="2.0833 3.4375"/>
<line x1="162.25" y1="1011.0" x2="162.25" y2="954.5" stroke="#800080" stroke-width="2.08" stroke-dasharray="2.0833 3.4375"/>
<line x1="1264.0" y1="1011.0" x2="1264.0" y2="954.5" stroke="#800080" stroke-width="2.08" stroke-dasharray="2.0833 3.4375"/>
<line x1="1303.2" y1="1011.0" x2="1303.2" y2="954.5" stroke="#800080" stroke-width="2.08" stroke-dasharray="2.0833 3.4375"/>
<line x1="105.5" y1="954.5" x2="1485.5" y2="954.5" stroke="#000" stroke-width="1.1"/>
<rect x="105.5" y="725.5" width="1380.0" height="286.0" fill="none" stroke="#000" stroke-width="1.1"/>
<line x1="162.5" y1="1011.5" x2="162.5" y2="1016.9" stroke="#000" stroke-width="1.1"/>
<text x="158.91" y="1031.70" font-size="14.7" textLength="8.17" lengthAdjust="spacingAndGlyphs">0</text>
<line x1="334.5" y1="1011.5" x2="334.5" y2="1016.9" stroke="#000" stroke-width="1.1"/>
<text x="320.83" y="1031.70" font-size="14.7" textLength="25.72" lengthAdjust="spacingAndGlyphs">500</text>
<line x1="506.5" y1="1011.5" x2="506.5" y2="1016.9" stroke="#000" stroke-width="1.1"/>
<text x="487.97" y="1031.70" font-size="14.7" textLength="34.71" lengthAdjust="spacingAndGlyphs">1000</text>
<line x1="677.5" y1="1011.5" x2="677.5" y2="1016.9" stroke="#000" stroke-width="1.1"/>
<text x="659.67" y="1031.70" font-size="14.7" textLength="34.71" lengthAdjust="spacingAndGlyphs">1500</text>
<line x1="849.5" y1="1011.5" x2="849.5" y2="1016.9" stroke="#000" stroke-width="1.1"/>
<text x="831.20" y="1031.70" font-size="14.7" textLength="34.84" lengthAdjust="spacingAndGlyphs">2000</text>
<line x1="1021.5" y1="1011.5" x2="1021.5" y2="1016.9" stroke="#000" stroke-width="1.1"/>
<text x="1003.10" y="1031.70" font-size="14.7" textLength="34.84" lengthAdjust="spacingAndGlyphs">2500</text>
<line x1="1192.5" y1="1011.5" x2="1192.5" y2="1016.9" stroke="#000" stroke-width="1.1"/>
<text x="1175.02" y="1031.70" font-size="14.7" textLength="34.60" lengthAdjust="spacingAndGlyphs">3000</text>
<line x1="1364.5" y1="1011.5" x2="1364.5" y2="1016.9" stroke="#000" stroke-width="1.1"/>
<text x="1346.02" y="1031.70" font-size="14.7" textLength="34.60" lengthAdjust="spacingAndGlyphs">3500</text>
<line x1="105.5" y1="758.5" x2="100.1" y2="758.5" stroke="#000" stroke-width="1.1"/>
<text x="15.63" y="763.90" font-size="14.7" textLength="80.22" lengthAdjust="spacingAndGlyphs">not Kalman</text>
<line x1="105.5" y1="791.5" x2="100.1" y2="791.5" stroke="#000" stroke-width="1.1"/>
<text x="32.59" y="795.80" font-size="14.7" textLength="63.11" lengthAdjust="spacingAndGlyphs">not track</text>
<line x1="105.5" y1="823.5" x2="100.1" y2="823.5" stroke="#000" stroke-width="1.1"/>
<text x="25.79" y="828.50" font-size="14.7" textLength="69.66" lengthAdjust="spacingAndGlyphs">Sat. pixel.</text>
<line x1="105.5" y1="856.5" x2="100.1" y2="856.5" stroke="#000" stroke-width="1.1"/>
<text x="37.21" y="861.90" font-size="14.7" textLength="58.92" lengthAdjust="spacingAndGlyphs">Ion. rad.</text>
<line x1="105.5" y1="889.5" x2="100.1" y2="889.5" stroke="#000" stroke-width="1.1"/>
<text x="51.88" y="893.90" font-size="14.7" textLength="43.90" lengthAdjust="spacingAndGlyphs">dr &gt; 5</text>
<line x1="105.5" y1="921.5" x2="100.1" y2="921.5" stroke="#000" stroke-width="1.1"/>
<text x="14.90" y="926.50" font-size="14.7" textLength="80.78" lengthAdjust="spacingAndGlyphs">OBS not OK</text>
<line x1="105.5" y1="1009.5" x2="100.1" y2="1009.5" stroke="#000" stroke-width="1.1"/>
<text x="86.68" y="1014.50" font-size="14.7" textLength="8.17" lengthAdjust="spacingAndGlyphs">0</text>
<line x1="105.5" y1="983.5" x2="100.1" y2="983.5" stroke="#000" stroke-width="1.1"/>
<text x="86.89" y="988.50" font-size="14.7" textLength="7.68" lengthAdjust="spacingAndGlyphs">5</text>
<line x1="105.5" y1="957.5" x2="100.1" y2="957.5" stroke="#000" stroke-width="1.1"/>
<text x="77.91" y="962.50" font-size="14.7" textLength="17.00" lengthAdjust="spacingAndGlyphs">10</text>
<line x1="105.5" y1="996.5" x2="102.2" y2="996.5" stroke="#000" stroke-width="0.9"/>
<line x1="105.5" y1="970.5" x2="102.2" y2="970.5" stroke="#000" stroke-width="0.9"/>
<text transform="translate(69.3 990.70) rotate(-90)" font-size="14.7" textLength="14.73" lengthAdjust="spacingAndGlyphs">dr</text>
</g>
</svg>
</body></html>
